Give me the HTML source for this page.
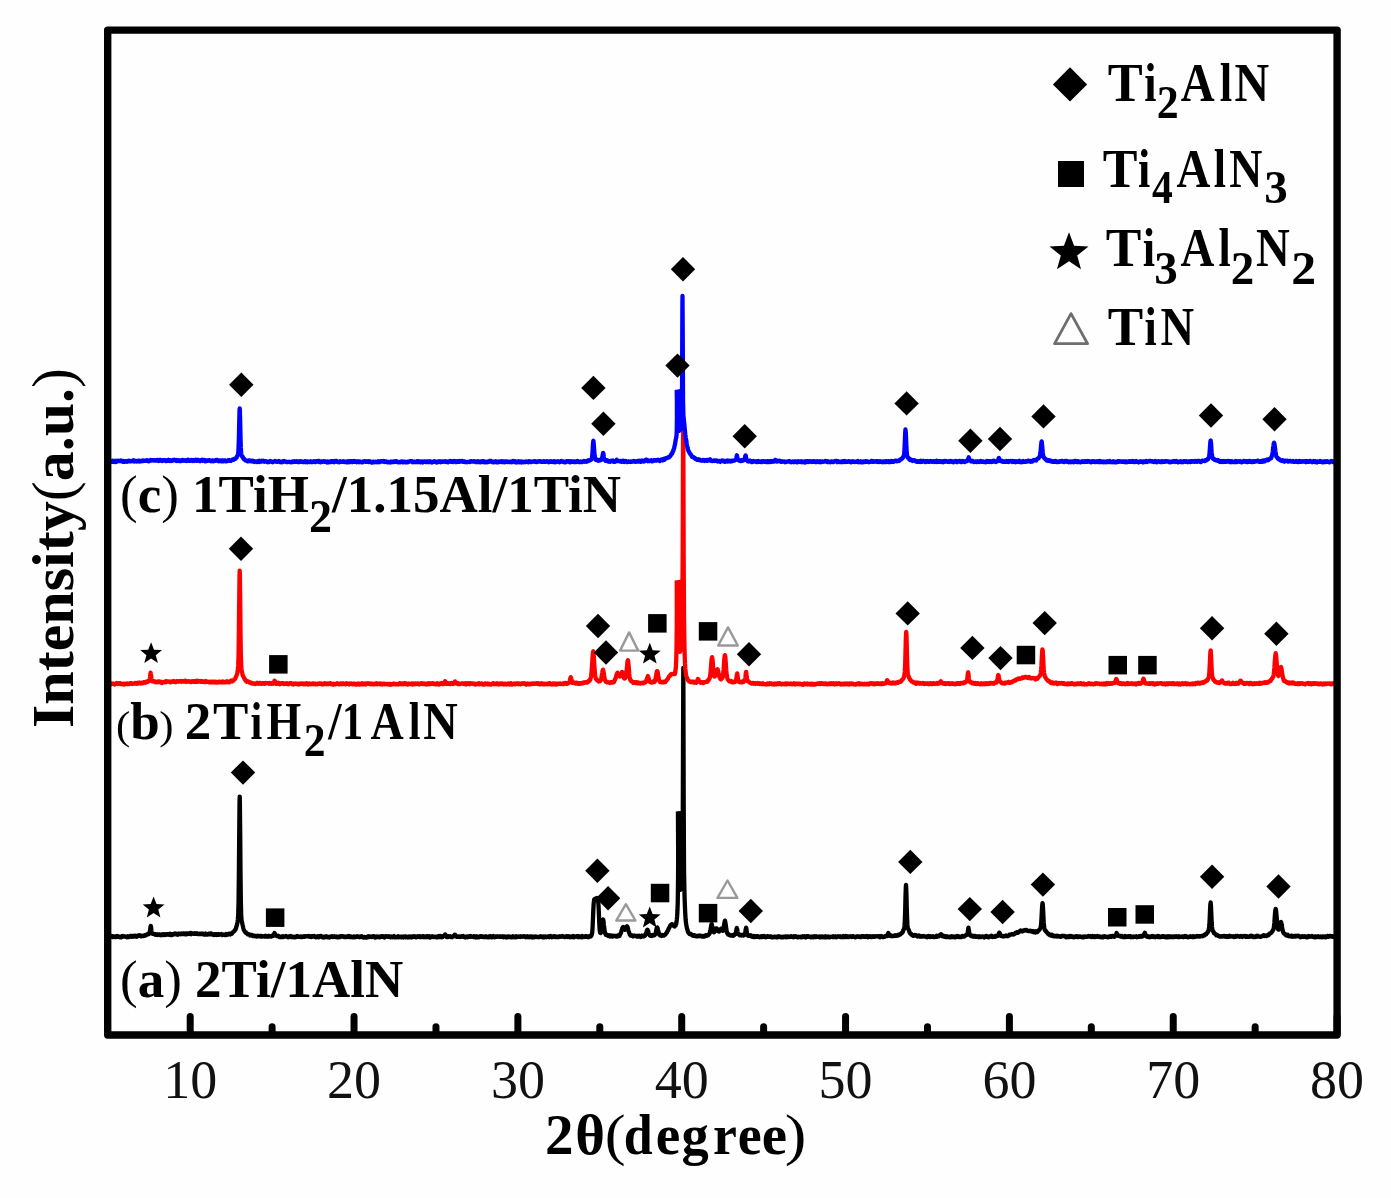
<!DOCTYPE html>
<html><head><meta charset="utf-8"><style>
html,body{margin:0;padding:0;background:#fefefe;}
svg{display:block;will-change:transform;}
</style></head><body>
<svg width="1391" height="1198" viewBox="0 0 1391 1198">
<rect width="1391" height="1198" fill="#fefefe"/>
<g>
<g fill="none" stroke-width="4.3" stroke-linejoin="round" stroke-linecap="round">
<path stroke="#000" d="M109.50,936.44 L109.83,936.62 L110.16,936.53 L110.49,936.71 L110.82,936.83 L111.15,936.32 L111.48,936.02 L111.81,936.69 L112.14,936.44 L112.47,936.29 L112.80,936.98 L113.13,936.79 L113.46,937.07 L113.79,936.84 L114.12,936.89 L114.45,936.42 L114.78,936.67 L115.11,937.03 L115.44,936.86 L115.77,936.99 L116.10,936.98 L116.43,936.37 L116.76,936.76 L117.09,936.78 L117.42,936.50 L117.75,936.09 L118.08,936.71 L118.41,936.63 L118.74,936.83 L119.07,937.09 L119.40,937.05 L119.73,937.24 L120.06,936.80 L120.39,936.99 L120.72,936.72 L121.05,937.07 L121.38,937.19 L121.71,936.46 L122.04,936.14 L122.37,936.05 L122.70,936.75 L123.03,936.57 L123.36,936.67 L123.69,936.39 L124.02,936.45 L124.35,936.35 L124.68,936.27 L125.01,936.46 L125.34,936.55 L125.67,936.91 L126.00,936.86 L126.33,937.08 L126.66,937.11 L126.99,937.26 L127.32,937.01 L127.65,936.37 L127.98,936.74 L128.31,937.03 L128.64,937.11 L128.97,936.81 L129.30,936.80 L129.63,936.28 L129.96,936.64 L130.29,936.56 L130.62,936.22 L130.95,935.83 L131.28,936.41 L131.61,936.84 L131.94,936.14 L132.27,936.50 L132.60,936.28 L132.93,935.91 L133.26,935.86 L133.59,936.30 L133.92,936.62 L134.25,935.94 L134.58,936.17 L134.91,935.70 L135.24,936.14 L135.57,935.96 L135.90,936.41 L136.23,936.73 L136.56,936.40 L136.89,936.73 L137.22,936.19 L137.55,935.68 L137.88,935.94 L138.21,935.49 L138.54,935.42 L138.87,935.58 L139.20,935.86 L139.53,935.53 L139.86,935.24 L140.19,935.91 L140.52,935.68 L140.85,936.19 L141.18,936.37 L141.51,935.93 L141.84,935.78 L142.17,935.74 L142.50,935.83 L142.83,935.81 L143.16,935.74 L143.49,935.74 L143.82,936.04 L144.15,935.73 L144.48,935.47 L144.81,935.60 L145.14,935.15 L145.47,934.95 L145.80,935.49 L146.13,935.25 L146.46,935.11 L146.79,934.44 L147.12,934.45 L147.45,934.55 L147.78,933.96 L148.11,934.17 L148.44,934.20 L148.77,933.55 L149.10,933.65 L149.43,933.20 L149.76,932.28 L150.09,929.75 L150.42,927.27 L150.70,926.40 L150.75,925.79 L151.08,927.21 L151.41,930.44 L151.74,932.88 L152.07,933.26 L152.40,933.55 L152.73,933.85 L153.06,933.78 L153.39,933.85 L153.72,933.89 L154.05,934.01 L154.38,934.33 L154.71,934.23 L155.04,934.28 L155.37,934.72 L155.70,934.22 L156.03,934.52 L156.36,934.85 L156.69,934.60 L157.02,934.40 L157.35,934.88 L157.68,934.56 L158.01,934.35 L158.34,934.50 L158.67,934.83 L159.00,934.40 L159.33,934.40 L159.66,934.42 L159.99,934.92 L160.32,934.77 L160.65,935.11 L160.98,934.59 L161.31,934.49 L161.64,934.75 L161.97,935.11 L162.30,934.84 L162.63,934.48 L162.96,934.19 L163.29,934.44 L163.62,934.23 L163.95,934.73 L164.28,935.00 L164.61,934.48 L164.94,934.30 L165.27,934.73 L165.60,934.78 L165.93,934.96 L166.26,934.58 L166.59,934.16 L166.92,934.11 L167.25,934.58 L167.58,934.28 L167.91,934.20 L168.24,934.22 L168.57,934.23 L168.90,934.21 L169.23,934.71 L169.56,934.18 L169.89,933.76 L170.22,934.48 L170.55,934.77 L170.88,935.01 L171.21,934.58 L171.54,934.87 L171.87,934.98 L172.20,934.32 L172.53,934.51 L172.86,934.69 L173.19,934.60 L173.52,934.40 L173.85,934.07 L174.18,933.94 L174.51,933.76 L174.84,933.50 L175.17,933.89 L175.50,933.77 L175.83,934.23 L176.16,933.69 L176.49,934.27 L176.82,934.35 L177.15,934.61 L177.48,934.70 L177.81,934.75 L178.14,934.45 L178.47,933.72 L178.80,934.09 L179.13,933.69 L179.46,933.62 L179.79,933.90 L180.12,933.91 L180.45,933.80 L180.78,934.27 L181.11,934.17 L181.44,933.85 L181.77,933.59 L182.10,934.07 L182.43,933.92 L182.76,934.15 L183.09,933.83 L183.42,933.51 L183.75,933.68 L184.08,934.05 L184.41,933.58 L184.74,933.97 L185.07,934.29 L185.40,934.33 L185.73,934.37 L186.06,933.56 L186.39,933.78 L186.72,934.13 L187.05,933.48 L187.38,933.38 L187.71,933.32 L188.04,933.55 L188.37,933.56 L188.70,933.62 L189.03,933.95 L189.36,933.34 L189.69,933.08 L190.02,933.03 L190.35,933.00 L190.68,932.93 L191.01,933.80 L191.34,934.12 L191.67,933.51 L192.00,933.62 L192.33,933.49 L192.66,933.42 L192.99,933.43 L193.32,933.73 L193.65,933.82 L193.98,933.64 L194.31,933.39 L194.64,933.40 L194.97,933.20 L195.30,933.54 L195.63,933.87 L195.96,933.70 L196.29,933.32 L196.62,933.23 L196.95,933.38 L197.28,933.69 L197.61,934.03 L197.94,933.80 L198.27,934.11 L198.60,934.09 L198.93,933.89 L199.26,933.74 L199.59,933.79 L199.92,934.03 L200.25,933.87 L200.58,934.07 L200.91,933.94 L201.24,933.66 L201.57,933.82 L201.90,934.07 L202.23,933.57 L202.56,933.68 L202.89,933.74 L203.22,934.23 L203.55,934.54 L203.88,934.14 L204.21,934.47 L204.54,934.53 L204.87,934.04 L205.20,934.00 L205.53,933.65 L205.86,934.17 L206.19,934.28 L206.52,934.57 L206.85,934.63 L207.18,934.54 L207.51,934.57 L207.84,934.42 L208.17,933.89 L208.50,934.11 L208.83,933.65 L209.16,933.57 L209.49,934.16 L209.82,933.74 L210.15,933.58 L210.48,933.51 L210.81,934.27 L211.14,933.96 L211.47,933.65 L211.80,934.32 L212.13,933.94 L212.46,934.48 L212.79,934.59 L213.12,934.81 L213.45,935.05 L213.78,934.80 L214.11,934.90 L214.44,934.19 L214.77,934.58 L215.10,934.52 L215.43,934.70 L215.76,934.19 L216.09,934.58 L216.42,934.97 L216.75,934.29 L217.08,934.23 L217.41,934.44 L217.74,934.81 L218.07,934.42 L218.40,934.16 L218.73,934.11 L219.06,934.45 L219.39,934.77 L219.72,934.57 L220.05,934.45 L220.38,934.42 L220.71,934.36 L221.04,934.40 L221.37,934.09 L221.70,934.35 L222.03,934.95 L222.36,934.69 L222.69,934.90 L223.02,934.41 L223.35,934.70 L223.68,934.90 L224.01,934.92 L224.34,934.77 L224.67,934.66 L225.00,934.75 L225.33,935.05 L225.66,934.44 L225.99,934.07 L226.32,934.53 L226.65,934.91 L226.98,934.69 L227.31,934.49 L227.64,934.64 L227.97,934.17 L228.30,933.99 L228.63,933.80 L228.96,934.07 L229.29,933.89 L229.62,933.69 L229.95,934.00 L230.28,934.37 L230.61,933.85 L230.94,933.94 L231.27,933.62 L231.60,933.83 L231.93,933.57 L232.26,933.03 L232.59,932.60 L232.92,932.07 L233.25,932.11 L233.58,931.87 L233.91,931.34 L234.24,931.05 L234.57,930.61 L234.90,930.54 L235.23,929.53 L235.56,929.47 L235.89,928.44 L236.22,927.49 L236.55,926.23 L236.88,925.21 L237.21,923.80 L237.54,921.78 L237.87,919.16 L238.20,914.58 L238.53,902.88 L238.86,876.28 L239.19,836.46 L239.52,802.85 L239.70,796.63 L239.85,800.35 L240.18,832.09 L240.51,873.04 L240.84,900.98 L241.17,914.29 L241.50,919.52 L241.83,921.53 L242.16,923.07 L242.49,924.56 L242.82,925.82 L243.15,927.46 L243.48,928.86 L243.81,929.97 L244.14,930.19 L244.47,931.18 L244.80,931.36 L245.13,931.77 L245.46,932.45 L245.79,932.31 L246.12,932.39 L246.45,933.30 L246.78,933.32 L247.11,933.50 L247.44,933.90 L247.77,934.28 L248.10,933.87 L248.43,934.06 L248.76,934.32 L249.09,934.55 L249.42,934.45 L249.75,934.82 L250.08,935.41 L250.41,935.19 L250.74,935.27 L251.07,934.91 L251.40,934.93 L251.73,935.35 L252.06,935.04 L252.39,935.69 L252.72,936.05 L253.05,935.45 L253.38,936.01 L253.71,935.75 L254.04,936.03 L254.37,936.18 L254.70,935.81 L255.03,936.02 L255.36,936.12 L255.69,936.33 L256.02,935.91 L256.35,936.21 L256.68,936.57 L257.01,936.48 L257.34,936.31 L257.67,935.81 L258.00,935.95 L258.33,935.89 L258.66,936.23 L258.99,936.38 L259.32,936.34 L259.65,935.95 L259.98,936.22 L260.31,936.35 L260.64,935.97 L260.97,936.50 L261.30,936.54 L261.63,936.03 L261.96,936.59 L262.29,936.08 L262.62,936.03 L262.95,936.39 L263.28,936.45 L263.61,936.45 L263.94,936.54 L264.27,936.40 L264.60,936.19 L264.93,935.95 L265.26,935.72 L265.59,936.26 L265.92,936.57 L266.25,936.51 L266.58,936.68 L266.91,936.38 L267.24,936.14 L267.57,936.13 L267.90,936.62 L268.23,936.03 L268.56,936.19 L268.89,936.01 L269.22,936.43 L269.55,936.22 L269.88,936.09 L270.21,936.08 L270.54,936.20 L270.87,936.47 L271.20,936.17 L271.53,936.50 L271.86,935.90 L272.19,935.73 L272.52,935.45 L272.85,935.29 L273.18,935.82 L273.51,935.88 L273.84,934.96 L274.17,933.84 L274.50,933.06 L274.70,933.25 L274.83,933.61 L275.16,934.48 L275.49,935.34 L275.82,935.44 L276.15,935.69 L276.48,935.58 L276.81,935.89 L277.14,936.10 L277.47,935.87 L277.80,935.83 L278.13,936.36 L278.46,935.89 L278.79,936.45 L279.12,936.83 L279.45,937.09 L279.78,936.66 L280.11,936.63 L280.44,936.65 L280.77,936.72 L281.10,937.11 L281.43,937.02 L281.76,936.59 L282.09,936.94 L282.42,936.75 L282.75,936.77 L283.08,936.92 L283.41,936.27 L283.74,936.71 L284.07,936.83 L284.40,936.72 L284.73,936.70 L285.06,936.63 L285.39,936.33 L285.72,936.52 L286.05,936.13 L286.38,936.40 L286.71,936.68 L287.04,936.62 L287.37,936.71 L287.70,937.15 L288.03,937.31 L288.36,936.63 L288.69,936.95 L289.02,936.94 L289.35,936.37 L289.68,936.39 L290.01,936.28 L290.34,936.07 L290.67,936.42 L291.00,936.99 L291.33,936.67 L291.66,937.06 L291.99,937.08 L292.32,936.53 L292.65,936.98 L292.98,936.95 L293.31,937.26 L293.64,937.21 L293.97,937.20 L294.30,936.81 L294.63,937.07 L294.96,937.33 L295.29,937.39 L295.62,937.00 L295.95,937.12 L296.28,936.91 L296.61,936.43 L296.94,936.12 L297.27,936.01 L297.60,936.07 L297.93,936.06 L298.26,936.40 L298.59,936.77 L298.92,936.79 L299.25,936.69 L299.58,936.86 L299.91,936.65 L300.24,936.68 L300.57,936.99 L300.90,936.79 L301.23,936.47 L301.56,937.03 L301.89,937.13 L302.22,936.82 L302.55,936.68 L302.88,936.76 L303.21,936.87 L303.54,936.55 L303.87,936.17 L304.20,936.19 L304.53,936.77 L304.86,936.43 L305.19,936.57 L305.52,936.37 L305.85,936.29 L306.18,936.21 L306.51,936.41 L306.84,936.27 L307.17,936.06 L307.50,936.03 L307.83,936.08 L308.16,936.43 L308.49,936.17 L308.82,936.00 L309.15,936.35 L309.48,936.48 L309.81,936.84 L310.14,936.37 L310.47,936.48 L310.80,936.53 L311.13,936.19 L311.46,936.96 L311.79,936.59 L312.12,936.29 L312.45,936.52 L312.78,936.32 L313.11,936.68 L313.44,936.58 L313.77,936.31 L314.10,936.11 L314.43,936.68 L314.76,936.51 L315.09,936.94 L315.42,936.83 L315.75,937.25 L316.08,936.82 L316.41,936.56 L316.74,936.44 L317.07,936.93 L317.40,936.99 L317.73,936.74 L318.06,936.36 L318.39,936.76 L318.72,937.25 L319.05,937.11 L319.38,936.46 L319.71,936.16 L320.04,936.07 L320.37,936.10 L320.70,935.99 L321.03,935.94 L321.36,936.52 L321.69,937.06 L322.02,936.63 L322.35,937.19 L322.68,936.97 L323.01,937.19 L323.34,937.41 L323.67,937.54 L324.00,936.70 L324.33,936.56 L324.66,936.78 L324.99,937.24 L325.32,936.60 L325.65,936.49 L325.98,937.00 L326.31,936.51 L326.64,936.54 L326.97,936.50 L327.30,936.83 L327.63,937.24 L327.96,936.69 L328.29,936.99 L328.62,937.13 L328.95,937.30 L329.28,937.10 L329.61,937.37 L329.94,936.95 L330.27,936.79 L330.60,936.52 L330.93,936.94 L331.26,936.85 L331.59,936.59 L331.92,936.36 L332.25,936.80 L332.58,936.91 L332.91,937.06 L333.24,936.82 L333.57,936.79 L333.90,936.45 L334.23,936.83 L334.56,936.34 L334.89,936.54 L335.22,936.93 L335.55,937.04 L335.88,936.52 L336.21,936.40 L336.54,936.94 L336.87,937.01 L337.20,937.29 L337.53,937.41 L337.86,937.06 L338.19,937.33 L338.52,937.30 L338.85,936.88 L339.18,936.71 L339.51,936.33 L339.84,936.46 L340.17,937.09 L340.50,936.55 L340.83,936.74 L341.16,936.38 L341.49,936.17 L341.82,936.64 L342.15,936.46 L342.48,936.18 L342.81,936.14 L343.14,936.62 L343.47,936.79 L343.80,936.31 L344.13,936.28 L344.46,937.01 L344.79,936.62 L345.12,936.77 L345.45,936.71 L345.78,937.03 L346.11,937.02 L346.44,937.20 L346.77,937.03 L347.10,936.61 L347.43,936.38 L347.76,936.17 L348.09,936.81 L348.42,936.42 L348.75,936.13 L349.08,936.93 L349.41,936.57 L349.74,937.08 L350.07,936.52 L350.40,936.63 L350.73,936.44 L351.06,936.95 L351.39,936.99 L351.72,937.04 L352.05,937.18 L352.38,937.36 L352.71,936.93 L353.04,936.97 L353.37,936.83 L353.70,936.43 L354.03,936.95 L354.36,936.97 L354.69,937.20 L355.02,936.71 L355.35,936.79 L355.68,936.76 L356.01,937.01 L356.34,936.48 L356.67,936.49 L357.00,936.63 L357.33,936.29 L357.66,936.60 L357.99,936.93 L358.32,936.79 L358.65,936.94 L358.98,936.98 L359.31,936.60 L359.64,936.55 L359.97,937.17 L360.30,936.82 L360.63,936.74 L360.96,936.35 L361.29,936.30 L361.62,936.21 L361.95,936.94 L362.28,937.10 L362.61,937.32 L362.94,937.55 L363.27,937.29 L363.60,937.47 L363.93,937.17 L364.26,936.91 L364.59,937.30 L364.92,937.45 L365.25,937.58 L365.58,937.17 L365.91,937.26 L366.24,936.94 L366.57,937.37 L366.90,937.50 L367.23,936.94 L367.56,937.31 L367.89,936.74 L368.22,936.36 L368.55,936.80 L368.88,936.60 L369.21,936.72 L369.54,936.90 L369.87,936.39 L370.20,936.84 L370.53,936.60 L370.86,936.63 L371.19,936.56 L371.52,936.92 L371.85,937.11 L372.18,936.74 L372.51,936.37 L372.84,936.39 L373.17,936.50 L373.50,936.23 L373.83,936.17 L374.16,936.75 L374.49,936.97 L374.82,937.36 L375.15,937.56 L375.48,937.56 L375.81,937.05 L376.14,936.59 L376.47,936.51 L376.80,936.62 L377.13,936.73 L377.46,936.81 L377.79,936.66 L378.12,937.08 L378.45,936.73 L378.78,936.73 L379.11,937.15 L379.44,937.28 L379.77,936.84 L380.10,936.56 L380.43,936.99 L380.76,936.40 L381.09,936.23 L381.42,936.55 L381.75,936.71 L382.08,936.42 L382.41,936.16 L382.74,936.18 L383.07,936.76 L383.40,936.75 L383.73,937.25 L384.06,937.31 L384.39,937.54 L384.72,936.70 L385.05,936.44 L385.38,936.13 L385.71,936.40 L386.04,936.44 L386.37,936.17 L386.70,936.53 L387.03,936.26 L387.36,936.34 L387.69,936.32 L388.02,936.86 L388.35,936.75 L388.68,936.53 L389.01,936.21 L389.34,936.43 L389.67,936.74 L390.00,936.95 L390.33,937.28 L390.66,937.35 L390.99,936.82 L391.32,936.45 L391.65,936.88 L391.98,937.13 L392.31,936.97 L392.64,937.22 L392.97,937.06 L393.30,936.71 L393.63,936.42 L393.96,936.13 L394.29,936.61 L394.62,937.10 L394.95,937.35 L395.28,937.04 L395.61,937.09 L395.94,937.37 L396.27,937.40 L396.60,937.20 L396.93,936.91 L397.26,936.87 L397.59,936.51 L397.92,936.33 L398.25,936.75 L398.58,937.26 L398.91,937.08 L399.24,936.85 L399.57,936.67 L399.90,936.69 L400.23,937.05 L400.56,936.87 L400.89,937.29 L401.22,936.70 L401.55,936.56 L401.88,936.70 L402.21,936.66 L402.54,937.08 L402.87,937.26 L403.20,937.46 L403.53,937.24 L403.86,936.55 L404.19,936.75 L404.52,936.82 L404.85,936.80 L405.18,936.58 L405.51,936.89 L405.84,937.26 L406.17,936.63 L406.50,936.88 L406.83,936.71 L407.16,936.77 L407.49,937.18 L407.82,937.45 L408.15,937.26 L408.48,936.72 L408.81,937.18 L409.14,936.67 L409.47,936.61 L409.80,937.03 L410.13,936.73 L410.46,936.53 L410.79,937.11 L411.12,937.40 L411.45,936.91 L411.78,936.75 L412.11,936.55 L412.44,936.30 L412.77,936.30 L413.10,937.03 L413.43,936.49 L413.76,936.37 L414.09,936.28 L414.42,936.12 L414.75,936.48 L415.08,936.88 L415.41,937.17 L415.74,937.11 L416.07,937.27 L416.40,936.54 L416.73,936.45 L417.06,937.08 L417.39,936.50 L417.72,936.41 L418.05,936.59 L418.38,936.46 L418.71,936.67 L419.04,936.28 L419.37,936.27 L419.70,936.99 L420.03,936.53 L420.36,937.07 L420.69,936.60 L421.02,937.19 L421.35,937.16 L421.68,937.12 L422.01,936.60 L422.34,936.25 L422.67,936.78 L423.00,936.46 L423.33,936.31 L423.66,936.87 L423.99,937.20 L424.32,936.54 L424.65,937.12 L424.98,936.99 L425.31,936.77 L425.64,936.38 L425.97,936.47 L426.30,937.11 L426.63,936.73 L426.96,936.39 L427.29,936.23 L427.62,936.13 L427.95,936.31 L428.28,936.96 L428.61,936.44 L428.94,936.30 L429.27,936.98 L429.60,937.37 L429.93,937.55 L430.26,936.91 L430.59,936.69 L430.92,937.18 L431.25,936.96 L431.58,937.07 L431.91,936.73 L432.24,936.27 L432.57,936.36 L432.90,936.81 L433.23,937.06 L433.56,936.98 L433.89,936.83 L434.22,936.83 L434.55,936.73 L434.88,936.77 L435.21,937.09 L435.54,936.61 L435.87,936.77 L436.20,937.18 L436.53,937.30 L436.86,936.69 L437.19,937.17 L437.52,937.28 L437.85,936.66 L438.18,936.44 L438.51,936.27 L438.84,936.03 L439.17,936.83 L439.50,936.65 L439.83,937.02 L440.16,936.44 L440.49,936.04 L440.82,936.69 L441.15,936.92 L441.48,937.23 L441.81,937.06 L442.14,936.80 L442.47,936.89 L442.80,936.25 L443.13,936.35 L443.46,936.28 L443.79,935.90 L444.12,936.04 L444.45,935.51 L444.78,935.02 L445.11,934.51 L445.20,934.39 L445.44,934.55 L445.77,935.37 L446.10,936.40 L446.43,936.88 L446.76,937.01 L447.09,937.04 L447.42,936.52 L447.75,936.96 L448.08,936.49 L448.41,936.11 L448.74,936.31 L449.07,936.64 L449.40,936.42 L449.73,936.61 L450.06,936.35 L450.39,936.90 L450.72,936.65 L451.05,936.55 L451.38,936.54 L451.71,936.87 L452.04,937.14 L452.37,936.80 L452.70,936.53 L453.03,936.55 L453.36,935.99 L453.69,936.00 L454.02,936.25 L454.35,935.94 L454.68,934.70 L455.00,934.90 L455.01,934.66 L455.34,935.47 L455.67,935.71 L456.00,935.83 L456.33,936.21 L456.66,936.71 L456.99,936.51 L457.32,936.86 L457.65,936.90 L457.98,936.58 L458.31,936.37 L458.64,936.49 L458.97,936.45 L459.30,936.41 L459.63,936.68 L459.96,937.04 L460.29,936.94 L460.62,936.45 L460.95,936.29 L461.28,936.36 L461.61,936.65 L461.94,936.32 L462.27,936.10 L462.60,936.23 L462.93,936.26 L463.26,936.02 L463.59,936.42 L463.92,937.00 L464.25,936.90 L464.58,937.06 L464.91,937.23 L465.24,937.33 L465.57,937.45 L465.90,937.05 L466.23,937.08 L466.56,936.54 L466.89,937.03 L467.22,936.78 L467.55,936.75 L467.88,937.15 L468.21,936.74 L468.54,936.45 L468.87,936.93 L469.20,936.95 L469.53,936.45 L469.86,936.14 L470.19,936.31 L470.52,936.05 L470.85,936.74 L471.18,936.44 L471.51,936.39 L471.84,936.47 L472.17,936.64 L472.50,936.64 L472.83,936.84 L473.16,936.97 L473.49,936.81 L473.82,936.39 L474.15,937.07 L474.48,937.12 L474.81,936.53 L475.14,936.60 L475.47,936.95 L475.80,937.36 L476.13,936.64 L476.46,936.22 L476.79,936.48 L477.12,936.56 L477.45,937.07 L477.78,937.25 L478.11,936.85 L478.44,936.74 L478.77,936.85 L479.10,937.20 L479.43,936.70 L479.76,936.63 L480.09,936.30 L480.42,936.69 L480.75,936.26 L481.08,936.96 L481.41,936.90 L481.74,936.92 L482.07,936.44 L482.40,936.35 L482.73,936.54 L483.06,937.02 L483.39,936.95 L483.72,936.65 L484.05,937.20 L484.38,937.16 L484.71,937.00 L485.04,936.60 L485.37,936.49 L485.70,937.04 L486.03,936.55 L486.36,936.70 L486.69,936.87 L487.02,936.69 L487.35,937.01 L487.68,937.31 L488.01,937.41 L488.34,937.34 L488.67,936.77 L489.00,936.34 L489.33,936.50 L489.66,936.46 L489.99,936.32 L490.32,936.93 L490.65,936.58 L490.98,937.01 L491.31,937.34 L491.64,936.69 L491.97,937.15 L492.30,936.87 L492.63,936.55 L492.96,936.36 L493.29,936.11 L493.62,936.45 L493.95,936.51 L494.28,937.00 L494.61,937.23 L494.94,936.57 L495.27,936.58 L495.60,936.58 L495.93,936.36 L496.26,936.33 L496.59,936.33 L496.92,936.76 L497.25,936.62 L497.58,936.32 L497.91,936.28 L498.24,936.48 L498.57,936.70 L498.90,936.49 L499.23,936.84 L499.56,936.54 L499.89,936.84 L500.22,936.93 L500.55,936.54 L500.88,936.92 L501.21,936.75 L501.54,936.81 L501.87,936.90 L502.20,936.98 L502.53,936.83 L502.86,936.37 L503.19,936.87 L503.52,937.19 L503.85,936.98 L504.18,936.97 L504.51,936.65 L504.84,937.12 L505.17,937.15 L505.50,936.69 L505.83,937.06 L506.16,937.42 L506.49,936.95 L506.82,937.37 L507.15,937.07 L507.48,936.61 L507.81,936.92 L508.14,936.70 L508.47,936.98 L508.80,936.97 L509.13,936.49 L509.46,936.67 L509.79,937.09 L510.12,936.92 L510.45,936.90 L510.78,937.21 L511.11,936.95 L511.44,936.87 L511.77,936.92 L512.10,937.18 L512.43,936.69 L512.76,936.34 L513.09,936.83 L513.42,936.87 L513.75,936.64 L514.08,937.11 L514.41,937.34 L514.74,937.11 L515.07,937.44 L515.40,937.46 L515.73,937.38 L516.06,936.88 L516.39,936.35 L516.72,936.75 L517.05,937.01 L517.38,936.76 L517.71,936.76 L518.04,936.85 L518.37,936.57 L518.70,936.88 L519.03,936.90 L519.36,936.74 L519.69,936.38 L520.02,936.64 L520.35,936.54 L520.68,936.90 L521.01,936.52 L521.34,936.55 L521.67,936.37 L522.00,936.50 L522.33,936.72 L522.66,936.37 L522.99,936.14 L523.32,936.45 L523.65,936.33 L523.98,936.57 L524.31,936.35 L524.64,936.18 L524.97,936.53 L525.30,937.09 L525.63,937.31 L525.96,937.07 L526.29,936.83 L526.62,936.38 L526.95,936.37 L527.28,936.40 L527.61,937.04 L527.94,936.54 L528.27,937.12 L528.60,936.94 L528.93,936.80 L529.26,936.56 L529.59,937.14 L529.92,936.66 L530.25,936.80 L530.58,936.81 L530.91,936.50 L531.24,936.38 L531.57,937.07 L531.90,937.23 L532.23,937.25 L532.56,937.43 L532.89,936.71 L533.22,936.96 L533.55,937.13 L533.88,936.69 L534.21,936.70 L534.54,937.23 L534.87,936.84 L535.20,937.08 L535.53,936.61 L535.86,936.87 L536.19,936.60 L536.52,936.71 L536.85,936.63 L537.18,937.08 L537.51,937.19 L537.84,937.00 L538.17,937.09 L538.50,936.87 L538.83,937.14 L539.16,936.73 L539.49,936.81 L539.82,936.89 L540.15,936.73 L540.48,936.31 L540.81,936.23 L541.14,936.65 L541.47,936.44 L541.80,936.88 L542.13,936.84 L542.46,937.27 L542.79,937.39 L543.12,937.31 L543.45,936.92 L543.78,936.40 L544.11,936.65 L544.44,936.96 L544.77,937.30 L545.10,936.75 L545.43,936.43 L545.76,937.09 L546.09,937.18 L546.42,936.97 L546.75,937.12 L547.08,936.60 L547.41,936.74 L547.74,936.93 L548.07,936.96 L548.40,936.54 L548.73,936.30 L549.06,936.67 L549.39,937.11 L549.72,936.59 L550.05,936.19 L550.38,936.07 L550.71,936.71 L551.04,936.64 L551.37,936.67 L551.70,937.22 L552.03,937.11 L552.36,936.71 L552.69,936.95 L553.02,936.37 L553.35,936.36 L553.68,936.77 L554.01,936.45 L554.34,936.15 L554.67,936.48 L555.00,936.46 L555.33,937.09 L555.66,936.54 L555.99,936.96 L556.32,936.76 L556.65,937.08 L556.98,936.87 L557.31,936.99 L557.64,936.71 L557.97,936.47 L558.30,936.58 L558.63,936.98 L558.96,936.72 L559.29,936.48 L559.62,936.55 L559.95,936.26 L560.28,936.33 L560.61,936.63 L560.94,936.75 L561.27,936.86 L561.60,936.61 L561.93,936.22 L562.26,936.02 L562.59,936.24 L562.92,936.20 L563.25,936.55 L563.58,936.43 L563.91,936.86 L564.24,936.91 L564.57,937.00 L564.90,937.12 L565.23,936.97 L565.56,936.79 L565.89,936.59 L566.22,936.24 L566.55,936.80 L566.88,936.78 L567.21,936.37 L567.54,936.99 L567.87,936.95 L568.20,936.98 L568.53,936.80 L568.86,936.40 L569.19,937.08 L569.52,936.58 L569.85,936.53 L570.18,937.14 L570.51,936.57 L570.84,936.66 L571.17,936.68 L571.50,936.46 L571.83,937.03 L572.16,936.80 L572.49,936.28 L572.82,936.49 L573.15,936.12 L573.48,936.64 L573.81,937.06 L574.14,937.30 L574.47,936.57 L574.80,936.83 L575.13,936.58 L575.46,936.63 L575.79,936.48 L576.12,936.41 L576.45,936.20 L576.78,936.59 L577.11,936.24 L577.44,936.95 L577.77,936.38 L578.10,937.01 L578.43,936.55 L578.76,936.22 L579.09,936.71 L579.42,936.74 L579.75,936.99 L580.08,936.86 L580.41,936.91 L580.74,936.39 L581.07,936.72 L581.40,936.72 L581.73,937.17 L582.06,936.43 L582.39,936.13 L582.72,936.58 L583.05,937.05 L583.38,936.79 L583.71,936.94 L584.04,936.86 L584.37,936.65 L584.70,936.62 L585.03,936.74 L585.36,936.22 L585.69,936.24 L586.02,936.67 L586.35,936.41 L586.68,936.49 L587.01,936.31 L587.34,936.32 L587.67,936.61 L588.00,936.84 L588.33,937.17 L588.66,936.85 L588.99,936.41 L589.32,936.32 L589.65,935.99 L589.98,935.99 L590.31,936.33 L590.64,936.49 L590.97,936.14 L591.30,935.76 L591.63,935.12 L591.96,934.00 L592.29,931.77 L592.62,926.55 L592.95,919.17 L593.28,910.66 L593.61,904.35 L593.94,901.10 L594.27,899.25 L594.60,899.12 L594.93,899.11 L595.26,898.72 L595.59,898.87 L595.92,898.48 L596.25,898.20 L596.58,898.06 L596.91,897.96 L597.24,898.39 L597.57,898.90 L597.90,899.92 L598.23,901.47 L598.56,906.30 L598.89,913.58 L599.22,921.89 L599.55,928.33 L599.88,931.68 L600.21,932.76 L600.54,933.01 L600.87,932.75 L601.20,931.73 L601.53,930.04 L601.86,926.76 L602.19,924.10 L602.52,921.47 L602.85,919.83 L603.00,919.90 L603.18,919.45 L603.51,921.46 L603.84,924.53 L604.17,926.96 L604.50,929.78 L604.83,932.17 L605.16,933.00 L605.49,934.13 L605.82,934.83 L606.15,934.78 L606.48,934.55 L606.81,934.58 L607.14,935.28 L607.47,935.28 L607.80,935.23 L608.13,935.37 L608.46,935.97 L608.79,935.63 L609.12,935.26 L609.45,936.03 L609.78,935.80 L610.11,935.78 L610.44,936.38 L610.77,936.00 L611.10,935.62 L611.43,936.25 L611.76,935.92 L612.09,935.75 L612.42,936.38 L612.75,935.99 L613.08,936.47 L613.41,936.14 L613.74,935.95 L614.07,935.76 L614.40,935.99 L614.73,936.11 L615.06,936.01 L615.39,936.05 L615.72,935.86 L616.05,936.28 L616.38,936.58 L616.71,936.52 L617.04,936.54 L617.37,935.77 L617.70,935.54 L618.03,935.34 L618.36,935.15 L618.69,935.80 L619.02,936.00 L619.35,936.00 L619.68,935.50 L620.01,934.59 L620.34,934.14 L620.67,933.14 L621.00,932.96 L621.33,931.61 L621.66,930.31 L621.99,929.71 L622.32,928.20 L622.65,927.93 L622.98,927.19 L623.00,927.36 L623.31,926.92 L623.64,927.91 L623.97,928.35 L624.30,928.86 L624.63,929.59 L624.96,929.82 L625.29,929.30 L625.62,928.47 L625.95,928.02 L626.28,926.86 L626.61,926.94 L626.94,926.55 L627.00,926.28 L627.27,926.56 L627.60,927.07 L627.93,928.24 L628.26,929.76 L628.59,931.02 L628.92,932.10 L629.25,932.98 L629.58,933.87 L629.91,934.78 L630.24,935.01 L630.57,935.52 L630.90,935.55 L631.23,935.25 L631.56,935.18 L631.89,935.86 L632.22,935.86 L632.55,935.78 L632.88,935.90 L633.21,936.32 L633.54,936.07 L633.87,935.94 L634.20,935.90 L634.53,935.54 L634.86,935.90 L635.19,936.02 L635.52,936.11 L635.85,936.11 L636.18,936.14 L636.51,936.41 L636.84,936.01 L637.17,936.61 L637.50,936.04 L637.83,936.51 L638.16,936.06 L638.49,936.45 L638.82,936.10 L639.15,935.75 L639.48,936.03 L639.81,936.46 L640.14,936.67 L640.47,936.80 L640.80,936.96 L641.13,936.10 L641.46,935.99 L641.79,935.64 L642.12,936.09 L642.45,936.00 L642.78,936.22 L643.11,936.35 L643.44,936.59 L643.77,936.34 L644.10,936.37 L644.43,936.00 L644.76,935.25 L645.09,935.54 L645.42,934.62 L645.75,933.76 L646.08,933.52 L646.41,932.22 L646.74,931.40 L647.07,930.06 L647.40,929.67 L647.73,930.44 L648.06,930.80 L648.39,932.11 L648.72,933.69 L649.05,934.06 L649.38,934.89 L649.71,935.40 L650.04,935.56 L650.37,935.80 L650.70,935.86 L651.03,935.22 L651.36,935.08 L651.69,935.34 L652.02,935.90 L652.35,935.42 L652.68,935.52 L653.01,935.09 L653.34,935.56 L653.67,935.34 L654.00,935.25 L654.33,935.27 L654.66,934.60 L654.99,934.61 L655.32,934.28 L655.65,933.54 L655.98,931.78 L656.31,929.97 L656.64,928.30 L656.97,927.96 L657.20,927.59 L657.30,927.51 L657.63,928.27 L657.96,929.80 L658.29,931.06 L658.62,932.35 L658.95,933.79 L659.28,934.69 L659.61,934.75 L659.94,934.59 L660.27,935.40 L660.60,935.64 L660.93,935.65 L661.26,935.48 L661.59,935.97 L661.92,935.69 L662.25,935.33 L662.58,935.01 L662.91,935.08 L663.24,935.33 L663.57,935.16 L663.90,935.58 L664.23,935.40 L664.56,935.01 L664.89,934.87 L665.22,934.58 L665.55,934.27 L665.88,933.78 L666.21,933.32 L666.54,932.80 L666.87,932.59 L667.20,931.54 L667.53,931.29 L667.86,930.34 L668.19,930.08 L668.52,928.83 L668.85,928.30 L669.18,927.67 L669.51,927.34 L669.84,926.40 L670.17,925.77 L670.50,925.15 L670.83,925.13 L671.16,925.04 L671.49,924.39 L671.82,924.24 L672.15,924.23 L672.48,925.06 L672.81,925.09 L673.14,925.33 L673.47,925.30 L673.80,925.78 L674.13,926.27 L674.46,926.43 L674.79,925.82 L675.12,925.85 L675.45,925.68 L675.78,924.72 L676.11,924.29 L676.44,922.51 L676.77,919.92 L677.10,916.44 L677.43,911.00 L677.76,902.35 L678.09,875.18 L678.42,818.61 L678.50,813.61 L678.75,838.56 L679.08,878.56 L679.41,886.09 L679.74,888.58 L680.07,889.84 L680.40,889.79 L680.73,888.86 L681.06,886.91 L681.39,883.45 L681.72,878.97 L682.05,871.66 L682.38,861.39 L682.71,839.13 L683.04,739.36 L683.30,667.82 L683.37,675.96 L683.70,804.94 L684.03,870.42 L684.36,888.22 L684.69,900.11 L685.02,908.66 L685.35,915.38 L685.68,920.03 L686.01,923.14 L686.34,925.05 L686.67,926.92 L687.00,928.65 L687.33,929.28 L687.66,930.80 L687.99,931.77 L688.32,932.59 L688.65,932.97 L688.98,933.25 L689.31,933.91 L689.64,933.66 L689.97,933.68 L690.30,933.62 L690.63,933.73 L690.96,934.48 L691.29,934.22 L691.62,934.81 L691.95,934.81 L692.28,935.34 L692.61,935.53 L692.94,935.59 L693.27,935.82 L693.60,935.16 L693.93,935.09 L694.26,935.18 L694.59,935.31 L694.92,935.64 L695.25,936.04 L695.58,936.11 L695.91,936.36 L696.24,936.26 L696.57,935.89 L696.90,935.87 L697.23,936.11 L697.56,936.30 L697.89,935.96 L698.22,935.79 L698.55,935.97 L698.88,935.67 L699.21,936.19 L699.54,935.56 L699.87,935.90 L700.20,935.91 L700.53,935.62 L700.86,935.85 L701.19,935.87 L701.52,936.37 L701.85,936.53 L702.18,936.31 L702.51,936.48 L702.84,936.56 L703.17,935.88 L703.50,936.19 L703.83,936.33 L704.16,936.55 L704.49,936.41 L704.82,935.95 L705.15,935.51 L705.48,935.70 L705.81,935.33 L706.14,935.65 L706.47,935.59 L706.80,935.76 L707.13,935.33 L707.46,935.00 L707.79,935.36 L708.12,935.22 L708.45,934.76 L708.78,934.57 L709.11,934.12 L709.44,933.73 L709.77,932.80 L710.10,931.21 L710.43,929.97 L710.76,928.08 L711.09,926.13 L711.42,924.43 L711.60,923.89 L711.75,924.35 L712.08,925.62 L712.41,927.32 L712.74,928.79 L713.07,930.71 L713.40,931.77 L713.73,932.14 L714.06,932.34 L714.39,931.98 L714.72,931.58 L715.05,931.02 L715.38,930.52 L715.71,929.04 L716.04,928.54 L716.37,928.66 L716.50,928.56 L716.70,928.50 L717.03,929.09 L717.36,929.00 L717.69,930.14 L718.02,930.87 L718.35,931.38 L718.68,931.37 L719.01,931.51 L719.34,930.79 L719.67,930.45 L720.00,929.65 L720.33,929.62 L720.66,929.33 L720.99,928.87 L721.00,929.02 L721.32,928.81 L721.65,929.13 L721.98,929.25 L722.31,930.26 L722.64,930.74 L722.97,930.75 L723.30,929.42 L723.63,928.42 L723.96,925.75 L724.29,923.68 L724.62,921.82 L724.95,920.60 L725.00,920.75 L725.28,921.90 L725.61,923.76 L725.94,925.99 L726.27,928.88 L726.60,930.69 L726.93,932.58 L727.26,933.23 L727.59,933.33 L727.92,934.36 L728.25,934.04 L728.58,934.13 L728.91,934.76 L729.24,934.47 L729.57,934.80 L729.90,935.31 L730.23,935.33 L730.56,935.12 L730.89,935.44 L731.22,935.68 L731.55,935.55 L731.88,935.53 L732.21,935.21 L732.54,935.11 L732.87,935.62 L733.20,935.82 L733.53,934.90 L733.86,934.59 L734.19,934.41 L734.52,934.81 L734.85,934.35 L735.18,933.98 L735.51,934.12 L735.84,932.81 L736.17,931.43 L736.50,928.73 L736.80,928.02 L736.83,928.13 L737.16,929.01 L737.49,931.84 L737.82,933.45 L738.15,933.96 L738.48,933.94 L738.81,934.62 L739.14,934.86 L739.47,934.78 L739.80,935.31 L740.13,934.97 L740.46,935.08 L740.79,934.79 L741.12,934.92 L741.45,935.52 L741.78,935.43 L742.11,935.02 L742.44,934.88 L742.77,935.18 L743.10,934.92 L743.43,935.39 L743.76,934.72 L744.09,935.13 L744.42,935.01 L744.75,934.94 L745.08,933.82 L745.41,931.65 L745.74,929.14 L746.07,928.18 L746.10,927.76 L746.40,928.65 L746.73,931.64 L747.06,933.97 L747.39,935.08 L747.72,935.52 L748.05,935.46 L748.38,935.81 L748.71,935.88 L749.04,935.83 L749.37,935.72 L749.70,935.31 L750.03,935.22 L750.36,935.36 L750.69,935.68 L751.02,935.52 L751.35,936.32 L751.68,936.35 L752.01,936.54 L752.34,936.81 L752.67,936.30 L753.00,936.71 L753.33,937.00 L753.66,936.47 L753.99,936.08 L754.32,936.56 L754.65,936.90 L754.98,936.99 L755.31,936.65 L755.64,936.68 L755.97,936.22 L756.30,936.11 L756.63,936.25 L756.96,936.65 L757.29,936.19 L757.62,936.81 L757.95,936.23 L758.28,936.88 L758.61,936.48 L758.94,936.86 L759.27,937.05 L759.60,937.29 L759.93,936.93 L760.26,936.98 L760.59,936.60 L760.92,936.95 L761.25,936.41 L761.58,936.91 L761.91,936.88 L762.24,936.33 L762.57,936.94 L762.90,936.62 L763.23,936.21 L763.56,936.20 L763.89,935.97 L764.22,936.10 L764.55,936.60 L764.88,937.13 L765.21,937.04 L765.54,937.22 L765.87,937.28 L766.20,937.20 L766.53,936.83 L766.86,936.52 L767.19,936.27 L767.52,936.53 L767.85,936.32 L768.18,936.76 L768.51,936.55 L768.84,936.71 L769.17,936.76 L769.50,936.87 L769.83,936.45 L770.16,936.34 L770.49,936.72 L770.82,936.43 L771.15,936.75 L771.48,937.20 L771.81,936.86 L772.14,937.26 L772.47,937.11 L772.80,937.37 L773.13,937.08 L773.46,937.16 L773.79,937.13 L774.12,936.63 L774.45,936.71 L774.78,936.81 L775.11,936.74 L775.44,936.90 L775.77,937.23 L776.10,937.29 L776.43,937.33 L776.76,936.69 L777.09,936.92 L777.42,936.97 L777.75,937.30 L778.08,936.53 L778.41,936.32 L778.74,937.01 L779.07,936.76 L779.40,936.96 L779.73,936.95 L780.06,936.75 L780.39,936.70 L780.72,936.79 L781.05,937.27 L781.38,937.05 L781.71,937.20 L782.04,936.79 L782.37,936.99 L782.70,936.98 L783.03,937.12 L783.36,937.32 L783.69,936.63 L784.02,937.16 L784.35,937.08 L784.68,936.68 L785.01,936.70 L785.34,936.34 L785.67,936.29 L786.00,936.87 L786.33,937.04 L786.66,937.28 L786.99,936.69 L787.32,936.34 L787.65,936.44 L787.98,936.61 L788.31,936.91 L788.64,936.64 L788.97,936.95 L789.30,936.95 L789.63,936.66 L789.96,937.01 L790.29,936.47 L790.62,936.72 L790.95,936.44 L791.28,936.15 L791.61,936.45 L791.94,936.64 L792.27,936.82 L792.60,936.68 L792.93,937.16 L793.26,937.26 L793.59,936.68 L793.92,936.24 L794.25,936.97 L794.58,936.79 L794.91,936.39 L795.24,936.27 L795.57,936.73 L795.90,936.43 L796.23,936.48 L796.56,936.81 L796.89,936.66 L797.22,936.88 L797.55,937.28 L797.88,937.33 L798.21,937.19 L798.54,937.12 L798.87,936.77 L799.20,936.92 L799.53,937.01 L799.86,936.99 L800.19,936.88 L800.52,937.09 L800.85,936.65 L801.18,936.93 L801.51,937.34 L801.84,936.60 L802.17,936.45 L802.50,937.11 L802.83,936.53 L803.16,936.98 L803.49,936.97 L803.82,936.45 L804.15,936.75 L804.48,936.28 L804.81,936.89 L805.14,936.64 L805.47,937.14 L805.80,937.37 L806.13,936.72 L806.46,936.66 L806.79,936.38 L807.12,936.85 L807.45,936.42 L807.78,936.18 L808.11,936.11 L808.44,936.81 L808.77,936.55 L809.10,936.50 L809.43,936.60 L809.76,936.75 L810.09,936.69 L810.42,937.19 L810.75,936.84 L811.08,936.79 L811.41,937.16 L811.74,936.72 L812.07,936.44 L812.40,936.95 L812.73,936.69 L813.06,937.14 L813.39,937.29 L813.72,936.92 L814.05,936.69 L814.38,936.35 L814.71,936.95 L815.04,936.82 L815.37,936.65 L815.70,936.40 L816.03,936.33 L816.36,936.94 L816.69,936.50 L817.02,936.70 L817.35,936.88 L817.68,936.86 L818.01,936.83 L818.34,936.71 L818.67,936.45 L819.00,936.95 L819.33,937.27 L819.66,937.10 L819.99,936.70 L820.32,937.16 L820.65,936.68 L820.98,936.41 L821.31,936.73 L821.64,937.10 L821.97,937.02 L822.30,936.52 L822.63,937.14 L822.96,936.63 L823.29,936.56 L823.62,937.17 L823.95,937.28 L824.28,937.29 L824.61,936.62 L824.94,937.06 L825.27,936.83 L825.60,936.33 L825.93,936.85 L826.26,937.26 L826.59,936.58 L826.92,936.64 L827.25,937.12 L827.58,936.79 L827.91,936.60 L828.24,936.98 L828.57,936.83 L828.90,937.31 L829.23,937.41 L829.56,937.46 L829.89,937.34 L830.22,936.76 L830.55,936.97 L830.88,936.96 L831.21,936.86 L831.54,936.90 L831.87,936.65 L832.20,936.42 L832.53,937.02 L832.86,936.78 L833.19,936.39 L833.52,937.07 L833.85,936.95 L834.18,937.05 L834.51,936.76 L834.84,936.43 L835.17,936.45 L835.50,936.95 L835.83,936.65 L836.16,937.14 L836.49,936.77 L836.82,937.18 L837.15,936.67 L837.48,936.68 L837.81,936.37 L838.14,936.23 L838.47,936.54 L838.80,936.53 L839.13,936.70 L839.46,936.47 L839.79,936.44 L840.12,936.44 L840.45,937.02 L840.78,936.49 L841.11,936.56 L841.44,937.03 L841.77,936.99 L842.10,936.65 L842.43,937.22 L842.76,936.62 L843.09,936.34 L843.42,936.09 L843.75,936.38 L844.08,936.95 L844.41,936.65 L844.74,936.51 L845.07,936.95 L845.40,936.45 L845.73,936.14 L846.06,936.60 L846.39,936.27 L846.72,936.55 L847.05,936.30 L847.38,936.64 L847.71,937.05 L848.04,936.86 L848.37,936.59 L848.70,936.80 L849.03,936.98 L849.36,936.43 L849.69,936.34 L850.02,936.43 L850.35,936.60 L850.68,936.45 L851.01,936.77 L851.34,936.52 L851.67,937.04 L852.00,936.75 L852.33,936.48 L852.66,936.20 L852.99,936.10 L853.32,936.15 L853.65,936.83 L853.98,936.71 L854.31,936.68 L854.64,937.17 L854.97,937.43 L855.30,937.36 L855.63,936.79 L855.96,936.60 L856.29,936.68 L856.62,936.47 L856.95,936.46 L857.28,936.32 L857.61,936.27 L857.94,936.76 L858.27,936.86 L858.60,936.75 L858.93,936.72 L859.26,936.84 L859.59,936.98 L859.92,936.38 L860.25,936.91 L860.58,936.79 L860.91,936.60 L861.24,937.13 L861.57,937.19 L861.90,936.81 L862.23,936.30 L862.56,936.45 L862.89,936.53 L863.22,936.51 L863.55,936.22 L863.88,936.55 L864.21,936.39 L864.54,936.82 L864.87,936.80 L865.20,936.56 L865.53,936.96 L865.86,936.79 L866.19,936.34 L866.52,936.31 L866.85,936.06 L867.18,936.32 L867.51,936.92 L867.84,937.26 L868.17,937.14 L868.50,936.58 L868.83,936.38 L869.16,936.24 L869.49,936.35 L869.82,936.66 L870.15,936.20 L870.48,936.44 L870.81,936.49 L871.14,936.75 L871.47,937.05 L871.80,936.76 L872.13,936.82 L872.46,936.52 L872.79,936.55 L873.12,936.75 L873.45,936.26 L873.78,936.48 L874.11,936.57 L874.44,936.30 L874.77,936.22 L875.10,936.76 L875.43,936.55 L875.76,936.29 L876.09,936.25 L876.42,936.46 L876.75,936.44 L877.08,936.38 L877.41,936.32 L877.74,936.18 L878.07,936.39 L878.40,936.59 L878.73,936.18 L879.06,936.47 L879.39,936.32 L879.72,936.92 L880.05,937.17 L880.38,936.48 L880.71,936.70 L881.04,936.44 L881.37,936.08 L881.70,936.65 L882.03,936.96 L882.36,936.98 L882.69,936.83 L883.02,937.08 L883.35,936.77 L883.68,936.72 L884.01,936.66 L884.34,936.81 L884.67,936.86 L885.00,936.31 L885.33,935.91 L885.66,936.02 L885.99,936.08 L886.32,935.83 L886.65,936.13 L886.98,936.09 L887.31,935.53 L887.64,934.58 L887.97,933.85 L888.30,933.03 L888.63,933.74 L888.96,934.03 L889.29,935.30 L889.62,935.76 L889.95,935.62 L890.28,935.45 L890.61,935.78 L890.94,935.82 L891.27,936.09 L891.60,935.63 L891.93,936.18 L892.26,936.01 L892.59,935.94 L892.92,936.20 L893.25,936.19 L893.58,936.02 L893.91,935.77 L894.24,935.81 L894.57,935.38 L894.90,935.37 L895.23,935.92 L895.56,935.46 L895.89,935.18 L896.22,935.77 L896.55,935.56 L896.88,935.57 L897.21,935.60 L897.54,935.70 L897.87,935.30 L898.20,935.50 L898.53,934.77 L898.86,935.18 L899.19,934.78 L899.52,934.80 L899.85,934.39 L900.18,934.52 L900.51,934.09 L900.84,933.96 L901.17,933.44 L901.50,933.51 L901.83,933.28 L902.16,932.35 L902.49,932.16 L902.82,931.94 L903.15,930.78 L903.48,929.77 L903.81,929.54 L904.14,928.74 L904.47,925.89 L904.80,921.29 L905.13,912.12 L905.46,898.41 L905.79,887.64 L906.00,884.92 L906.12,886.02 L906.45,894.95 L906.78,908.23 L907.11,918.61 L907.44,924.96 L907.77,927.90 L908.10,928.90 L908.43,929.37 L908.76,929.93 L909.09,930.67 L909.42,932.03 L909.75,932.67 L910.08,933.34 L910.41,933.70 L910.74,933.42 L911.07,933.66 L911.40,934.45 L911.73,934.86 L912.06,935.29 L912.39,935.42 L912.72,935.44 L913.05,935.57 L913.38,935.85 L913.71,935.55 L914.04,935.05 L914.37,935.12 L914.70,934.90 L915.03,935.08 L915.36,935.52 L915.69,935.46 L916.02,935.43 L916.35,935.28 L916.68,935.49 L917.01,935.78 L917.34,936.02 L917.67,936.50 L918.00,935.89 L918.33,935.79 L918.66,935.57 L918.99,936.33 L919.32,936.42 L919.65,936.50 L919.98,936.71 L920.31,936.01 L920.64,936.58 L920.97,936.30 L921.30,936.46 L921.63,936.32 L921.96,936.61 L922.29,936.31 L922.62,936.14 L922.95,936.04 L923.28,936.47 L923.61,936.42 L923.94,936.10 L924.27,936.14 L924.60,936.38 L924.93,936.31 L925.26,936.50 L925.59,936.85 L925.92,936.82 L926.25,936.97 L926.58,936.55 L926.91,936.91 L927.24,937.17 L927.57,936.88 L927.90,936.24 L928.23,935.98 L928.56,936.53 L928.89,936.91 L929.22,936.96 L929.55,936.77 L929.88,936.71 L930.21,936.25 L930.54,936.51 L930.87,937.04 L931.20,936.51 L931.53,936.65 L931.86,936.96 L932.19,936.91 L932.52,936.59 L932.85,936.32 L933.18,936.67 L933.51,937.04 L933.84,937.17 L934.17,936.76 L934.50,936.89 L934.83,937.02 L935.16,936.65 L935.49,936.83 L935.82,936.55 L936.15,936.21 L936.48,935.84 L936.81,936.36 L937.14,936.64 L937.47,936.06 L937.80,935.77 L938.13,935.86 L938.46,935.77 L938.79,936.21 L939.12,935.81 L939.45,935.86 L939.78,935.63 L940.11,935.00 L940.44,934.92 L940.77,934.34 L941.00,934.22 L941.10,934.38 L941.43,934.46 L941.76,934.63 L942.09,935.75 L942.42,936.24 L942.75,936.33 L943.08,936.34 L943.41,936.47 L943.74,936.23 L944.07,935.90 L944.40,936.22 L944.73,936.75 L945.06,936.22 L945.39,936.85 L945.72,936.56 L946.05,937.05 L946.38,937.08 L946.71,936.60 L947.04,936.30 L947.37,936.83 L947.70,937.19 L948.03,937.20 L948.36,936.99 L948.69,936.85 L949.02,937.02 L949.35,937.14 L949.68,937.22 L950.01,936.71 L950.34,937.00 L950.67,937.27 L951.00,937.03 L951.33,936.34 L951.66,936.18 L951.99,936.56 L952.32,936.52 L952.65,937.00 L952.98,936.96 L953.31,936.99 L953.64,936.46 L953.97,936.57 L954.30,936.81 L954.63,937.13 L954.96,937.28 L955.29,936.71 L955.62,936.67 L955.95,937.12 L956.28,936.45 L956.61,936.10 L956.94,936.03 L957.27,936.54 L957.60,936.38 L957.93,936.68 L958.26,936.95 L958.59,937.06 L958.92,936.34 L959.25,936.62 L959.58,936.86 L959.91,936.88 L960.24,937.04 L960.57,937.07 L960.90,936.87 L961.23,937.01 L961.56,936.74 L961.89,936.16 L962.22,936.02 L962.55,936.58 L962.88,936.25 L963.21,936.19 L963.54,936.53 L963.87,936.48 L964.20,936.52 L964.53,936.18 L964.86,936.00 L965.19,935.42 L965.52,935.19 L965.85,934.97 L966.18,935.19 L966.51,935.19 L966.84,934.63 L967.17,934.67 L967.50,933.46 L967.83,931.69 L968.16,928.88 L968.49,927.86 L968.50,927.68 L968.82,929.56 L969.15,931.83 L969.48,934.14 L969.81,934.84 L970.14,934.97 L970.47,935.56 L970.80,935.35 L971.13,935.54 L971.46,935.82 L971.79,936.37 L972.12,936.39 L972.45,935.79 L972.78,935.93 L973.11,936.52 L973.44,936.75 L973.77,936.40 L974.10,936.00 L974.43,935.96 L974.76,936.45 L975.09,936.13 L975.42,936.69 L975.75,936.36 L976.08,936.62 L976.41,936.77 L976.74,936.40 L977.07,936.50 L977.40,936.66 L977.73,936.39 L978.06,936.53 L978.39,936.69 L978.72,937.11 L979.05,936.65 L979.38,936.31 L979.71,936.48 L980.04,936.66 L980.37,936.64 L980.70,937.06 L981.03,936.56 L981.36,936.62 L981.69,936.61 L982.02,936.34 L982.35,936.46 L982.68,936.49 L983.01,936.44 L983.34,936.82 L983.67,937.22 L984.00,937.40 L984.33,936.74 L984.66,936.57 L984.99,937.06 L985.32,936.44 L985.65,936.13 L985.98,935.96 L986.31,936.76 L986.64,936.71 L986.97,936.61 L987.30,936.22 L987.63,936.82 L987.96,937.22 L988.29,937.11 L988.62,937.29 L988.95,937.02 L989.28,936.63 L989.61,936.30 L989.94,936.26 L990.27,936.08 L990.60,936.21 L990.93,935.95 L991.26,935.80 L991.59,936.58 L991.92,936.92 L992.25,937.04 L992.58,936.64 L992.91,936.52 L993.24,936.55 L993.57,936.80 L993.90,936.42 L994.23,936.43 L994.56,936.46 L994.89,936.74 L995.22,936.37 L995.55,935.82 L995.88,935.91 L996.21,936.41 L996.54,935.92 L996.87,936.09 L997.20,935.63 L997.53,935.49 L997.86,935.68 L998.19,935.02 L998.52,934.51 L998.85,933.66 L999.18,932.58 L999.40,932.66 L999.51,932.97 L999.84,933.30 L1000.17,934.66 L1000.50,935.59 L1000.83,935.87 L1001.16,935.98 L1001.49,936.00 L1001.82,936.20 L1002.15,936.27 L1002.48,935.89 L1002.81,936.09 L1003.14,936.26 L1003.47,936.10 L1003.80,936.45 L1004.13,936.04 L1004.46,936.06 L1004.79,936.08 L1005.12,936.11 L1005.45,935.69 L1005.78,935.95 L1006.11,935.50 L1006.44,935.67 L1006.77,935.65 L1007.10,935.86 L1007.43,936.10 L1007.76,936.31 L1008.09,935.63 L1008.42,935.93 L1008.75,935.61 L1009.08,935.44 L1009.41,934.85 L1009.74,935.33 L1010.07,934.89 L1010.40,934.67 L1010.73,934.54 L1011.06,934.35 L1011.39,934.26 L1011.72,934.16 L1012.05,934.30 L1012.38,934.13 L1012.71,934.39 L1013.04,934.63 L1013.37,934.69 L1013.70,934.09 L1014.03,934.04 L1014.36,934.00 L1014.69,933.90 L1015.02,933.46 L1015.35,932.97 L1015.68,933.21 L1016.01,933.17 L1016.34,932.77 L1016.67,932.82 L1017.00,932.18 L1017.33,932.51 L1017.66,932.72 L1017.99,932.84 L1018.32,931.97 L1018.65,932.06 L1018.98,932.13 L1019.31,931.46 L1019.64,931.54 L1019.97,931.11 L1020.30,930.87 L1020.63,930.51 L1020.96,930.53 L1021.29,931.07 L1021.62,931.04 L1021.95,931.19 L1022.28,931.41 L1022.61,930.67 L1022.94,930.96 L1023.27,931.14 L1023.60,930.96 L1023.93,930.54 L1024.26,930.15 L1024.59,930.22 L1024.92,930.18 L1025.25,930.04 L1025.58,930.39 L1025.91,930.53 L1026.24,930.23 L1026.57,930.01 L1026.90,930.24 L1027.23,930.58 L1027.56,930.73 L1027.89,930.81 L1028.22,931.12 L1028.55,931.18 L1028.88,930.92 L1029.21,931.13 L1029.54,931.18 L1029.87,930.92 L1030.20,930.65 L1030.53,930.77 L1030.86,931.20 L1031.19,931.49 L1031.52,931.22 L1031.85,931.36 L1032.18,931.00 L1032.51,931.38 L1032.84,931.45 L1033.17,931.83 L1033.50,932.14 L1033.83,931.50 L1034.16,932.12 L1034.49,931.64 L1034.82,932.20 L1035.15,932.49 L1035.48,931.87 L1035.81,931.60 L1036.14,931.29 L1036.47,931.86 L1036.80,931.93 L1037.13,932.11 L1037.46,931.95 L1037.79,931.31 L1038.12,931.28 L1038.45,930.70 L1038.78,930.20 L1039.11,929.85 L1039.44,929.73 L1039.77,929.03 L1040.10,928.61 L1040.43,927.92 L1040.76,926.84 L1041.09,924.09 L1041.42,919.50 L1041.75,913.35 L1042.08,907.03 L1042.41,903.76 L1042.50,903.09 L1042.74,904.25 L1043.07,909.26 L1043.40,916.20 L1043.73,922.40 L1044.06,926.10 L1044.39,928.19 L1044.72,929.66 L1045.05,930.48 L1045.38,930.60 L1045.71,930.84 L1046.04,931.50 L1046.37,931.74 L1046.70,932.41 L1047.03,932.40 L1047.36,932.86 L1047.69,933.55 L1048.02,933.55 L1048.35,933.56 L1048.68,934.26 L1049.01,934.14 L1049.34,934.87 L1049.67,935.02 L1050.00,935.43 L1050.33,935.34 L1050.66,935.31 L1050.99,935.11 L1051.32,934.86 L1051.65,935.67 L1051.98,935.37 L1052.31,935.12 L1052.64,935.88 L1052.97,935.89 L1053.30,935.97 L1053.63,936.37 L1053.96,936.41 L1054.29,935.97 L1054.62,935.80 L1054.95,936.11 L1055.28,936.30 L1055.61,935.96 L1055.94,935.82 L1056.27,936.03 L1056.60,935.70 L1056.93,936.29 L1057.26,936.45 L1057.59,936.03 L1057.92,936.26 L1058.25,936.40 L1058.58,935.97 L1058.91,936.11 L1059.24,936.54 L1059.57,936.44 L1059.90,936.66 L1060.23,936.28 L1060.56,936.87 L1060.89,936.84 L1061.22,936.72 L1061.55,936.11 L1061.88,936.16 L1062.21,935.84 L1062.54,936.12 L1062.87,936.00 L1063.20,936.01 L1063.53,936.08 L1063.86,935.96 L1064.19,936.04 L1064.52,936.31 L1064.85,936.07 L1065.18,936.38 L1065.51,936.93 L1065.84,936.98 L1066.17,937.24 L1066.50,936.53 L1066.83,936.73 L1067.16,936.41 L1067.49,936.95 L1067.82,936.78 L1068.15,936.92 L1068.48,937.05 L1068.81,936.47 L1069.14,936.15 L1069.47,936.71 L1069.80,936.99 L1070.13,936.75 L1070.46,936.23 L1070.79,935.96 L1071.12,936.61 L1071.45,936.83 L1071.78,936.62 L1072.11,936.82 L1072.44,937.05 L1072.77,936.37 L1073.10,936.77 L1073.43,937.20 L1073.76,937.31 L1074.09,937.38 L1074.42,936.97 L1074.75,936.93 L1075.08,936.42 L1075.41,936.85 L1075.74,936.93 L1076.07,936.72 L1076.40,936.25 L1076.73,936.15 L1077.06,936.33 L1077.39,936.93 L1077.72,936.79 L1078.05,937.11 L1078.38,936.60 L1078.71,936.40 L1079.04,936.29 L1079.37,936.29 L1079.70,936.79 L1080.03,936.62 L1080.36,936.49 L1080.69,936.78 L1081.02,936.69 L1081.35,937.08 L1081.68,937.10 L1082.01,937.24 L1082.34,936.91 L1082.67,936.71 L1083.00,936.67 L1083.33,937.18 L1083.66,937.40 L1083.99,937.13 L1084.32,936.92 L1084.65,936.40 L1084.98,936.92 L1085.31,936.93 L1085.64,936.74 L1085.97,936.40 L1086.30,936.54 L1086.63,936.84 L1086.96,936.55 L1087.29,936.41 L1087.62,936.58 L1087.95,936.65 L1088.28,936.20 L1088.61,936.03 L1088.94,936.25 L1089.27,936.70 L1089.60,936.60 L1089.93,936.18 L1090.26,936.20 L1090.59,936.16 L1090.92,936.71 L1091.25,936.45 L1091.58,937.07 L1091.91,936.69 L1092.24,936.40 L1092.57,936.08 L1092.90,936.40 L1093.23,936.58 L1093.56,936.94 L1093.89,937.01 L1094.22,936.92 L1094.55,936.38 L1094.88,936.99 L1095.21,936.61 L1095.54,936.41 L1095.87,936.25 L1096.20,936.58 L1096.53,936.81 L1096.86,936.59 L1097.19,936.42 L1097.52,936.09 L1097.85,936.51 L1098.18,936.83 L1098.51,936.40 L1098.84,936.31 L1099.17,936.77 L1099.50,936.96 L1099.83,936.48 L1100.16,937.10 L1100.49,937.13 L1100.82,937.14 L1101.15,936.76 L1101.48,937.21 L1101.81,936.91 L1102.14,936.95 L1102.47,937.32 L1102.80,937.39 L1103.13,936.75 L1103.46,936.38 L1103.79,936.27 L1104.12,936.13 L1104.45,936.82 L1104.78,936.82 L1105.11,936.76 L1105.44,936.61 L1105.77,936.67 L1106.10,936.63 L1106.43,936.90 L1106.76,936.72 L1107.09,937.08 L1107.42,937.24 L1107.75,937.34 L1108.08,937.26 L1108.41,936.65 L1108.74,936.58 L1109.07,936.96 L1109.40,936.67 L1109.73,936.73 L1110.06,936.39 L1110.39,936.83 L1110.72,936.55 L1111.05,936.42 L1111.38,936.81 L1111.71,936.26 L1112.04,935.89 L1112.37,936.11 L1112.70,936.22 L1113.03,935.92 L1113.36,936.03 L1113.69,936.43 L1114.02,936.72 L1114.35,936.87 L1114.68,936.78 L1115.01,935.98 L1115.34,935.77 L1115.67,935.49 L1116.00,934.34 L1116.33,933.84 L1116.66,932.98 L1116.70,933.36 L1116.99,933.87 L1117.32,934.54 L1117.65,935.29 L1117.98,935.76 L1118.31,935.69 L1118.64,935.47 L1118.97,935.80 L1119.30,935.79 L1119.63,935.84 L1119.96,936.42 L1120.29,936.68 L1120.62,936.50 L1120.95,936.03 L1121.28,936.55 L1121.61,936.32 L1121.94,936.05 L1122.27,936.58 L1122.60,937.00 L1122.93,936.57 L1123.26,936.65 L1123.59,937.04 L1123.92,936.87 L1124.25,936.62 L1124.58,936.30 L1124.91,936.02 L1125.24,936.75 L1125.57,937.03 L1125.90,936.55 L1126.23,936.77 L1126.56,936.43 L1126.89,936.82 L1127.22,936.64 L1127.55,936.87 L1127.88,936.83 L1128.21,936.35 L1128.54,936.61 L1128.87,936.82 L1129.20,936.31 L1129.53,936.05 L1129.86,936.16 L1130.19,936.66 L1130.52,937.17 L1130.85,936.89 L1131.18,937.17 L1131.51,937.15 L1131.84,936.71 L1132.17,936.66 L1132.50,937.03 L1132.83,936.86 L1133.16,936.79 L1133.49,936.97 L1133.82,936.49 L1134.15,936.56 L1134.48,936.65 L1134.81,936.74 L1135.14,936.91 L1135.47,936.57 L1135.80,936.60 L1136.13,936.60 L1136.46,936.24 L1136.79,936.74 L1137.12,937.16 L1137.45,936.96 L1137.78,936.71 L1138.11,936.53 L1138.44,936.52 L1138.77,936.43 L1139.10,936.27 L1139.43,936.86 L1139.76,936.56 L1140.09,936.24 L1140.42,936.52 L1140.75,935.98 L1141.08,936.04 L1141.41,936.26 L1141.74,936.60 L1142.07,936.22 L1142.40,935.76 L1142.73,936.40 L1143.06,935.73 L1143.39,935.72 L1143.72,935.58 L1144.05,935.46 L1144.38,934.06 L1144.71,933.01 L1144.80,932.87 L1145.04,933.19 L1145.37,933.98 L1145.70,935.55 L1146.03,935.96 L1146.36,936.34 L1146.69,936.06 L1147.02,936.33 L1147.35,936.74 L1147.68,936.29 L1148.01,936.81 L1148.34,936.42 L1148.67,936.67 L1149.00,937.04 L1149.33,936.76 L1149.66,937.10 L1149.99,936.74 L1150.32,936.61 L1150.65,937.02 L1150.98,936.92 L1151.31,936.33 L1151.64,936.13 L1151.97,936.43 L1152.30,936.38 L1152.63,936.08 L1152.96,936.69 L1153.29,936.51 L1153.62,937.00 L1153.95,936.71 L1154.28,936.39 L1154.61,936.47 L1154.94,936.91 L1155.27,937.21 L1155.60,937.02 L1155.93,936.62 L1156.26,936.69 L1156.59,936.47 L1156.92,936.45 L1157.25,936.10 L1157.58,935.93 L1157.91,936.76 L1158.24,937.01 L1158.57,936.61 L1158.90,936.79 L1159.23,936.30 L1159.56,936.84 L1159.89,936.90 L1160.22,937.04 L1160.55,936.82 L1160.88,936.71 L1161.21,937.04 L1161.54,936.71 L1161.87,936.30 L1162.20,936.13 L1162.53,936.85 L1162.86,936.57 L1163.19,936.22 L1163.52,936.55 L1163.85,936.27 L1164.18,936.43 L1164.51,936.86 L1164.84,936.53 L1165.17,936.56 L1165.50,937.08 L1165.83,937.28 L1166.16,937.38 L1166.49,936.60 L1166.82,937.14 L1167.15,937.00 L1167.48,936.52 L1167.81,937.12 L1168.14,936.55 L1168.47,937.13 L1168.80,936.47 L1169.13,936.18 L1169.46,936.43 L1169.79,936.69 L1170.12,936.80 L1170.45,937.09 L1170.78,936.52 L1171.11,936.85 L1171.44,936.62 L1171.77,937.13 L1172.10,937.06 L1172.43,937.09 L1172.76,936.54 L1173.09,937.05 L1173.42,936.68 L1173.75,936.41 L1174.08,936.49 L1174.41,936.89 L1174.74,936.63 L1175.07,936.65 L1175.40,936.79 L1175.73,936.51 L1176.06,936.23 L1176.39,936.38 L1176.72,936.77 L1177.05,936.92 L1177.38,936.54 L1177.71,936.79 L1178.04,937.09 L1178.37,937.11 L1178.70,936.59 L1179.03,936.20 L1179.36,936.94 L1179.69,937.04 L1180.02,936.65 L1180.35,936.92 L1180.68,936.89 L1181.01,936.93 L1181.34,936.67 L1181.67,936.86 L1182.00,936.66 L1182.33,936.56 L1182.66,936.45 L1182.99,936.81 L1183.32,937.11 L1183.65,936.69 L1183.98,936.26 L1184.31,936.22 L1184.64,936.71 L1184.97,936.55 L1185.30,936.12 L1185.63,936.74 L1185.96,936.64 L1186.29,936.22 L1186.62,936.69 L1186.95,936.68 L1187.28,937.01 L1187.61,937.17 L1187.94,937.23 L1188.27,937.32 L1188.60,936.86 L1188.93,937.05 L1189.26,936.83 L1189.59,936.88 L1189.92,936.46 L1190.25,936.66 L1190.58,936.21 L1190.91,936.76 L1191.24,936.35 L1191.57,936.54 L1191.90,936.90 L1192.23,937.06 L1192.56,937.16 L1192.89,936.78 L1193.22,936.23 L1193.55,936.87 L1193.88,936.50 L1194.21,936.87 L1194.54,936.59 L1194.87,936.48 L1195.20,936.52 L1195.53,936.53 L1195.86,936.77 L1196.19,936.68 L1196.52,936.21 L1196.85,936.33 L1197.18,935.95 L1197.51,936.50 L1197.84,936.09 L1198.17,936.06 L1198.50,936.26 L1198.83,936.10 L1199.16,936.55 L1199.49,936.66 L1199.82,936.24 L1200.15,936.10 L1200.48,936.32 L1200.81,936.18 L1201.14,936.21 L1201.47,935.90 L1201.80,935.94 L1202.13,935.95 L1202.46,936.23 L1202.79,935.77 L1203.12,935.95 L1203.45,935.40 L1203.78,935.14 L1204.11,934.89 L1204.44,935.38 L1204.77,934.71 L1205.10,934.48 L1205.43,934.43 L1205.76,934.52 L1206.09,934.38 L1206.42,933.61 L1206.75,933.31 L1207.08,933.29 L1207.41,932.47 L1207.74,931.77 L1208.07,931.83 L1208.40,930.65 L1208.73,929.49 L1209.06,927.65 L1209.39,924.58 L1209.72,918.11 L1210.05,910.13 L1210.38,903.89 L1210.60,902.87 L1210.71,902.59 L1211.04,907.33 L1211.37,915.34 L1211.70,922.74 L1212.03,926.93 L1212.36,929.41 L1212.69,930.79 L1213.02,931.11 L1213.35,931.74 L1213.68,931.99 L1214.01,933.15 L1214.34,933.00 L1214.67,933.22 L1215.00,933.91 L1215.33,933.99 L1215.66,934.47 L1215.99,934.53 L1216.32,935.30 L1216.65,935.33 L1216.98,935.19 L1217.31,935.01 L1217.64,935.26 L1217.97,935.72 L1218.30,935.94 L1218.63,936.07 L1218.96,935.98 L1219.29,936.38 L1219.62,936.07 L1219.95,936.09 L1220.28,936.53 L1220.61,936.60 L1220.94,936.34 L1221.27,936.54 L1221.60,936.64 L1221.93,936.22 L1222.26,936.13 L1222.59,936.46 L1222.92,936.25 L1223.25,936.13 L1223.58,936.27 L1223.91,935.88 L1224.24,935.89 L1224.57,936.62 L1224.90,936.26 L1225.23,936.64 L1225.56,936.04 L1225.89,936.04 L1226.22,936.26 L1226.55,936.17 L1226.88,936.76 L1227.21,937.08 L1227.54,936.58 L1227.87,936.17 L1228.20,936.76 L1228.53,936.93 L1228.86,936.74 L1229.19,936.19 L1229.52,935.87 L1229.85,936.39 L1230.18,936.65 L1230.51,936.56 L1230.84,936.39 L1231.17,936.24 L1231.50,936.27 L1231.83,936.33 L1232.16,936.56 L1232.49,936.48 L1232.82,936.36 L1233.15,936.19 L1233.48,936.54 L1233.81,937.00 L1234.14,936.47 L1234.47,936.80 L1234.80,936.84 L1235.13,936.44 L1235.46,936.15 L1235.79,936.71 L1236.12,936.30 L1236.45,936.06 L1236.78,935.92 L1237.11,936.57 L1237.44,936.46 L1237.77,936.03 L1238.10,936.09 L1238.43,936.36 L1238.76,936.45 L1239.09,936.17 L1239.42,936.73 L1239.75,936.86 L1240.08,936.50 L1240.41,936.37 L1240.74,936.24 L1241.07,935.94 L1241.40,936.37 L1241.73,936.26 L1242.06,936.59 L1242.39,936.93 L1242.72,936.58 L1243.05,936.37 L1243.38,936.34 L1243.71,936.44 L1244.04,936.06 L1244.37,936.21 L1244.70,936.21 L1245.03,936.00 L1245.36,936.62 L1245.69,936.79 L1246.02,936.67 L1246.35,936.19 L1246.68,936.61 L1247.01,936.46 L1247.34,936.89 L1247.67,936.87 L1248.00,936.45 L1248.33,936.75 L1248.66,936.74 L1248.99,936.49 L1249.32,936.81 L1249.65,936.50 L1249.98,936.16 L1250.31,935.88 L1250.64,936.31 L1250.97,936.19 L1251.30,936.00 L1251.63,935.80 L1251.96,936.42 L1252.29,936.23 L1252.62,936.72 L1252.95,936.99 L1253.28,937.05 L1253.61,936.48 L1253.94,936.91 L1254.27,936.80 L1254.60,936.96 L1254.93,937.10 L1255.26,936.58 L1255.59,936.36 L1255.92,936.78 L1256.25,936.37 L1256.58,935.97 L1256.91,935.70 L1257.24,936.08 L1257.57,936.01 L1257.90,936.61 L1258.23,935.96 L1258.56,936.02 L1258.89,936.35 L1259.22,936.41 L1259.55,936.65 L1259.88,936.58 L1260.21,936.75 L1260.54,936.92 L1260.87,936.89 L1261.20,936.60 L1261.53,936.24 L1261.86,936.17 L1262.19,935.81 L1262.52,935.65 L1262.85,935.82 L1263.18,935.80 L1263.51,935.72 L1263.84,935.35 L1264.17,936.04 L1264.50,935.71 L1264.83,935.66 L1265.16,935.48 L1265.49,935.56 L1265.82,935.79 L1266.15,936.02 L1266.48,935.76 L1266.81,935.92 L1267.14,935.38 L1267.47,935.15 L1267.80,934.85 L1268.13,935.26 L1268.46,934.55 L1268.79,934.22 L1269.12,934.50 L1269.45,934.02 L1269.78,933.50 L1270.11,933.42 L1270.44,933.35 L1270.77,933.19 L1271.10,932.72 L1271.43,932.42 L1271.76,932.03 L1272.09,931.51 L1272.42,931.35 L1272.75,930.70 L1273.08,929.93 L1273.41,929.64 L1273.74,928.38 L1274.07,925.60 L1274.40,922.13 L1274.73,917.43 L1275.06,912.82 L1275.39,909.91 L1275.70,909.36 L1275.72,908.80 L1276.05,910.20 L1276.38,913.89 L1276.71,917.51 L1277.04,921.83 L1277.37,924.80 L1277.70,927.30 L1278.03,928.77 L1278.36,929.52 L1278.69,929.57 L1279.02,928.48 L1279.35,927.85 L1279.68,926.59 L1280.01,924.80 L1280.34,923.08 L1280.67,922.19 L1281.00,921.99 L1281.33,922.69 L1281.66,924.75 L1281.99,926.27 L1282.32,928.71 L1282.65,929.98 L1282.98,931.65 L1283.31,932.53 L1283.64,933.09 L1283.97,933.58 L1284.30,933.58 L1284.63,933.76 L1284.96,934.13 L1285.29,934.17 L1285.62,934.91 L1285.95,935.19 L1286.28,935.33 L1286.61,935.51 L1286.94,935.12 L1287.27,934.81 L1287.60,934.77 L1287.93,935.58 L1288.26,935.63 L1288.59,936.17 L1288.92,935.81 L1289.25,935.72 L1289.58,935.97 L1289.91,936.31 L1290.24,936.08 L1290.57,936.04 L1290.90,935.91 L1291.23,935.74 L1291.56,936.34 L1291.89,936.65 L1292.22,936.36 L1292.55,935.92 L1292.88,936.45 L1293.21,936.32 L1293.54,936.54 L1293.87,936.34 L1294.20,935.91 L1294.53,936.36 L1294.86,935.96 L1295.19,936.60 L1295.52,936.16 L1295.85,936.12 L1296.18,935.77 L1296.51,935.81 L1296.84,936.27 L1297.17,935.95 L1297.50,935.82 L1297.83,935.70 L1298.16,935.60 L1298.49,936.06 L1298.82,936.00 L1299.15,936.50 L1299.48,936.69 L1299.81,936.61 L1300.14,937.00 L1300.47,937.23 L1300.80,936.70 L1301.13,936.90 L1301.46,936.92 L1301.79,936.43 L1302.12,936.78 L1302.45,936.21 L1302.78,936.57 L1303.11,936.98 L1303.44,936.94 L1303.77,936.96 L1304.10,936.94 L1304.43,936.68 L1304.76,936.26 L1305.09,936.31 L1305.42,936.28 L1305.75,936.76 L1306.08,937.07 L1306.41,937.32 L1306.74,936.81 L1307.07,937.12 L1307.40,937.28 L1307.73,936.48 L1308.06,936.61 L1308.39,936.23 L1308.72,936.02 L1309.05,936.28 L1309.38,936.67 L1309.71,936.35 L1310.04,936.33 L1310.37,936.48 L1310.70,936.62 L1311.03,936.27 L1311.36,936.14 L1311.69,935.92 L1312.02,936.12 L1312.35,936.89 L1312.68,936.47 L1313.01,936.83 L1313.34,936.91 L1313.67,937.16 L1314.00,937.23 L1314.33,936.52 L1314.66,936.44 L1314.99,936.90 L1315.32,936.95 L1315.65,937.18 L1315.98,936.47 L1316.31,936.93 L1316.64,936.71 L1316.97,937.00 L1317.30,936.93 L1317.63,936.68 L1317.96,936.72 L1318.29,936.24 L1318.62,936.91 L1318.95,937.19 L1319.28,937.10 L1319.61,937.06 L1319.94,937.12 L1320.27,936.86 L1320.60,936.53 L1320.93,936.78 L1321.26,937.23 L1321.59,937.35 L1321.92,937.33 L1322.25,936.69 L1322.58,936.52 L1322.91,936.41 L1323.24,936.63 L1323.57,937.08 L1323.90,937.03 L1324.23,936.96 L1324.56,936.78 L1324.89,936.43 L1325.22,936.35 L1325.55,937.02 L1325.88,937.29 L1326.21,937.17 L1326.54,937.14 L1326.87,936.66 L1327.20,936.23 L1327.53,936.01 L1327.86,935.89 L1328.19,936.02 L1328.52,936.86 L1328.85,936.88 L1329.18,936.53 L1329.51,936.23 L1329.84,936.01 L1330.17,935.89 L1330.50,935.95 L1330.83,936.19 L1331.16,936.12 L1331.49,936.16 L1331.82,936.58 L1332.15,936.29 L1332.48,936.16 L1332.81,936.73 L1333.14,936.52 L1333.47,936.77 L1333.80,936.54 L1334.13,936.85 L1334.46,936.31 L1334.79,936.30"/>
<path fill="#000" stroke="none" d="M675.8,811.5 L681,811 L685.2,820 L685.4,884 L680.5,889 L676.2,884 Z"/>
<path stroke="#ff0000" d="M109.50,684.27 L109.83,684.49 L110.16,683.71 L110.49,683.34 L110.82,683.91 L111.15,684.09 L111.48,684.12 L111.81,683.77 L112.14,683.89 L112.47,683.95 L112.80,683.95 L113.13,683.53 L113.46,683.59 L113.79,683.58 L114.12,683.90 L114.45,684.33 L114.78,684.50 L115.11,684.18 L115.44,683.92 L115.77,683.61 L116.10,683.22 L116.43,683.01 L116.76,683.35 L117.09,683.37 L117.42,683.43 L117.75,683.98 L118.08,683.88 L118.41,683.87 L118.74,683.53 L119.07,683.15 L119.40,683.26 L119.73,683.12 L120.06,683.42 L120.39,684.06 L120.72,684.05 L121.05,683.56 L121.38,684.01 L121.71,684.15 L122.04,684.15 L122.37,684.31 L122.70,684.25 L123.03,684.25 L123.36,683.80 L123.69,684.21 L124.02,684.39 L124.35,683.67 L124.68,683.90 L125.01,683.98 L125.34,683.76 L125.67,683.71 L126.00,683.65 L126.33,684.05 L126.66,683.82 L126.99,684.03 L127.32,683.65 L127.65,683.99 L127.98,684.17 L128.31,683.82 L128.64,683.75 L128.97,684.06 L129.30,684.01 L129.63,683.75 L129.96,683.35 L130.29,683.25 L130.62,683.57 L130.95,683.19 L131.28,683.73 L131.61,683.36 L131.94,683.82 L132.27,683.43 L132.60,683.89 L132.93,683.86 L133.26,683.63 L133.59,683.53 L133.92,683.60 L134.25,683.57 L134.58,683.27 L134.91,683.02 L135.24,683.18 L135.57,683.68 L135.90,683.61 L136.23,683.02 L136.56,683.47 L136.89,683.59 L137.22,683.82 L137.55,683.21 L137.88,683.45 L138.21,682.88 L138.54,683.18 L138.87,682.94 L139.20,682.76 L139.53,683.31 L139.86,682.81 L140.19,682.96 L140.52,683.35 L140.85,682.93 L141.18,682.67 L141.51,683.20 L141.84,682.99 L142.17,683.16 L142.50,682.55 L142.83,682.55 L143.16,682.35 L143.49,682.72 L143.82,682.30 L144.15,682.93 L144.48,682.29 L144.81,682.65 L145.14,682.08 L145.47,682.00 L145.80,682.47 L146.13,682.01 L146.46,681.75 L146.79,682.08 L147.12,681.87 L147.45,681.35 L147.78,681.96 L148.11,681.34 L148.44,680.82 L148.77,680.77 L149.10,680.87 L149.43,680.71 L149.76,679.07 L150.09,676.69 L150.42,673.60 L150.70,672.81 L150.75,673.29 L151.08,675.23 L151.41,678.31 L151.74,680.26 L152.07,681.21 L152.40,681.42 L152.73,681.32 L153.06,681.08 L153.39,681.45 L153.72,681.35 L154.05,681.14 L154.38,681.41 L154.71,682.01 L155.04,681.59 L155.37,681.87 L155.70,681.83 L156.03,681.95 L156.36,681.66 L156.69,682.33 L157.02,681.98 L157.35,682.16 L157.68,682.07 L158.01,681.63 L158.34,681.95 L158.67,681.69 L159.00,681.48 L159.33,681.35 L159.66,681.42 L159.99,681.38 L160.32,681.90 L160.65,682.03 L160.98,682.57 L161.31,682.78 L161.64,682.95 L161.97,682.27 L162.30,682.13 L162.63,681.87 L162.96,682.07 L163.29,682.20 L163.62,682.43 L163.95,682.45 L164.28,682.01 L164.61,681.94 L164.94,682.01 L165.27,681.51 L165.60,681.29 L165.93,681.55 L166.26,681.37 L166.59,681.89 L166.92,681.66 L167.25,681.40 L167.58,681.34 L167.91,681.36 L168.24,681.34 L168.57,681.63 L168.90,681.72 L169.23,681.60 L169.56,681.86 L169.89,681.56 L170.22,682.10 L170.55,682.42 L170.88,682.33 L171.21,681.99 L171.54,681.89 L171.87,681.91 L172.20,681.38 L172.53,681.47 L172.86,681.62 L173.19,681.35 L173.52,681.12 L173.85,681.70 L174.18,681.55 L174.51,681.63 L174.84,682.06 L175.17,681.96 L175.50,681.59 L175.83,682.09 L176.16,681.72 L176.49,681.18 L176.82,681.57 L177.15,681.17 L177.48,681.18 L177.81,681.71 L178.14,681.80 L178.47,681.19 L178.80,681.31 L179.13,681.33 L179.46,681.41 L179.79,681.13 L180.12,681.39 L180.45,680.99 L180.78,681.00 L181.11,681.09 L181.44,681.70 L181.77,681.14 L182.10,681.53 L182.43,681.16 L182.76,681.36 L183.09,681.27 L183.42,681.29 L183.75,681.59 L184.08,681.38 L184.41,681.00 L184.74,680.81 L185.07,680.67 L185.40,681.37 L185.73,681.50 L186.06,681.89 L186.39,681.81 L186.72,681.11 L187.05,681.39 L187.38,681.64 L187.71,681.72 L188.04,681.53 L188.37,681.29 L188.70,681.27 L189.03,681.60 L189.36,681.24 L189.69,681.31 L190.02,681.30 L190.35,681.77 L190.68,681.86 L191.01,682.03 L191.34,682.02 L191.67,681.47 L192.00,681.14 L192.33,681.23 L192.66,681.04 L192.99,681.12 L193.32,681.41 L193.65,681.80 L193.98,681.66 L194.31,681.83 L194.64,681.19 L194.97,681.13 L195.30,681.75 L195.63,681.21 L195.96,681.21 L196.29,680.86 L196.62,680.71 L196.95,681.45 L197.28,681.91 L197.61,681.81 L197.94,681.24 L198.27,681.12 L198.60,681.00 L198.93,681.39 L199.26,681.59 L199.59,681.46 L199.92,681.48 L200.25,681.08 L200.58,681.31 L200.91,681.84 L201.24,681.92 L201.57,681.30 L201.90,681.42 L202.23,681.68 L202.56,681.36 L202.89,681.84 L203.22,681.65 L203.55,681.80 L203.88,681.58 L204.21,682.07 L204.54,682.11 L204.87,681.92 L205.20,681.40 L205.53,681.45 L205.86,681.06 L206.19,681.44 L206.52,681.92 L206.85,681.47 L207.18,681.58 L207.51,681.61 L207.84,681.55 L208.17,681.83 L208.50,682.21 L208.83,682.17 L209.16,681.92 L209.49,682.29 L209.82,681.85 L210.15,682.06 L210.48,682.07 L210.81,682.20 L211.14,682.35 L211.47,681.81 L211.80,681.94 L212.13,681.79 L212.46,681.99 L212.79,682.40 L213.12,682.27 L213.45,681.59 L213.78,681.71 L214.11,682.02 L214.44,682.35 L214.77,682.29 L215.10,682.43 L215.43,681.71 L215.76,682.28 L216.09,682.35 L216.42,682.27 L216.75,682.54 L217.08,682.65 L217.41,681.93 L217.74,682.29 L218.07,682.42 L218.40,681.93 L218.73,682.23 L219.06,682.22 L219.39,681.83 L219.72,682.25 L220.05,681.80 L220.38,682.05 L220.71,681.99 L221.04,681.79 L221.37,682.00 L221.70,682.01 L222.03,681.75 L222.36,682.39 L222.69,681.81 L223.02,681.45 L223.35,681.75 L223.68,682.25 L224.01,682.32 L224.34,682.45 L224.67,682.24 L225.00,682.32 L225.33,682.01 L225.66,681.79 L225.99,681.90 L226.32,681.47 L226.65,681.30 L226.98,681.88 L227.31,681.58 L227.64,681.98 L227.97,682.21 L228.30,681.92 L228.63,682.02 L228.96,682.16 L229.29,682.28 L229.62,681.59 L229.95,681.23 L230.28,681.23 L230.61,681.27 L230.94,681.08 L231.27,680.64 L231.60,680.91 L231.93,681.38 L232.26,680.94 L232.59,680.80 L232.92,680.47 L233.25,680.25 L233.58,680.43 L233.91,679.81 L234.24,679.65 L234.57,679.21 L234.90,678.80 L235.23,678.68 L235.56,677.46 L235.89,677.21 L236.22,676.11 L236.55,675.37 L236.88,674.54 L237.21,673.26 L237.54,671.52 L237.87,669.85 L238.20,665.41 L238.53,656.01 L238.86,634.61 L239.19,602.29 L239.52,575.16 L239.70,570.53 L239.85,573.76 L240.18,599.27 L240.51,631.89 L240.84,654.51 L241.17,664.83 L241.50,668.96 L241.83,671.71 L242.16,672.72 L242.49,674.47 L242.82,675.37 L243.15,676.21 L243.48,676.93 L243.81,677.34 L244.14,678.18 L244.47,678.53 L244.80,679.17 L245.13,679.51 L245.46,680.42 L245.79,681.04 L246.12,680.98 L246.45,681.25 L246.78,681.77 L247.11,681.50 L247.44,681.22 L247.77,681.28 L248.10,681.32 L248.43,681.88 L248.76,681.91 L249.09,681.95 L249.42,682.45 L249.75,682.18 L250.08,682.66 L250.41,682.75 L250.74,682.59 L251.07,682.97 L251.40,682.70 L251.73,683.13 L252.06,683.41 L252.39,683.15 L252.72,683.23 L253.05,683.54 L253.38,683.51 L253.71,683.52 L254.04,683.66 L254.37,683.81 L254.70,683.72 L255.03,683.91 L255.36,683.33 L255.69,683.38 L256.02,683.47 L256.35,683.22 L256.68,683.13 L257.01,682.88 L257.34,683.54 L257.67,683.28 L258.00,683.28 L258.33,683.71 L258.66,683.22 L258.99,683.76 L259.32,683.20 L259.65,682.83 L259.98,682.97 L260.31,683.06 L260.64,683.66 L260.97,683.94 L261.30,683.96 L261.63,683.65 L261.96,683.60 L262.29,683.28 L262.62,683.72 L262.95,683.50 L263.28,683.29 L263.61,683.54 L263.94,683.18 L264.27,683.17 L264.60,683.77 L264.93,683.25 L265.26,683.03 L265.59,682.99 L265.92,683.01 L266.25,683.20 L266.58,683.12 L266.91,683.17 L267.24,683.10 L267.57,683.05 L267.90,683.40 L268.23,683.30 L268.56,683.28 L268.89,683.66 L269.22,683.14 L269.55,682.95 L269.88,683.55 L270.21,683.43 L270.54,683.70 L270.87,683.17 L271.20,683.29 L271.53,683.65 L271.86,683.30 L272.19,683.53 L272.52,683.46 L272.85,683.18 L273.18,683.60 L273.51,683.06 L273.84,682.51 L274.17,681.79 L274.50,680.72 L274.70,680.94 L274.83,680.97 L275.16,681.66 L275.49,682.48 L275.82,683.43 L276.15,683.86 L276.48,683.91 L276.81,683.57 L277.14,683.38 L277.47,683.42 L277.80,682.98 L278.13,682.84 L278.46,683.68 L278.79,683.24 L279.12,683.84 L279.45,683.90 L279.78,684.17 L280.11,683.48 L280.44,683.37 L280.77,683.81 L281.10,683.25 L281.43,683.08 L281.76,683.24 L282.09,683.15 L282.42,683.08 L282.75,683.57 L283.08,683.24 L283.41,683.96 L283.74,684.00 L284.07,683.43 L284.40,683.99 L284.73,683.62 L285.06,683.67 L285.39,683.78 L285.72,683.42 L286.05,683.60 L286.38,683.25 L286.71,683.22 L287.04,683.92 L287.37,684.18 L287.70,684.01 L288.03,684.09 L288.36,684.32 L288.69,683.70 L289.02,683.75 L289.35,683.41 L289.68,683.23 L290.01,683.13 L290.34,683.18 L290.67,683.05 L291.00,683.15 L291.33,683.37 L291.66,683.72 L291.99,684.13 L292.32,684.38 L292.65,684.32 L292.98,684.08 L293.31,684.37 L293.64,683.77 L293.97,683.41 L294.30,683.94 L294.63,684.01 L294.96,683.64 L295.29,683.61 L295.62,683.52 L295.95,683.61 L296.28,683.66 L296.61,683.65 L296.94,684.04 L297.27,684.26 L297.60,684.11 L297.93,683.95 L298.26,683.68 L298.59,684.03 L298.92,684.43 L299.25,683.87 L299.58,684.06 L299.91,684.19 L300.24,684.20 L300.57,683.57 L300.90,683.78 L301.23,683.54 L301.56,683.41 L301.89,683.73 L302.22,683.95 L302.55,684.05 L302.88,684.21 L303.21,684.25 L303.54,684.05 L303.87,683.52 L304.20,683.98 L304.53,684.26 L304.86,684.41 L305.19,684.25 L305.52,683.61 L305.85,683.45 L306.18,683.28 L306.51,683.72 L306.84,683.85 L307.17,683.56 L307.50,684.18 L307.83,684.51 L308.16,684.60 L308.49,684.21 L308.82,683.84 L309.15,683.58 L309.48,684.06 L309.81,684.18 L310.14,683.81 L310.47,684.26 L310.80,684.14 L311.13,683.93 L311.46,683.83 L311.79,684.08 L312.12,683.94 L312.45,684.08 L312.78,683.61 L313.11,683.95 L313.44,683.70 L313.77,684.21 L314.10,683.77 L314.43,683.66 L314.76,683.82 L315.09,683.75 L315.42,683.85 L315.75,684.30 L316.08,683.80 L316.41,684.12 L316.74,684.20 L317.07,684.33 L317.40,684.06 L317.73,683.93 L318.06,683.76 L318.39,683.80 L318.72,683.60 L319.05,683.44 L319.38,683.64 L319.71,683.46 L320.04,683.65 L320.37,683.85 L320.70,683.68 L321.03,683.46 L321.36,683.78 L321.69,684.20 L322.02,683.77 L322.35,683.95 L322.68,684.08 L323.01,684.37 L323.34,684.32 L323.67,683.92 L324.00,683.61 L324.33,684.09 L324.66,683.79 L324.99,683.36 L325.32,684.00 L325.65,683.65 L325.98,683.58 L326.31,683.56 L326.64,683.48 L326.97,683.92 L327.30,683.75 L327.63,683.76 L327.96,683.75 L328.29,684.16 L328.62,683.55 L328.95,683.80 L329.28,683.48 L329.61,683.34 L329.94,683.73 L330.27,683.69 L330.60,683.36 L330.93,683.72 L331.26,684.22 L331.59,684.20 L331.92,684.05 L332.25,684.27 L332.58,684.50 L332.91,683.85 L333.24,683.67 L333.57,684.25 L333.90,684.50 L334.23,683.90 L334.56,684.10 L334.89,684.38 L335.22,684.23 L335.55,684.27 L335.88,684.11 L336.21,683.74 L336.54,683.53 L336.87,683.28 L337.20,683.75 L337.53,683.47 L337.86,683.80 L338.19,683.74 L338.52,683.76 L338.85,684.30 L339.18,683.99 L339.51,683.92 L339.84,683.79 L340.17,683.56 L340.50,683.45 L340.83,683.71 L341.16,684.12 L341.49,683.60 L341.82,684.20 L342.15,684.22 L342.48,683.62 L342.81,683.96 L343.14,683.83 L343.47,683.88 L343.80,683.49 L344.13,683.71 L344.46,683.82 L344.79,684.14 L345.12,684.10 L345.45,684.21 L345.78,684.29 L346.11,683.81 L346.44,683.38 L346.77,683.62 L347.10,683.39 L347.43,683.29 L347.76,683.41 L348.09,683.70 L348.42,683.91 L348.75,684.05 L349.08,684.42 L349.41,683.76 L349.74,683.89 L350.07,683.48 L350.40,683.86 L350.73,683.82 L351.06,683.50 L351.39,683.51 L351.72,683.87 L352.05,683.86 L352.38,684.32 L352.71,683.97 L353.04,683.77 L353.37,684.26 L353.70,684.19 L354.03,683.65 L354.36,684.06 L354.69,683.84 L355.02,684.32 L355.35,684.25 L355.68,684.38 L356.01,684.53 L356.34,684.23 L356.67,684.53 L357.00,683.74 L357.33,683.66 L357.66,684.12 L357.99,683.52 L358.32,683.88 L358.65,684.39 L358.98,684.36 L359.31,684.49 L359.64,683.77 L359.97,683.88 L360.30,684.00 L360.63,683.88 L360.96,683.81 L361.29,684.15 L361.62,683.69 L361.95,683.34 L362.28,683.71 L362.61,684.27 L362.94,684.41 L363.27,684.33 L363.60,683.91 L363.93,684.31 L364.26,683.64 L364.59,683.52 L364.92,684.00 L365.25,684.34 L365.58,684.02 L365.91,684.37 L366.24,683.75 L366.57,683.92 L366.90,683.48 L367.23,683.42 L367.56,683.35 L367.89,683.13 L368.22,683.42 L368.55,683.66 L368.88,683.56 L369.21,683.88 L369.54,683.44 L369.87,683.69 L370.20,683.82 L370.53,683.76 L370.86,684.25 L371.19,683.70 L371.52,683.73 L371.85,683.77 L372.18,683.71 L372.51,684.28 L372.84,684.16 L373.17,684.05 L373.50,683.91 L373.83,683.84 L374.16,684.32 L374.49,684.41 L374.82,684.30 L375.15,683.76 L375.48,683.93 L375.81,683.54 L376.14,683.57 L376.47,683.26 L376.80,683.78 L377.13,684.32 L377.46,684.25 L377.79,684.14 L378.12,683.77 L378.45,683.78 L378.78,683.80 L379.11,683.77 L379.44,683.61 L379.77,683.47 L380.10,683.94 L380.43,684.37 L380.76,684.46 L381.09,684.30 L381.42,683.63 L381.75,683.57 L382.08,684.07 L382.41,684.46 L382.74,684.23 L383.07,684.13 L383.40,684.20 L383.73,683.80 L384.06,684.06 L384.39,683.85 L384.72,684.22 L385.05,684.02 L385.38,684.12 L385.71,684.07 L386.04,684.02 L386.37,683.92 L386.70,684.36 L387.03,684.38 L387.36,684.06 L387.69,683.99 L388.02,684.34 L388.35,684.37 L388.68,684.29 L389.01,684.55 L389.34,683.84 L389.67,683.97 L390.00,684.06 L390.33,683.93 L390.66,684.38 L390.99,684.61 L391.32,684.14 L391.65,684.14 L391.98,684.28 L392.31,684.29 L392.64,683.96 L392.97,684.22 L393.30,683.91 L393.63,683.55 L393.96,683.89 L394.29,684.04 L394.62,683.88 L394.95,683.89 L395.28,684.38 L395.61,684.45 L395.94,684.08 L396.27,684.40 L396.60,684.22 L396.93,683.96 L397.26,684.08 L397.59,684.27 L397.92,684.48 L398.25,684.36 L398.58,684.29 L398.91,684.00 L399.24,683.49 L399.57,683.65 L399.90,683.39 L400.23,684.08 L400.56,683.85 L400.89,683.98 L401.22,684.17 L401.55,683.71 L401.88,684.14 L402.21,683.84 L402.54,683.45 L402.87,683.77 L403.20,683.74 L403.53,684.23 L403.86,684.01 L404.19,683.55 L404.52,683.24 L404.85,683.10 L405.18,683.49 L405.51,683.91 L405.84,683.45 L406.17,683.50 L406.50,683.68 L406.83,684.18 L407.16,684.51 L407.49,684.58 L407.82,684.37 L408.15,684.21 L408.48,683.77 L408.81,683.95 L409.14,683.59 L409.47,683.54 L409.80,684.05 L410.13,684.04 L410.46,684.19 L410.79,684.01 L411.12,683.73 L411.45,683.82 L411.78,683.93 L412.11,683.65 L412.44,684.12 L412.77,684.49 L413.10,683.87 L413.43,683.62 L413.76,684.07 L414.09,684.20 L414.42,683.77 L414.75,683.92 L415.08,683.64 L415.41,684.13 L415.74,684.10 L416.07,684.01 L416.40,683.61 L416.73,683.66 L417.06,683.75 L417.39,683.68 L417.72,683.46 L418.05,683.38 L418.38,683.83 L418.71,684.29 L419.04,684.43 L419.37,684.28 L419.70,684.37 L420.03,683.76 L420.36,683.54 L420.69,683.92 L421.02,683.40 L421.35,683.23 L421.68,683.84 L422.01,683.56 L422.34,683.41 L422.67,683.54 L423.00,684.05 L423.33,683.48 L423.66,684.06 L423.99,683.78 L424.32,683.90 L424.65,683.86 L424.98,683.50 L425.31,684.15 L425.64,683.69 L425.97,684.09 L426.30,684.36 L426.63,684.08 L426.96,684.44 L427.29,683.72 L427.62,683.45 L427.95,683.65 L428.28,683.34 L428.61,683.91 L428.94,683.92 L429.27,684.20 L429.60,683.82 L429.93,683.37 L430.26,684.01 L430.59,683.65 L430.92,683.67 L431.25,683.40 L431.58,683.72 L431.91,683.75 L432.24,683.51 L432.57,683.22 L432.90,683.38 L433.23,683.90 L433.56,683.53 L433.89,683.42 L434.22,683.75 L434.55,683.93 L434.88,684.19 L435.21,684.16 L435.54,684.35 L435.87,683.75 L436.20,684.21 L436.53,683.54 L436.86,683.30 L437.19,683.16 L437.52,683.76 L437.85,683.78 L438.18,684.21 L438.51,684.47 L438.84,684.57 L439.17,684.28 L439.50,683.87 L439.83,684.26 L440.16,684.22 L440.49,683.66 L440.82,683.73 L441.15,683.21 L441.48,682.94 L441.81,683.41 L442.14,683.71 L442.47,683.99 L442.80,684.00 L443.13,683.36 L443.46,683.62 L443.79,683.95 L444.12,683.66 L444.45,683.00 L444.78,682.05 L445.11,681.21 L445.20,681.55 L445.44,682.24 L445.77,682.26 L446.10,683.23 L446.43,683.80 L446.76,683.50 L447.09,683.84 L447.42,683.33 L447.75,683.23 L448.08,683.46 L448.41,683.90 L448.74,683.78 L449.07,683.28 L449.40,683.87 L449.73,683.81 L450.06,683.99 L450.39,683.52 L450.72,683.39 L451.05,683.07 L451.38,683.00 L451.71,683.21 L452.04,683.27 L452.37,683.54 L452.70,683.83 L453.03,683.46 L453.36,683.83 L453.69,683.69 L454.02,683.12 L454.35,682.30 L454.68,682.27 L455.00,681.98 L455.01,681.37 L455.34,682.04 L455.67,682.54 L456.00,683.00 L456.33,683.55 L456.66,683.26 L456.99,683.17 L457.32,683.41 L457.65,683.91 L457.98,683.36 L458.31,683.84 L458.64,683.98 L458.97,683.52 L459.30,683.78 L459.63,683.88 L459.96,684.02 L460.29,683.93 L460.62,683.66 L460.95,683.73 L461.28,683.50 L461.61,683.60 L461.94,683.61 L462.27,683.32 L462.60,683.30 L462.93,683.41 L463.26,683.51 L463.59,683.73 L463.92,684.03 L464.25,683.69 L464.58,683.82 L464.91,683.67 L465.24,683.49 L465.57,683.31 L465.90,684.04 L466.23,684.38 L466.56,684.45 L466.89,683.83 L467.22,683.49 L467.55,683.28 L467.88,683.37 L468.21,683.55 L468.54,683.21 L468.87,683.46 L469.20,683.86 L469.53,684.20 L469.86,683.72 L470.19,683.30 L470.52,683.88 L470.85,683.76 L471.18,683.63 L471.51,683.41 L471.84,683.41 L472.17,683.41 L472.50,683.40 L472.83,683.37 L473.16,683.64 L473.49,684.08 L473.82,683.79 L474.15,683.75 L474.48,683.80 L474.81,684.18 L475.14,684.30 L475.47,684.58 L475.80,683.90 L476.13,684.20 L476.46,683.84 L476.79,683.94 L477.12,683.94 L477.45,683.99 L477.78,683.76 L478.11,683.39 L478.44,683.15 L478.77,683.95 L479.10,684.30 L479.43,684.06 L479.76,683.56 L480.09,684.06 L480.42,683.98 L480.75,683.90 L481.08,684.04 L481.41,683.62 L481.74,683.47 L482.07,684.00 L482.40,684.18 L482.73,684.52 L483.06,684.14 L483.39,684.49 L483.72,684.58 L484.05,684.24 L484.38,684.46 L484.71,683.84 L485.04,683.44 L485.37,683.98 L485.70,683.58 L486.03,683.75 L486.36,684.06 L486.69,684.15 L487.02,683.74 L487.35,684.11 L487.68,683.54 L488.01,683.78 L488.34,684.23 L488.67,684.11 L489.00,683.80 L489.33,684.35 L489.66,684.35 L489.99,684.41 L490.32,684.55 L490.65,684.66 L490.98,684.35 L491.31,684.45 L491.64,684.17 L491.97,683.79 L492.30,683.62 L492.63,683.52 L492.96,683.23 L493.29,683.68 L493.62,683.69 L493.95,684.20 L494.28,683.60 L494.61,684.03 L494.94,683.66 L495.27,683.60 L495.60,683.54 L495.93,684.18 L496.26,684.18 L496.59,684.01 L496.92,683.63 L497.25,683.31 L497.58,683.47 L497.91,684.16 L498.24,683.97 L498.57,684.11 L498.90,684.38 L499.23,683.69 L499.56,683.61 L499.89,683.67 L500.22,683.51 L500.55,683.59 L500.88,683.92 L501.21,683.54 L501.54,683.91 L501.87,683.70 L502.20,683.96 L502.53,683.60 L502.86,684.04 L503.19,683.89 L503.52,684.22 L503.85,684.53 L504.18,684.29 L504.51,683.62 L504.84,683.62 L505.17,684.24 L505.50,684.22 L505.83,684.32 L506.16,684.08 L506.49,684.43 L506.82,684.57 L507.15,684.35 L507.48,684.21 L507.81,683.66 L508.14,683.29 L508.47,683.30 L508.80,683.82 L509.13,684.21 L509.46,684.32 L509.79,684.50 L510.12,683.73 L510.45,683.34 L510.78,683.37 L511.11,683.15 L511.44,683.61 L511.77,684.18 L512.10,684.44 L512.43,683.77 L512.76,684.00 L513.09,684.12 L513.42,684.16 L513.75,683.94 L514.08,683.65 L514.41,684.16 L514.74,684.43 L515.07,684.38 L515.40,684.18 L515.73,683.57 L516.06,683.51 L516.39,683.44 L516.72,683.41 L517.05,683.37 L517.38,683.80 L517.71,684.03 L518.04,683.64 L518.37,684.17 L518.70,683.53 L519.03,684.17 L519.36,684.11 L519.69,684.15 L520.02,683.80 L520.35,684.04 L520.68,684.34 L521.01,683.82 L521.34,683.49 L521.67,683.98 L522.00,683.69 L522.33,683.40 L522.66,683.64 L522.99,683.45 L523.32,683.39 L523.65,683.42 L523.98,683.24 L524.31,683.89 L524.64,683.96 L524.97,684.08 L525.30,683.78 L525.63,684.11 L525.96,684.46 L526.29,684.68 L526.62,683.83 L526.95,683.67 L527.28,683.37 L527.61,683.61 L527.94,683.91 L528.27,684.01 L528.60,683.80 L528.93,684.31 L529.26,684.23 L529.59,684.55 L529.92,684.15 L530.25,684.16 L530.58,683.63 L530.91,683.79 L531.24,683.99 L531.57,683.67 L531.90,683.91 L532.23,683.53 L532.56,683.67 L532.89,683.89 L533.22,683.85 L533.55,683.51 L533.88,683.38 L534.21,683.50 L534.54,683.84 L534.87,683.78 L535.20,683.53 L535.53,683.53 L535.86,683.51 L536.19,683.32 L536.52,683.68 L536.85,683.74 L537.18,683.63 L537.51,683.25 L537.84,683.97 L538.17,683.46 L538.50,683.28 L538.83,683.36 L539.16,683.90 L539.49,684.32 L539.82,684.35 L540.15,683.81 L540.48,684.17 L540.81,683.55 L541.14,683.31 L541.47,683.20 L541.80,683.59 L542.13,683.82 L542.46,683.96 L542.79,684.35 L543.12,684.35 L543.45,684.34 L543.78,683.76 L544.11,684.21 L544.44,684.44 L544.77,684.47 L545.10,683.73 L545.43,684.00 L545.76,683.94 L546.09,683.92 L546.42,683.65 L546.75,684.01 L547.08,684.23 L547.41,684.30 L547.74,683.86 L548.07,684.08 L548.40,683.54 L548.73,683.86 L549.06,683.37 L549.39,683.10 L549.72,683.06 L550.05,683.59 L550.38,684.19 L550.71,683.97 L551.04,684.03 L551.37,684.01 L551.70,684.25 L552.03,684.50 L552.36,684.47 L552.69,683.96 L553.02,683.45 L553.35,684.02 L553.68,683.68 L554.01,683.99 L554.34,684.25 L554.67,683.69 L555.00,683.43 L555.33,683.52 L555.66,683.99 L555.99,684.23 L556.32,684.49 L556.65,683.90 L556.98,683.95 L557.31,684.22 L557.64,683.85 L557.97,683.88 L558.30,683.53 L558.63,683.98 L558.96,683.79 L559.29,683.73 L559.62,683.87 L559.95,683.60 L560.28,683.95 L560.61,683.77 L560.94,683.64 L561.27,683.87 L561.60,683.92 L561.93,683.98 L562.26,684.16 L562.59,684.18 L562.92,683.78 L563.25,683.81 L563.58,684.03 L563.91,683.32 L564.24,683.56 L564.57,683.53 L564.90,683.37 L565.23,682.99 L565.56,682.94 L565.89,683.36 L566.22,683.67 L566.55,683.90 L566.88,683.75 L567.21,683.75 L567.54,683.66 L567.87,682.88 L568.20,682.97 L568.53,683.13 L568.86,682.99 L569.19,682.23 L569.52,681.79 L569.85,680.39 L570.18,678.72 L570.51,677.71 L570.70,677.55 L570.84,677.18 L571.17,678.57 L571.50,679.71 L571.83,680.89 L572.16,682.17 L572.49,682.87 L572.82,682.56 L573.15,682.94 L573.48,682.59 L573.81,682.77 L574.14,682.74 L574.47,682.49 L574.80,682.73 L575.13,682.99 L575.46,683.44 L575.79,682.92 L576.12,682.86 L576.45,682.56 L576.78,682.62 L577.11,682.71 L577.44,683.31 L577.77,683.73 L578.10,683.22 L578.43,683.23 L578.76,683.28 L579.09,683.26 L579.42,683.72 L579.75,683.93 L580.08,683.12 L580.41,683.08 L580.74,683.17 L581.07,683.33 L581.40,683.27 L581.73,683.52 L582.06,682.91 L582.39,682.95 L582.72,683.33 L583.05,682.83 L583.38,682.57 L583.71,682.85 L584.04,682.50 L584.37,682.69 L584.70,682.33 L585.03,682.18 L585.36,682.21 L585.69,682.63 L586.02,682.62 L586.35,682.55 L586.68,682.48 L587.01,682.14 L587.34,682.47 L587.67,682.16 L588.00,681.93 L588.33,681.14 L588.66,680.79 L588.99,680.80 L589.32,681.00 L589.65,680.65 L589.98,679.56 L590.31,679.43 L590.64,678.23 L590.97,677.12 L591.30,674.66 L591.63,671.03 L591.96,666.91 L592.29,661.30 L592.62,655.99 L592.95,652.39 L593.20,651.41 L593.28,651.31 L593.61,653.45 L593.94,658.28 L594.27,663.70 L594.60,668.82 L594.93,673.33 L595.26,675.80 L595.59,677.71 L595.92,678.79 L596.25,679.24 L596.58,679.91 L596.91,679.90 L597.24,679.66 L597.57,680.48 L597.90,680.85 L598.23,681.06 L598.56,681.38 L598.89,681.03 L599.22,680.87 L599.55,680.94 L599.88,681.18 L600.21,680.60 L600.54,680.57 L600.87,680.36 L601.20,678.90 L601.53,676.94 L601.86,674.85 L602.19,673.03 L602.52,670.81 L602.85,670.28 L603.00,669.61 L603.18,670.36 L603.51,671.41 L603.84,673.96 L604.17,675.91 L604.50,677.51 L604.83,679.35 L605.16,680.13 L605.49,681.26 L605.82,681.79 L606.15,681.54 L606.48,681.72 L606.81,681.92 L607.14,682.30 L607.47,682.02 L607.80,682.22 L608.13,682.31 L608.46,682.45 L608.79,682.50 L609.12,682.42 L609.45,682.35 L609.78,682.33 L610.11,682.92 L610.44,682.74 L610.77,682.23 L611.10,682.25 L611.43,682.62 L611.76,682.70 L612.09,682.11 L612.42,682.11 L612.75,682.09 L613.08,682.39 L613.41,681.86 L613.74,682.08 L614.07,681.87 L614.40,680.68 L614.73,680.19 L615.06,679.51 L615.39,678.73 L615.72,678.01 L616.05,676.38 L616.38,675.66 L616.71,674.06 L617.04,673.84 L617.37,673.10 L617.50,672.64 L617.70,673.23 L618.03,673.96 L618.36,674.41 L618.69,675.18 L619.02,675.53 L619.35,675.77 L619.68,676.32 L620.01,676.55 L620.34,675.75 L620.67,674.97 L621.00,673.98 L621.33,673.09 L621.66,673.07 L621.99,672.29 L622.00,672.01 L622.32,672.27 L622.65,673.54 L622.98,674.57 L623.31,675.86 L623.64,676.95 L623.97,678.06 L624.30,678.53 L624.63,678.25 L624.96,678.10 L625.29,678.04 L625.62,677.11 L625.95,675.78 L626.28,673.44 L626.61,670.87 L626.94,667.34 L627.27,663.62 L627.60,661.02 L627.80,660.47 L627.93,660.24 L628.26,662.41 L628.59,665.71 L628.92,669.99 L629.25,674.00 L629.58,676.50 L629.91,678.51 L630.24,679.83 L630.57,680.72 L630.90,680.80 L631.23,680.76 L631.56,681.50 L631.89,681.57 L632.22,681.48 L632.55,681.91 L632.88,682.38 L633.21,682.80 L633.54,682.45 L633.87,682.21 L634.20,682.12 L634.53,682.16 L634.86,682.13 L635.19,682.85 L635.52,682.95 L635.85,682.44 L636.18,682.25 L636.51,682.26 L636.84,683.07 L637.17,682.86 L637.50,683.23 L637.83,682.84 L638.16,682.63 L638.49,683.27 L638.82,682.73 L639.15,682.89 L639.48,683.00 L639.81,682.87 L640.14,683.22 L640.47,683.49 L640.80,682.99 L641.13,682.81 L641.46,682.89 L641.79,682.92 L642.12,683.07 L642.45,683.27 L642.78,682.91 L643.11,683.31 L643.44,683.00 L643.77,682.39 L644.10,682.44 L644.43,682.52 L644.76,682.16 L645.09,682.59 L645.42,682.40 L645.75,682.00 L646.08,681.21 L646.41,680.13 L646.74,679.06 L647.07,678.20 L647.40,677.32 L647.73,676.75 L647.90,676.05 L648.06,676.58 L648.39,677.35 L648.72,678.48 L649.05,679.54 L649.38,680.85 L649.71,681.85 L650.04,682.08 L650.37,682.08 L650.70,682.20 L651.03,682.53 L651.36,682.57 L651.69,682.69 L652.02,682.25 L652.35,682.31 L652.68,681.95 L653.01,682.07 L653.34,681.54 L653.67,681.71 L654.00,681.91 L654.33,682.07 L654.66,681.51 L654.99,681.27 L655.32,679.89 L655.65,678.11 L655.98,676.57 L656.31,674.33 L656.64,672.27 L656.97,671.09 L657.20,671.05 L657.30,671.35 L657.63,671.92 L657.96,673.87 L658.29,676.17 L658.62,678.29 L658.95,679.78 L659.28,680.67 L659.61,681.58 L659.94,681.31 L660.27,682.00 L660.60,681.77 L660.93,681.73 L661.26,682.23 L661.59,682.30 L661.92,682.25 L662.25,681.97 L662.58,681.81 L662.91,681.93 L663.24,681.81 L663.57,682.32 L663.90,682.02 L664.23,681.99 L664.56,681.93 L664.89,682.09 L665.22,682.14 L665.55,681.84 L665.88,681.12 L666.21,680.49 L666.54,680.40 L666.87,679.93 L667.20,679.82 L667.53,679.00 L667.86,678.80 L668.19,678.10 L668.52,677.41 L668.85,676.70 L669.18,676.68 L669.51,676.18 L669.84,675.77 L670.17,675.67 L670.50,674.67 L670.83,674.58 L671.16,674.25 L671.49,673.95 L671.82,674.39 L672.15,674.04 L672.48,674.07 L672.81,674.17 L673.14,673.97 L673.47,674.08 L673.80,673.83 L674.13,674.12 L674.46,674.20 L674.79,674.21 L675.12,673.46 L675.45,671.16 L675.78,668.36 L676.11,662.02 L676.44,651.23 L676.77,627.11 L677.10,588.02 L677.20,583.52 L677.43,596.64 L677.76,628.48 L678.09,641.24 L678.42,646.60 L678.75,649.85 L679.08,651.56 L679.41,651.69 L679.74,651.86 L680.07,651.65 L680.40,650.80 L680.73,648.97 L681.06,646.41 L681.39,641.84 L681.72,634.28 L682.05,622.49 L682.38,600.75 L682.71,549.61 L683.04,445.31 L683.20,422.55 L683.37,452.05 L683.70,562.36 L684.03,617.06 L684.36,641.28 L684.69,655.33 L685.02,663.91 L685.35,668.91 L685.68,671.87 L686.01,674.77 L686.34,676.04 L686.67,677.09 L687.00,677.78 L687.33,678.76 L687.66,679.45 L687.99,680.41 L688.32,680.39 L688.65,680.70 L688.98,681.36 L689.31,681.04 L689.64,681.34 L689.97,681.29 L690.30,681.95 L690.63,681.85 L690.96,681.68 L691.29,681.61 L691.62,681.69 L691.95,682.25 L692.28,681.97 L692.61,681.76 L692.94,681.87 L693.27,681.73 L693.60,682.35 L693.93,682.68 L694.26,682.62 L694.59,682.37 L694.92,681.94 L695.25,682.37 L695.58,682.09 L695.91,682.22 L696.24,682.66 L696.57,681.97 L696.90,681.73 L697.23,680.78 L697.56,679.82 L697.89,679.06 L698.00,679.25 L698.22,679.38 L698.55,679.68 L698.88,681.17 L699.21,681.54 L699.54,681.85 L699.87,682.11 L700.20,682.35 L700.53,682.65 L700.86,682.18 L701.19,682.22 L701.52,682.48 L701.85,682.47 L702.18,682.23 L702.51,682.66 L702.84,683.03 L703.17,682.89 L703.50,682.69 L703.83,682.19 L704.16,682.23 L704.49,682.53 L704.82,682.18 L705.15,682.08 L705.48,681.99 L705.81,681.75 L706.14,681.88 L706.47,681.55 L706.80,681.92 L707.13,681.93 L707.46,681.30 L707.79,680.61 L708.12,680.09 L708.45,680.45 L708.78,680.03 L709.11,679.24 L709.44,678.34 L709.77,677.91 L710.10,675.94 L710.43,673.88 L710.76,669.92 L711.09,665.65 L711.42,661.16 L711.75,658.38 L712.00,657.18 L712.08,657.15 L712.41,658.71 L712.74,662.14 L713.07,666.85 L713.40,671.40 L713.73,673.66 L714.06,676.00 L714.39,676.54 L714.72,676.40 L715.05,675.76 L715.38,675.15 L715.71,673.84 L716.04,672.79 L716.37,671.48 L716.70,669.97 L717.03,669.67 L717.36,669.35 L717.40,669.53 L717.69,669.41 L718.02,670.58 L718.35,672.04 L718.68,673.74 L719.01,674.78 L719.34,676.67 L719.67,677.54 L720.00,677.85 L720.33,678.96 L720.66,678.93 L720.99,679.46 L721.32,678.94 L721.65,678.40 L721.98,678.35 L722.31,677.97 L722.64,677.21 L722.97,675.63 L723.30,672.71 L723.63,669.15 L723.96,664.36 L724.29,659.30 L724.62,656.19 L724.90,655.10 L724.95,655.28 L725.28,656.77 L725.61,660.66 L725.94,665.50 L726.27,670.47 L726.60,673.60 L726.93,676.21 L727.26,677.80 L727.59,679.23 L727.92,679.33 L728.25,679.90 L728.58,680.61 L728.91,680.67 L729.24,681.35 L729.57,681.07 L729.90,681.25 L730.23,681.21 L730.56,681.22 L730.89,681.05 L731.22,681.71 L731.55,681.94 L731.88,682.25 L732.21,682.06 L732.54,681.66 L732.87,681.93 L733.20,682.32 L733.53,682.11 L733.86,681.68 L734.19,681.68 L734.52,681.95 L734.85,681.99 L735.18,681.74 L735.51,681.64 L735.84,680.65 L736.17,679.60 L736.50,677.48 L736.83,675.16 L737.16,673.78 L737.20,673.39 L737.49,675.05 L737.82,677.69 L738.15,680.04 L738.48,681.42 L738.81,681.77 L739.14,681.92 L739.47,681.93 L739.80,681.88 L740.13,682.13 L740.46,682.31 L740.79,681.93 L741.12,682.25 L741.45,681.75 L741.78,681.87 L742.11,682.30 L742.44,681.77 L742.77,682.13 L743.10,681.84 L743.43,681.89 L743.76,681.25 L744.09,680.74 L744.42,680.56 L744.75,680.52 L745.08,679.93 L745.41,677.41 L745.74,673.96 L746.07,671.86 L746.10,671.87 L746.40,673.52 L746.73,677.15 L747.06,679.50 L747.39,680.95 L747.72,681.20 L748.05,681.24 L748.38,681.15 L748.71,681.55 L749.04,682.03 L749.37,682.25 L749.70,682.36 L750.03,682.79 L750.36,682.74 L750.69,683.00 L751.02,683.03 L751.35,683.48 L751.68,683.11 L752.01,683.07 L752.34,683.39 L752.67,683.11 L753.00,683.49 L753.33,683.22 L753.66,682.93 L753.99,683.20 L754.32,683.36 L754.65,683.20 L754.98,683.09 L755.31,683.78 L755.64,683.64 L755.97,683.78 L756.30,683.57 L756.63,683.60 L756.96,683.36 L757.29,683.13 L757.62,683.69 L757.95,683.82 L758.28,683.52 L758.61,683.47 L758.94,683.61 L759.27,683.19 L759.60,683.53 L759.93,684.08 L760.26,684.06 L760.59,683.83 L760.92,683.37 L761.25,683.56 L761.58,683.71 L761.91,683.90 L762.24,684.18 L762.57,683.71 L762.90,683.31 L763.23,683.98 L763.56,683.88 L763.89,684.19 L764.22,684.06 L764.55,684.30 L764.88,684.12 L765.21,684.15 L765.54,684.08 L765.87,684.37 L766.20,684.31 L766.53,684.51 L766.86,684.05 L767.19,683.61 L767.52,683.39 L767.85,683.53 L768.18,683.71 L768.51,683.93 L768.84,683.82 L769.17,684.26 L769.50,683.92 L769.83,683.36 L770.16,683.60 L770.49,683.85 L770.82,683.56 L771.15,683.92 L771.48,683.55 L771.81,684.08 L772.14,683.90 L772.47,684.31 L772.80,684.17 L773.13,684.22 L773.46,683.72 L773.79,684.15 L774.12,684.48 L774.45,683.80 L774.78,683.89 L775.11,683.52 L775.44,684.05 L775.77,684.30 L776.10,684.48 L776.43,684.42 L776.76,684.01 L777.09,684.05 L777.42,683.51 L777.75,683.28 L778.08,683.62 L778.41,683.97 L778.74,683.70 L779.07,683.29 L779.40,683.11 L779.73,683.31 L780.06,683.45 L780.39,684.06 L780.72,684.14 L781.05,684.38 L781.38,684.37 L781.71,684.31 L782.04,684.34 L782.37,683.82 L782.70,684.09 L783.03,684.06 L783.36,684.10 L783.69,683.97 L784.02,683.86 L784.35,684.20 L784.68,684.33 L785.01,683.80 L785.34,684.20 L785.67,684.08 L786.00,683.54 L786.33,684.00 L786.66,684.32 L786.99,684.03 L787.32,683.88 L787.65,683.65 L787.98,683.46 L788.31,683.70 L788.64,683.73 L788.97,683.96 L789.30,684.08 L789.63,683.67 L789.96,684.05 L790.29,683.91 L790.62,683.80 L790.95,683.53 L791.28,683.81 L791.61,684.03 L791.94,684.24 L792.27,684.38 L792.60,683.98 L792.93,683.98 L793.26,684.04 L793.59,683.85 L793.92,683.38 L794.25,683.86 L794.58,684.27 L794.91,684.05 L795.24,684.39 L795.57,683.69 L795.90,683.87 L796.23,683.77 L796.56,683.97 L796.89,683.79 L797.22,684.06 L797.55,683.68 L797.88,683.57 L798.21,683.64 L798.54,683.68 L798.87,683.70 L799.20,684.24 L799.53,684.08 L799.86,684.05 L800.19,683.60 L800.52,683.78 L800.85,684.09 L801.18,684.20 L801.51,684.50 L801.84,684.29 L802.17,683.96 L802.50,684.30 L802.83,684.57 L803.16,684.70 L803.49,683.91 L803.82,684.08 L804.15,683.64 L804.48,683.53 L804.81,683.99 L805.14,684.31 L805.47,684.20 L805.80,683.86 L806.13,683.87 L806.46,683.69 L806.79,683.56 L807.12,683.44 L807.45,684.12 L807.78,684.44 L808.11,683.86 L808.44,684.22 L808.77,684.31 L809.10,684.33 L809.43,683.87 L809.76,683.92 L810.09,684.22 L810.42,684.26 L810.75,684.51 L811.08,683.76 L811.41,683.66 L811.74,683.65 L812.07,683.69 L812.40,684.28 L812.73,684.56 L813.06,684.56 L813.39,684.39 L813.72,684.42 L814.05,684.51 L814.38,683.92 L814.71,684.04 L815.04,684.45 L815.37,683.84 L815.70,683.82 L816.03,683.73 L816.36,684.17 L816.69,684.00 L817.02,683.59 L817.35,683.62 L817.68,683.91 L818.01,683.95 L818.34,683.45 L818.67,683.99 L819.00,683.73 L819.33,683.35 L819.66,683.75 L819.99,684.00 L820.32,684.06 L820.65,683.57 L820.98,683.26 L821.31,683.80 L821.64,683.86 L821.97,683.39 L822.30,683.71 L822.63,683.39 L822.96,683.62 L823.29,683.97 L823.62,683.66 L823.95,683.69 L824.28,684.01 L824.61,683.73 L824.94,683.94 L825.27,683.47 L825.60,683.89 L825.93,683.63 L826.26,683.70 L826.59,684.29 L826.92,684.37 L827.25,683.82 L827.58,684.16 L827.91,683.93 L828.24,683.91 L828.57,683.68 L828.90,683.46 L829.23,684.17 L829.56,683.92 L829.89,683.62 L830.22,684.06 L830.55,683.58 L830.88,683.65 L831.21,683.39 L831.54,683.18 L831.87,684.02 L832.20,683.95 L832.53,684.08 L832.86,683.63 L833.19,683.63 L833.52,683.32 L833.85,683.95 L834.18,683.43 L834.51,684.10 L834.84,684.46 L835.17,683.88 L835.50,683.67 L835.83,683.46 L836.16,683.21 L836.49,683.53 L836.82,683.74 L837.15,684.20 L837.48,684.03 L837.81,683.64 L838.14,683.70 L838.47,683.46 L838.80,683.21 L839.13,683.44 L839.46,684.00 L839.79,683.53 L840.12,684.19 L840.45,684.38 L840.78,684.63 L841.11,684.36 L841.44,683.94 L841.77,684.19 L842.10,683.69 L842.43,683.82 L842.76,684.19 L843.09,684.08 L843.42,684.25 L843.75,683.75 L844.08,684.19 L844.41,683.69 L844.74,683.63 L845.07,683.85 L845.40,684.29 L845.73,683.71 L846.06,683.58 L846.39,683.98 L846.72,683.67 L847.05,683.66 L847.38,683.44 L847.71,684.14 L848.04,684.29 L848.37,683.96 L848.70,684.40 L849.03,684.52 L849.36,684.01 L849.69,683.51 L850.02,683.90 L850.35,684.02 L850.68,683.70 L851.01,683.29 L851.34,683.36 L851.67,684.04 L852.00,684.13 L852.33,684.16 L852.66,684.21 L852.99,683.80 L853.32,684.21 L853.65,684.00 L853.98,684.36 L854.31,684.22 L854.64,684.22 L854.97,684.41 L855.30,684.61 L855.63,684.45 L855.96,684.59 L856.29,684.13 L856.62,683.81 L856.95,683.59 L857.28,683.59 L857.61,684.11 L857.94,683.81 L858.27,683.57 L858.60,683.30 L858.93,683.79 L859.26,684.25 L859.59,683.97 L859.92,683.56 L860.25,683.96 L860.58,684.25 L860.91,683.95 L861.24,683.87 L861.57,683.73 L861.90,683.82 L862.23,683.99 L862.56,684.33 L862.89,683.92 L863.22,684.34 L863.55,684.20 L863.88,683.97 L864.21,684.24 L864.54,683.77 L864.87,683.85 L865.20,684.24 L865.53,684.37 L865.86,684.45 L866.19,684.17 L866.52,684.14 L866.85,684.26 L867.18,683.78 L867.51,684.26 L867.84,684.33 L868.17,684.06 L868.50,684.03 L868.83,684.36 L869.16,683.60 L869.49,683.47 L869.82,684.01 L870.15,683.45 L870.48,683.82 L870.81,683.60 L871.14,683.44 L871.47,683.16 L871.80,683.25 L872.13,683.38 L872.46,683.73 L872.79,684.06 L873.12,684.01 L873.45,683.54 L873.78,683.67 L874.11,684.14 L874.44,683.68 L874.77,683.91 L875.10,683.55 L875.43,683.44 L875.76,683.63 L876.09,684.01 L876.42,683.90 L876.75,683.50 L877.08,683.67 L877.41,683.24 L877.74,683.70 L878.07,683.75 L878.40,683.54 L878.73,683.73 L879.06,683.54 L879.39,683.58 L879.72,683.69 L880.05,683.95 L880.38,683.46 L880.71,683.98 L881.04,684.12 L881.37,683.51 L881.70,683.92 L882.03,683.47 L882.36,683.81 L882.69,683.33 L883.02,683.72 L883.35,683.89 L883.68,683.65 L884.01,683.63 L884.34,683.66 L884.67,683.52 L885.00,683.12 L885.33,683.30 L885.66,683.41 L885.99,682.85 L886.32,682.45 L886.65,681.20 L886.98,680.36 L887.20,680.36 L887.31,680.13 L887.64,681.01 L887.97,682.04 L888.30,682.23 L888.63,682.56 L888.96,683.19 L889.29,683.13 L889.62,682.63 L889.95,683.17 L890.28,682.83 L890.61,682.95 L890.94,683.46 L891.27,683.58 L891.60,683.62 L891.93,682.91 L892.26,682.79 L892.59,682.59 L892.92,683.35 L893.25,682.96 L893.58,682.70 L893.91,683.11 L894.24,683.37 L894.57,683.42 L894.90,683.24 L895.23,683.49 L895.56,683.30 L895.89,682.62 L896.22,683.05 L896.55,682.41 L896.88,683.04 L897.21,682.91 L897.54,682.84 L897.87,682.38 L898.20,682.72 L898.53,682.33 L898.86,682.28 L899.19,681.67 L899.52,681.90 L899.85,682.09 L900.18,681.85 L900.51,681.81 L900.84,681.42 L901.17,681.05 L901.50,680.98 L901.83,680.09 L902.16,679.63 L902.49,679.56 L902.82,679.17 L903.15,678.82 L903.48,678.10 L903.81,677.27 L904.14,676.30 L904.47,674.43 L904.80,671.73 L905.13,665.34 L905.46,653.47 L905.79,640.02 L906.12,631.99 L906.20,631.94 L906.45,634.77 L906.78,646.36 L907.11,660.10 L907.44,669.23 L907.77,673.46 L908.10,675.08 L908.43,675.79 L908.76,676.57 L909.09,677.98 L909.42,678.16 L909.75,679.25 L910.08,679.34 L910.41,680.20 L910.74,680.21 L911.07,680.83 L911.40,681.34 L911.73,681.45 L912.06,681.33 L912.39,681.61 L912.72,681.57 L913.05,682.35 L913.38,682.29 L913.71,682.43 L914.04,682.30 L914.37,682.39 L914.70,682.94 L915.03,683.25 L915.36,683.37 L915.69,683.59 L916.02,683.76 L916.35,682.90 L916.68,682.77 L917.01,682.53 L917.34,683.17 L917.67,682.82 L918.00,683.31 L918.33,682.97 L918.66,682.83 L918.99,682.89 L919.32,683.50 L919.65,683.18 L919.98,682.97 L920.31,683.47 L920.64,683.20 L920.97,683.40 L921.30,683.40 L921.63,683.64 L921.96,683.56 L922.29,683.26 L922.62,683.01 L922.95,683.61 L923.28,683.30 L923.61,683.18 L923.94,683.45 L924.27,683.96 L924.60,683.63 L924.93,683.43 L925.26,683.36 L925.59,683.44 L925.92,683.94 L926.25,683.86 L926.58,683.79 L926.91,683.52 L927.24,683.42 L927.57,683.48 L927.90,683.87 L928.23,684.16 L928.56,684.22 L928.89,683.66 L929.22,684.09 L929.55,683.68 L929.88,683.50 L930.21,683.56 L930.54,683.22 L930.87,683.46 L931.20,684.01 L931.53,683.46 L931.86,684.04 L932.19,683.76 L932.52,683.47 L932.85,683.61 L933.18,683.24 L933.51,683.29 L933.84,683.74 L934.17,683.50 L934.50,683.82 L934.83,683.52 L935.16,683.83 L935.49,683.95 L935.82,683.86 L936.15,683.70 L936.48,683.37 L936.81,683.08 L937.14,683.33 L937.47,683.28 L937.80,683.74 L938.13,683.22 L938.46,682.91 L938.79,682.98 L939.12,683.16 L939.45,683.33 L939.78,683.13 L940.11,682.41 L940.44,681.65 L940.77,681.76 L941.00,681.35 L941.10,681.86 L941.43,682.17 L941.76,682.87 L942.09,682.97 L942.42,683.15 L942.75,683.46 L943.08,683.09 L943.41,683.66 L943.74,683.69 L944.07,683.82 L944.40,683.27 L944.73,683.22 L945.06,683.07 L945.39,683.18 L945.72,683.30 L946.05,683.91 L946.38,683.76 L946.71,683.78 L947.04,683.65 L947.37,683.58 L947.70,683.21 L948.03,683.63 L948.36,683.66 L948.69,683.39 L949.02,683.80 L949.35,683.28 L949.68,683.88 L950.01,683.84 L950.34,684.11 L950.67,683.92 L951.00,683.45 L951.33,683.56 L951.66,683.36 L951.99,683.58 L952.32,683.16 L952.65,683.62 L952.98,683.96 L953.31,683.89 L953.64,683.65 L953.97,683.85 L954.30,683.66 L954.63,684.14 L954.96,684.32 L955.29,683.93 L955.62,684.10 L955.95,683.63 L956.28,684.07 L956.61,684.03 L956.94,683.33 L957.27,683.62 L957.60,683.50 L957.93,683.70 L958.26,683.26 L958.59,683.26 L958.92,683.85 L959.25,683.76 L959.58,683.65 L959.91,683.74 L960.24,683.22 L960.57,682.96 L960.90,683.09 L961.23,683.08 L961.56,683.17 L961.89,683.27 L962.22,682.83 L962.55,682.79 L962.88,683.26 L963.21,683.38 L963.54,683.29 L963.87,682.61 L964.20,682.82 L964.53,682.30 L964.86,682.07 L965.19,681.93 L965.52,682.50 L965.85,682.05 L966.18,681.67 L966.51,681.15 L966.84,680.80 L967.17,679.90 L967.50,676.97 L967.83,673.79 L968.10,672.36 L968.16,672.30 L968.49,674.29 L968.82,678.20 L969.15,680.76 L969.48,681.52 L969.81,681.90 L970.14,681.94 L970.47,682.34 L970.80,682.15 L971.13,682.25 L971.46,682.74 L971.79,682.66 L972.12,683.32 L972.45,683.16 L972.78,682.65 L973.11,682.92 L973.44,683.46 L973.77,683.07 L974.10,683.15 L974.43,683.33 L974.76,683.76 L975.09,683.13 L975.42,683.53 L975.75,683.11 L976.08,683.53 L976.41,683.98 L976.74,683.92 L977.07,683.28 L977.40,683.22 L977.73,683.39 L978.06,683.91 L978.39,683.71 L978.72,683.43 L979.05,683.79 L979.38,683.96 L979.71,684.30 L980.04,684.11 L980.37,684.17 L980.70,684.31 L981.03,683.70 L981.36,683.24 L981.69,683.79 L982.02,683.87 L982.35,684.16 L982.68,684.24 L983.01,683.58 L983.34,683.40 L983.67,683.89 L984.00,683.83 L984.33,684.04 L984.66,684.26 L984.99,683.48 L985.32,683.32 L985.65,683.06 L985.98,683.09 L986.31,683.26 L986.64,683.87 L986.97,683.47 L987.30,683.54 L987.63,683.51 L987.96,684.01 L988.29,683.98 L988.62,683.70 L988.95,683.23 L989.28,683.16 L989.61,682.98 L989.94,683.75 L990.27,683.42 L990.60,683.13 L990.93,682.83 L991.26,682.79 L991.59,683.19 L991.92,683.28 L992.25,683.38 L992.58,683.55 L992.91,683.08 L993.24,683.22 L993.57,683.25 L993.90,683.61 L994.23,683.19 L994.56,682.73 L994.89,682.45 L995.22,682.73 L995.55,682.89 L995.88,682.39 L996.21,682.58 L996.54,682.66 L996.87,681.87 L997.20,680.52 L997.53,679.35 L997.86,676.58 L998.19,675.44 L998.30,674.99 L998.52,675.43 L998.85,677.45 L999.18,679.29 L999.51,680.78 L999.84,681.19 L1000.17,681.74 L1000.50,681.67 L1000.83,682.18 L1001.16,682.42 L1001.49,682.97 L1001.82,683.17 L1002.15,683.10 L1002.48,683.27 L1002.81,682.97 L1003.14,683.25 L1003.47,683.21 L1003.80,683.40 L1004.13,683.54 L1004.46,683.41 L1004.79,683.56 L1005.12,682.75 L1005.45,683.24 L1005.78,683.03 L1006.11,682.93 L1006.44,682.58 L1006.77,682.48 L1007.10,682.63 L1007.43,682.49 L1007.76,682.04 L1008.09,682.11 L1008.42,681.93 L1008.75,682.64 L1009.08,682.06 L1009.41,682.35 L1009.74,682.50 L1010.07,682.77 L1010.40,682.59 L1010.73,682.44 L1011.06,682.21 L1011.39,682.32 L1011.72,682.27 L1012.05,681.85 L1012.38,682.04 L1012.71,681.68 L1013.04,681.28 L1013.37,680.90 L1013.70,680.98 L1014.03,680.88 L1014.36,680.53 L1014.69,680.44 L1015.02,680.28 L1015.35,680.58 L1015.68,679.92 L1016.01,679.47 L1016.34,679.61 L1016.67,679.65 L1017.00,679.09 L1017.33,679.16 L1017.66,678.81 L1017.99,678.64 L1018.32,679.07 L1018.65,678.46 L1018.98,678.29 L1019.31,678.43 L1019.64,678.77 L1019.97,678.85 L1020.30,678.57 L1020.63,678.38 L1020.96,678.53 L1021.29,678.30 L1021.62,678.38 L1021.95,678.04 L1022.28,677.52 L1022.61,678.03 L1022.94,677.55 L1023.27,677.64 L1023.60,677.77 L1023.93,677.64 L1024.26,677.43 L1024.59,677.01 L1024.92,677.17 L1025.25,676.89 L1025.58,677.21 L1025.91,677.28 L1026.24,676.95 L1026.57,677.09 L1026.90,677.26 L1027.23,677.19 L1027.56,677.85 L1027.89,677.55 L1028.22,677.22 L1028.55,677.03 L1028.88,677.00 L1029.21,677.38 L1029.54,677.20 L1029.87,677.57 L1030.20,678.26 L1030.53,677.98 L1030.86,678.32 L1031.19,678.36 L1031.52,678.06 L1031.85,678.20 L1032.18,677.89 L1032.51,678.18 L1032.84,678.02 L1033.17,677.99 L1033.50,678.33 L1033.83,678.44 L1034.16,678.31 L1034.49,678.23 L1034.82,678.32 L1035.15,679.04 L1035.48,679.38 L1035.81,678.88 L1036.14,678.30 L1036.47,678.43 L1036.80,678.83 L1037.13,678.31 L1037.46,678.70 L1037.79,678.22 L1038.12,677.69 L1038.45,677.07 L1038.78,676.78 L1039.11,676.68 L1039.44,676.15 L1039.77,675.72 L1040.10,675.50 L1040.43,674.66 L1040.76,672.83 L1041.09,669.95 L1041.42,665.97 L1041.75,659.14 L1042.08,652.65 L1042.41,649.31 L1042.50,649.58 L1042.74,650.75 L1043.07,656.31 L1043.40,663.20 L1043.73,669.23 L1044.06,672.79 L1044.39,674.53 L1044.72,675.85 L1045.05,676.80 L1045.38,677.06 L1045.71,677.88 L1046.04,678.40 L1046.37,678.80 L1046.70,679.30 L1047.03,679.61 L1047.36,679.92 L1047.69,680.83 L1048.02,680.75 L1048.35,680.98 L1048.68,680.73 L1049.01,680.98 L1049.34,681.71 L1049.67,681.84 L1050.00,682.15 L1050.33,682.60 L1050.66,682.66 L1050.99,683.00 L1051.32,683.13 L1051.65,682.58 L1051.98,682.76 L1052.31,682.28 L1052.64,682.69 L1052.97,683.19 L1053.30,683.30 L1053.63,683.53 L1053.96,683.36 L1054.29,683.50 L1054.62,683.05 L1054.95,682.89 L1055.28,682.63 L1055.61,682.57 L1055.94,683.19 L1056.27,682.85 L1056.60,683.35 L1056.93,683.11 L1057.26,683.58 L1057.59,683.95 L1057.92,683.22 L1058.25,683.40 L1058.58,683.59 L1058.91,683.49 L1059.24,683.01 L1059.57,683.25 L1059.90,683.59 L1060.23,683.58 L1060.56,683.22 L1060.89,683.43 L1061.22,683.02 L1061.55,682.97 L1061.88,683.11 L1062.21,683.34 L1062.54,683.34 L1062.87,683.24 L1063.20,683.86 L1063.53,683.35 L1063.86,683.15 L1064.19,683.65 L1064.52,683.47 L1064.85,683.92 L1065.18,684.14 L1065.51,683.91 L1065.84,683.93 L1066.17,683.69 L1066.50,683.94 L1066.83,684.29 L1067.16,684.12 L1067.49,683.78 L1067.82,684.16 L1068.15,683.44 L1068.48,683.84 L1068.81,684.23 L1069.14,683.71 L1069.47,683.86 L1069.80,683.40 L1070.13,683.47 L1070.46,684.05 L1070.79,683.48 L1071.12,683.30 L1071.45,683.18 L1071.78,683.12 L1072.11,683.16 L1072.44,683.92 L1072.77,683.95 L1073.10,683.87 L1073.43,684.12 L1073.76,684.11 L1074.09,684.41 L1074.42,683.93 L1074.75,683.89 L1075.08,684.24 L1075.41,683.82 L1075.74,684.22 L1076.07,683.88 L1076.40,683.79 L1076.73,683.69 L1077.06,683.36 L1077.39,683.43 L1077.72,683.82 L1078.05,684.16 L1078.38,684.04 L1078.71,683.48 L1079.04,683.73 L1079.37,683.91 L1079.70,683.98 L1080.03,683.65 L1080.36,683.29 L1080.69,683.58 L1081.02,683.45 L1081.35,683.95 L1081.68,684.24 L1082.01,683.59 L1082.34,683.97 L1082.67,683.84 L1083.00,683.76 L1083.33,683.75 L1083.66,684.14 L1083.99,683.57 L1084.32,684.14 L1084.65,684.39 L1084.98,684.04 L1085.31,684.40 L1085.64,684.41 L1085.97,684.30 L1086.30,684.09 L1086.63,684.17 L1086.96,684.07 L1087.29,684.24 L1087.62,683.77 L1087.95,683.72 L1088.28,683.54 L1088.61,683.18 L1088.94,683.71 L1089.27,683.87 L1089.60,683.59 L1089.93,684.02 L1090.26,684.15 L1090.59,684.25 L1090.92,684.12 L1091.25,683.78 L1091.58,683.96 L1091.91,683.65 L1092.24,683.77 L1092.57,684.11 L1092.90,683.98 L1093.23,684.26 L1093.56,684.37 L1093.89,684.06 L1094.22,683.83 L1094.55,683.61 L1094.88,683.68 L1095.21,683.34 L1095.54,683.91 L1095.87,683.61 L1096.20,683.29 L1096.53,683.20 L1096.86,683.36 L1097.19,683.42 L1097.52,683.74 L1097.85,683.62 L1098.18,683.44 L1098.51,683.60 L1098.84,683.72 L1099.17,683.78 L1099.50,683.68 L1099.83,683.79 L1100.16,684.29 L1100.49,683.91 L1100.82,684.06 L1101.15,683.87 L1101.48,684.05 L1101.81,683.82 L1102.14,684.11 L1102.47,684.45 L1102.80,684.36 L1103.13,684.34 L1103.46,683.63 L1103.79,683.91 L1104.12,684.06 L1104.45,683.59 L1104.78,683.97 L1105.11,684.21 L1105.44,684.42 L1105.77,684.02 L1106.10,683.58 L1106.43,683.38 L1106.76,683.09 L1107.09,683.43 L1107.42,684.07 L1107.75,683.77 L1108.08,683.77 L1108.41,683.38 L1108.74,683.81 L1109.07,683.60 L1109.40,683.42 L1109.73,683.85 L1110.06,683.93 L1110.39,683.84 L1110.72,683.92 L1111.05,683.37 L1111.38,683.65 L1111.71,683.63 L1112.04,683.64 L1112.37,683.33 L1112.70,683.27 L1113.03,682.84 L1113.36,682.96 L1113.69,682.99 L1114.02,683.05 L1114.35,682.96 L1114.68,682.96 L1115.01,682.73 L1115.34,682.60 L1115.67,680.76 L1116.00,679.44 L1116.30,679.00 L1116.33,679.14 L1116.66,679.46 L1116.99,680.80 L1117.32,682.25 L1117.65,682.84 L1117.98,682.78 L1118.31,683.25 L1118.64,683.15 L1118.97,682.96 L1119.30,683.10 L1119.63,682.95 L1119.96,683.43 L1120.29,683.91 L1120.62,683.93 L1120.95,683.81 L1121.28,683.28 L1121.61,683.89 L1121.94,684.12 L1122.27,684.21 L1122.60,684.16 L1122.93,683.49 L1123.26,683.41 L1123.59,683.54 L1123.92,683.73 L1124.25,683.43 L1124.58,683.96 L1124.91,683.84 L1125.24,684.02 L1125.57,684.27 L1125.90,683.77 L1126.23,683.46 L1126.56,683.69 L1126.89,683.35 L1127.22,683.09 L1127.55,682.97 L1127.88,683.65 L1128.21,684.06 L1128.54,683.80 L1128.87,683.76 L1129.20,683.84 L1129.53,683.62 L1129.86,683.54 L1130.19,683.54 L1130.52,683.42 L1130.85,683.80 L1131.18,683.84 L1131.51,683.42 L1131.84,683.19 L1132.17,683.73 L1132.50,683.73 L1132.83,684.10 L1133.16,684.15 L1133.49,684.03 L1133.82,683.64 L1134.15,683.80 L1134.48,683.73 L1134.81,683.98 L1135.14,683.60 L1135.47,684.14 L1135.80,684.36 L1136.13,684.50 L1136.46,683.96 L1136.79,683.50 L1137.12,683.51 L1137.45,683.82 L1137.78,683.85 L1138.11,683.21 L1138.44,683.08 L1138.77,683.74 L1139.10,683.62 L1139.43,683.07 L1139.76,683.27 L1140.09,683.54 L1140.42,683.77 L1140.75,683.05 L1141.08,683.24 L1141.41,682.69 L1141.74,682.89 L1142.07,682.78 L1142.40,681.90 L1142.73,680.87 L1143.06,679.57 L1143.39,678.82 L1143.50,679.20 L1143.72,679.08 L1144.05,680.25 L1144.38,681.90 L1144.71,682.54 L1145.04,682.91 L1145.37,683.35 L1145.70,683.49 L1146.03,683.28 L1146.36,683.15 L1146.69,683.44 L1147.02,683.52 L1147.35,683.65 L1147.68,683.56 L1148.01,683.78 L1148.34,683.41 L1148.67,683.81 L1149.00,683.62 L1149.33,683.55 L1149.66,683.16 L1149.99,683.75 L1150.32,683.79 L1150.65,683.86 L1150.98,683.61 L1151.31,683.23 L1151.64,683.51 L1151.97,683.63 L1152.30,683.38 L1152.63,683.88 L1152.96,683.35 L1153.29,683.91 L1153.62,684.26 L1153.95,683.62 L1154.28,684.15 L1154.61,684.41 L1154.94,683.95 L1155.27,683.81 L1155.60,684.12 L1155.93,683.52 L1156.26,683.98 L1156.59,683.40 L1156.92,683.73 L1157.25,683.32 L1157.58,683.52 L1157.91,683.87 L1158.24,683.88 L1158.57,683.71 L1158.90,683.53 L1159.23,683.27 L1159.56,683.33 L1159.89,683.29 L1160.22,683.29 L1160.55,683.17 L1160.88,683.20 L1161.21,683.42 L1161.54,683.22 L1161.87,683.75 L1162.20,683.58 L1162.53,683.98 L1162.86,683.97 L1163.19,684.12 L1163.52,684.21 L1163.85,683.88 L1164.18,684.04 L1164.51,683.47 L1164.84,684.00 L1165.17,684.14 L1165.50,684.41 L1165.83,683.97 L1166.16,683.56 L1166.49,683.93 L1166.82,683.56 L1167.15,684.07 L1167.48,683.78 L1167.81,684.17 L1168.14,683.58 L1168.47,683.49 L1168.80,683.97 L1169.13,683.48 L1169.46,683.88 L1169.79,683.75 L1170.12,683.85 L1170.45,683.52 L1170.78,683.42 L1171.11,684.00 L1171.44,684.14 L1171.77,683.60 L1172.10,683.30 L1172.43,683.17 L1172.76,683.20 L1173.09,683.29 L1173.42,683.59 L1173.75,683.52 L1174.08,684.11 L1174.41,683.55 L1174.74,683.68 L1175.07,683.88 L1175.40,684.14 L1175.73,683.96 L1176.06,684.02 L1176.39,683.57 L1176.72,683.48 L1177.05,684.01 L1177.38,683.44 L1177.71,683.67 L1178.04,684.16 L1178.37,684.41 L1178.70,683.80 L1179.03,684.30 L1179.36,684.02 L1179.69,683.55 L1180.02,683.99 L1180.35,683.93 L1180.68,684.35 L1181.01,683.70 L1181.34,684.09 L1181.67,683.76 L1182.00,683.31 L1182.33,683.21 L1182.66,683.78 L1182.99,684.19 L1183.32,684.22 L1183.65,684.16 L1183.98,683.90 L1184.31,683.64 L1184.64,683.59 L1184.97,683.25 L1185.30,683.15 L1185.63,683.20 L1185.96,683.90 L1186.29,684.24 L1186.62,683.78 L1186.95,684.21 L1187.28,683.63 L1187.61,683.84 L1187.94,683.40 L1188.27,683.64 L1188.60,684.17 L1188.93,684.18 L1189.26,684.14 L1189.59,684.09 L1189.92,684.23 L1190.25,683.96 L1190.58,684.22 L1190.91,684.18 L1191.24,684.15 L1191.57,683.65 L1191.90,683.95 L1192.23,684.26 L1192.56,683.52 L1192.89,683.53 L1193.22,683.77 L1193.55,684.01 L1193.88,684.12 L1194.21,683.68 L1194.54,683.61 L1194.87,683.84 L1195.20,684.17 L1195.53,683.48 L1195.86,683.03 L1196.19,683.63 L1196.52,683.10 L1196.85,682.88 L1197.18,683.04 L1197.51,682.75 L1197.84,683.51 L1198.17,682.98 L1198.50,682.75 L1198.83,683.05 L1199.16,683.07 L1199.49,683.43 L1199.82,683.70 L1200.15,682.97 L1200.48,683.51 L1200.81,682.88 L1201.14,682.84 L1201.47,682.67 L1201.80,682.48 L1202.13,682.26 L1202.46,682.83 L1202.79,682.60 L1203.12,682.46 L1203.45,682.88 L1203.78,682.54 L1204.11,682.06 L1204.44,681.74 L1204.77,681.71 L1205.10,681.31 L1205.43,681.60 L1205.76,681.33 L1206.09,681.37 L1206.42,680.99 L1206.75,680.24 L1207.08,680.60 L1207.41,680.31 L1207.74,679.74 L1208.07,678.71 L1208.40,678.33 L1208.73,677.39 L1209.06,675.75 L1209.39,671.54 L1209.72,665.67 L1210.05,658.29 L1210.38,652.13 L1210.60,650.63 L1210.71,650.47 L1211.04,655.46 L1211.37,663.34 L1211.70,669.93 L1212.03,674.87 L1212.36,676.80 L1212.69,677.54 L1213.02,678.45 L1213.35,679.54 L1213.68,680.08 L1214.01,680.09 L1214.34,680.39 L1214.67,681.18 L1215.00,681.74 L1215.33,681.64 L1215.66,681.72 L1215.99,681.59 L1216.32,682.01 L1216.65,682.50 L1216.98,682.24 L1217.31,682.64 L1217.64,682.56 L1217.97,682.74 L1218.30,682.90 L1218.63,682.90 L1218.96,682.46 L1219.29,683.04 L1219.62,682.41 L1219.95,682.23 L1220.28,681.98 L1220.61,682.28 L1220.94,682.00 L1221.27,682.13 L1221.60,681.22 L1221.93,680.69 L1222.00,680.44 L1222.26,680.72 L1222.59,681.67 L1222.92,681.97 L1223.25,682.46 L1223.58,682.56 L1223.91,682.63 L1224.24,683.13 L1224.57,682.67 L1224.90,683.01 L1225.23,683.58 L1225.56,683.26 L1225.89,683.28 L1226.22,683.47 L1226.55,683.21 L1226.88,683.00 L1227.21,683.56 L1227.54,683.00 L1227.87,682.96 L1228.20,683.19 L1228.53,682.90 L1228.86,682.74 L1229.19,683.49 L1229.52,683.80 L1229.85,683.69 L1230.18,684.06 L1230.51,684.12 L1230.84,684.06 L1231.17,683.67 L1231.50,683.83 L1231.83,683.53 L1232.16,683.38 L1232.49,683.15 L1232.82,682.85 L1233.15,683.49 L1233.48,683.79 L1233.81,684.00 L1234.14,683.68 L1234.47,683.80 L1234.80,683.75 L1235.13,683.39 L1235.46,683.39 L1235.79,683.04 L1236.12,683.56 L1236.45,683.70 L1236.78,683.09 L1237.11,683.43 L1237.44,683.58 L1237.77,682.96 L1238.10,683.52 L1238.43,683.71 L1238.76,683.16 L1239.09,682.57 L1239.42,681.68 L1239.75,681.78 L1240.08,681.65 L1240.41,681.03 L1240.60,680.64 L1240.74,680.82 L1241.07,681.48 L1241.40,681.58 L1241.73,682.13 L1242.06,682.69 L1242.39,682.59 L1242.72,683.00 L1243.05,682.82 L1243.38,683.40 L1243.71,683.38 L1244.04,683.80 L1244.37,683.56 L1244.70,683.41 L1245.03,683.39 L1245.36,683.38 L1245.69,683.72 L1246.02,683.42 L1246.35,682.99 L1246.68,683.41 L1247.01,683.12 L1247.34,682.98 L1247.67,683.10 L1248.00,683.30 L1248.33,683.16 L1248.66,683.76 L1248.99,683.46 L1249.32,683.92 L1249.65,683.51 L1249.98,683.04 L1250.31,683.63 L1250.64,683.49 L1250.97,683.05 L1251.30,683.41 L1251.63,683.75 L1251.96,683.54 L1252.29,683.71 L1252.62,684.11 L1252.95,683.58 L1253.28,683.66 L1253.61,684.07 L1253.94,683.57 L1254.27,683.86 L1254.60,683.26 L1254.93,683.53 L1255.26,683.53 L1255.59,683.73 L1255.92,683.60 L1256.25,683.72 L1256.58,683.17 L1256.91,683.64 L1257.24,683.54 L1257.57,683.64 L1257.90,683.75 L1258.23,683.55 L1258.56,683.79 L1258.89,683.76 L1259.22,683.27 L1259.55,682.85 L1259.88,683.27 L1260.21,683.64 L1260.54,683.24 L1260.87,683.02 L1261.20,683.25 L1261.53,683.62 L1261.86,683.46 L1262.19,682.82 L1262.52,682.90 L1262.85,682.91 L1263.18,682.61 L1263.51,682.87 L1263.84,682.91 L1264.17,682.75 L1264.50,682.83 L1264.83,682.35 L1265.16,682.87 L1265.49,682.53 L1265.82,682.31 L1266.15,682.70 L1266.48,682.55 L1266.81,682.83 L1267.14,682.71 L1267.47,682.55 L1267.80,682.62 L1268.13,682.32 L1268.46,681.45 L1268.79,681.43 L1269.12,681.24 L1269.45,681.09 L1269.78,681.35 L1270.11,681.35 L1270.44,680.95 L1270.77,680.72 L1271.10,679.60 L1271.43,679.29 L1271.76,678.95 L1272.09,678.33 L1272.42,678.44 L1272.75,677.29 L1273.08,677.07 L1273.41,676.41 L1273.74,674.25 L1274.07,671.06 L1274.40,667.42 L1274.73,662.50 L1275.06,658.49 L1275.39,654.86 L1275.70,653.22 L1275.72,653.56 L1276.05,654.97 L1276.38,658.60 L1276.71,662.89 L1277.04,667.89 L1277.37,671.54 L1277.70,673.95 L1278.03,675.25 L1278.36,675.94 L1278.69,675.32 L1279.02,675.05 L1279.35,673.79 L1279.68,671.96 L1280.01,670.51 L1280.34,668.73 L1280.67,667.24 L1281.00,667.08 L1281.33,667.83 L1281.66,669.72 L1281.99,672.24 L1282.32,674.72 L1282.65,676.35 L1282.98,677.80 L1283.31,678.73 L1283.64,680.12 L1283.97,680.98 L1284.30,680.78 L1284.63,680.91 L1284.96,681.23 L1285.29,681.07 L1285.62,681.59 L1285.95,681.94 L1286.28,681.74 L1286.61,681.77 L1286.94,682.23 L1287.27,682.77 L1287.60,682.27 L1287.93,682.65 L1288.26,683.03 L1288.59,683.12 L1288.92,683.45 L1289.25,682.91 L1289.58,682.60 L1289.91,683.24 L1290.24,683.08 L1290.57,683.25 L1290.90,683.20 L1291.23,683.24 L1291.56,682.72 L1291.89,682.52 L1292.22,682.45 L1292.55,683.21 L1292.88,682.81 L1293.21,682.92 L1293.54,682.75 L1293.87,683.18 L1294.20,683.44 L1294.53,683.71 L1294.86,683.79 L1295.19,683.87 L1295.52,683.34 L1295.85,683.34 L1296.18,683.87 L1296.51,683.61 L1296.84,683.87 L1297.17,683.73 L1297.50,683.44 L1297.83,683.90 L1298.16,683.28 L1298.49,683.56 L1298.82,683.82 L1299.15,684.02 L1299.48,683.36 L1299.81,683.59 L1300.14,683.40 L1300.47,683.67 L1300.80,683.19 L1301.13,683.37 L1301.46,683.49 L1301.79,683.33 L1302.12,683.27 L1302.45,683.69 L1302.78,683.75 L1303.11,683.59 L1303.44,683.58 L1303.77,683.75 L1304.10,683.81 L1304.43,683.93 L1304.76,684.24 L1305.09,684.44 L1305.42,683.71 L1305.75,683.69 L1306.08,683.77 L1306.41,683.36 L1306.74,683.30 L1307.07,683.19 L1307.40,683.35 L1307.73,683.37 L1308.06,683.13 L1308.39,683.63 L1308.72,683.94 L1309.05,683.57 L1309.38,683.31 L1309.71,683.35 L1310.04,683.78 L1310.37,683.38 L1310.70,683.77 L1311.03,684.21 L1311.36,683.75 L1311.69,683.48 L1312.02,683.71 L1312.35,684.08 L1312.68,683.62 L1313.01,683.26 L1313.34,683.44 L1313.67,683.51 L1314.00,683.27 L1314.33,683.83 L1314.66,683.37 L1314.99,683.74 L1315.32,683.53 L1315.65,683.27 L1315.98,683.41 L1316.31,683.50 L1316.64,683.50 L1316.97,683.78 L1317.30,683.76 L1317.63,683.59 L1317.96,683.39 L1318.29,683.70 L1318.62,684.10 L1318.95,684.30 L1319.28,683.80 L1319.61,683.98 L1319.94,683.74 L1320.27,683.92 L1320.60,683.43 L1320.93,683.89 L1321.26,683.77 L1321.59,684.04 L1321.92,684.31 L1322.25,683.69 L1322.58,684.10 L1322.91,684.41 L1323.24,683.85 L1323.57,683.99 L1323.90,684.27 L1324.23,683.59 L1324.56,683.87 L1324.89,683.66 L1325.22,683.72 L1325.55,683.45 L1325.88,683.54 L1326.21,684.08 L1326.54,683.73 L1326.87,683.69 L1327.20,683.40 L1327.53,683.49 L1327.86,683.36 L1328.19,683.46 L1328.52,683.56 L1328.85,683.73 L1329.18,683.90 L1329.51,683.99 L1329.84,683.43 L1330.17,683.63 L1330.50,684.23 L1330.83,684.40 L1331.16,684.27 L1331.49,684.24 L1331.82,683.87 L1332.15,683.39 L1332.48,683.35 L1332.81,684.04 L1333.14,683.84 L1333.47,683.82 L1333.80,683.63 L1334.13,683.26 L1334.46,683.60 L1334.79,683.31"/>
<path fill="#ff0000" stroke="none" d="M674.6,580.5 L682,579.5 L685.4,590 L685.6,647 L680,650 L675.2,648 Z"/>
<path stroke="#0000ff" d="M109.50,461.06 L109.83,461.59 L110.16,461.76 L110.49,461.34 L110.82,461.37 L111.15,461.33 L111.48,461.52 L111.81,461.74 L112.14,461.16 L112.47,460.80 L112.80,461.42 L113.13,461.33 L113.46,461.61 L113.79,460.99 L114.12,461.12 L114.45,461.46 L114.78,461.13 L115.11,461.69 L115.44,461.92 L115.77,461.16 L116.10,460.77 L116.43,461.09 L116.76,461.65 L117.09,461.36 L117.42,461.05 L117.75,461.10 L118.08,460.73 L118.41,460.74 L118.74,460.95 L119.07,461.12 L119.40,460.93 L119.73,460.84 L120.06,460.77 L120.39,460.98 L120.72,460.91 L121.05,460.60 L121.38,461.26 L121.71,461.31 L122.04,461.42 L122.37,461.01 L122.70,461.61 L123.03,461.78 L123.36,461.12 L123.69,461.00 L124.02,461.32 L124.35,461.47 L124.68,461.77 L125.01,461.40 L125.34,461.62 L125.67,461.57 L126.00,461.17 L126.33,461.26 L126.66,461.59 L126.99,461.72 L127.32,461.44 L127.65,461.38 L127.98,460.79 L128.31,460.70 L128.64,461.21 L128.97,461.08 L129.30,460.77 L129.63,460.99 L129.96,461.25 L130.29,461.34 L130.62,461.09 L130.95,461.02 L131.28,461.06 L131.61,461.34 L131.94,461.22 L132.27,461.03 L132.60,461.03 L132.93,460.57 L133.26,460.35 L133.59,460.89 L133.92,461.44 L134.25,461.32 L134.58,461.06 L134.91,460.70 L135.24,460.85 L135.57,461.40 L135.90,461.47 L136.23,461.26 L136.56,461.48 L136.89,460.95 L137.22,460.97 L137.55,461.41 L137.88,461.26 L138.21,461.06 L138.54,460.77 L138.87,460.89 L139.20,461.36 L139.53,460.65 L139.86,461.06 L140.19,461.30 L140.52,461.48 L140.85,461.43 L141.18,461.46 L141.51,461.19 L141.84,461.09 L142.17,460.90 L142.50,460.44 L142.83,461.01 L143.16,461.00 L143.49,460.62 L143.82,460.73 L144.15,460.76 L144.48,460.65 L144.81,460.57 L145.14,460.73 L145.47,460.89 L145.80,460.95 L146.13,460.83 L146.46,460.33 L146.79,460.28 L147.12,460.20 L147.45,460.57 L147.78,461.02 L148.11,461.18 L148.44,461.26 L148.77,461.31 L149.10,460.78 L149.43,461.09 L149.76,461.08 L150.09,460.48 L150.42,460.11 L150.75,459.92 L151.08,460.56 L151.41,460.37 L151.74,460.14 L152.07,460.53 L152.40,460.44 L152.73,460.12 L153.06,460.05 L153.39,460.38 L153.72,460.18 L154.05,460.18 L154.38,460.62 L154.71,460.58 L155.04,460.42 L155.37,460.50 L155.70,460.08 L156.03,460.23 L156.36,460.34 L156.69,460.16 L157.02,459.98 L157.35,460.68 L157.68,460.64 L158.01,460.32 L158.34,460.55 L158.67,460.88 L159.00,460.24 L159.33,459.92 L159.66,459.88 L159.99,460.43 L160.32,460.15 L160.65,460.55 L160.98,460.72 L161.31,460.67 L161.64,460.32 L161.97,460.90 L162.30,461.00 L162.63,460.77 L162.96,460.36 L163.29,460.58 L163.62,460.44 L163.95,460.54 L164.28,460.34 L164.61,460.54 L164.94,460.07 L165.27,460.08 L165.60,460.74 L165.93,460.99 L166.26,460.53 L166.59,460.86 L166.92,460.47 L167.25,460.91 L167.58,460.93 L167.91,460.61 L168.24,460.28 L168.57,459.87 L168.90,460.54 L169.23,460.03 L169.56,460.55 L169.89,460.96 L170.22,460.77 L170.55,460.27 L170.88,460.72 L171.21,461.05 L171.54,460.94 L171.87,460.69 L172.20,460.43 L172.53,460.27 L172.86,460.05 L173.19,460.41 L173.52,460.34 L173.85,460.07 L174.18,459.85 L174.51,460.29 L174.84,460.15 L175.17,460.28 L175.50,460.17 L175.83,460.66 L176.16,460.93 L176.49,460.19 L176.82,460.00 L177.15,460.03 L177.48,460.70 L177.81,460.83 L178.14,460.46 L178.47,460.14 L178.80,460.45 L179.13,460.76 L179.46,461.01 L179.79,460.53 L180.12,460.84 L180.45,460.80 L180.78,460.58 L181.11,460.96 L181.44,460.41 L181.77,460.62 L182.10,460.09 L182.43,459.91 L182.76,460.56 L183.09,460.18 L183.42,460.54 L183.75,460.57 L184.08,460.82 L184.41,460.47 L184.74,460.27 L185.07,460.12 L185.40,460.63 L185.73,460.61 L186.06,460.96 L186.39,461.07 L186.72,460.37 L187.05,460.43 L187.38,460.02 L187.71,459.75 L188.04,459.65 L188.37,460.40 L188.70,460.69 L189.03,460.88 L189.36,460.49 L189.69,460.57 L190.02,460.77 L190.35,460.48 L190.68,460.52 L191.01,460.20 L191.34,459.89 L191.67,459.93 L192.00,460.57 L192.33,460.57 L192.66,460.93 L192.99,460.64 L193.32,460.32 L193.65,460.67 L193.98,460.89 L194.31,460.18 L194.64,460.49 L194.97,460.07 L195.30,459.88 L195.63,460.56 L195.96,460.06 L196.29,460.01 L196.62,460.73 L196.95,460.53 L197.28,460.12 L197.61,459.97 L197.94,459.98 L198.27,460.48 L198.60,460.09 L198.93,460.71 L199.26,460.49 L199.59,460.97 L199.92,461.15 L200.25,460.63 L200.58,460.33 L200.91,460.41 L201.24,460.07 L201.57,460.46 L201.90,460.04 L202.23,459.80 L202.56,460.66 L202.89,460.40 L203.22,460.58 L203.55,460.52 L203.88,460.36 L204.21,460.03 L204.54,460.72 L204.87,461.12 L205.20,461.32 L205.53,460.57 L205.86,460.30 L206.19,460.57 L206.52,461.07 L206.85,460.88 L207.18,460.94 L207.51,460.94 L207.84,460.54 L208.17,460.63 L208.50,460.44 L208.83,460.29 L209.16,460.05 L209.49,460.13 L209.82,460.87 L210.15,460.71 L210.48,460.84 L210.81,460.90 L211.14,461.23 L211.47,460.84 L211.80,460.57 L212.13,460.45 L212.46,460.39 L212.79,460.89 L213.12,461.19 L213.45,460.75 L213.78,460.56 L214.11,460.68 L214.44,460.78 L214.77,460.84 L215.10,460.53 L215.43,460.15 L215.76,460.18 L216.09,460.03 L216.42,460.43 L216.75,460.16 L217.08,460.03 L217.41,460.52 L217.74,460.43 L218.07,460.88 L218.40,460.81 L218.73,461.15 L219.06,460.61 L219.39,460.68 L219.72,461.02 L220.05,460.47 L220.38,461.07 L220.71,460.59 L221.04,460.95 L221.37,461.34 L221.70,461.38 L222.03,460.89 L222.36,460.43 L222.69,460.61 L223.02,461.11 L223.35,460.73 L223.68,461.13 L224.01,460.59 L224.34,461.08 L224.67,460.44 L225.00,460.41 L225.33,460.97 L225.66,461.15 L225.99,461.34 L226.32,461.36 L226.65,461.28 L226.98,461.17 L227.31,460.60 L227.64,460.56 L227.97,460.26 L228.30,460.65 L228.63,460.79 L228.96,460.44 L229.29,460.06 L229.62,460.75 L229.95,460.93 L230.28,460.74 L230.61,460.62 L230.94,460.84 L231.27,460.53 L231.60,460.29 L231.93,460.08 L232.26,459.86 L232.59,459.47 L232.92,459.85 L233.25,459.75 L233.58,459.80 L233.91,459.24 L234.24,459.17 L234.57,458.82 L234.90,458.52 L235.23,458.37 L235.56,458.72 L235.89,458.28 L236.22,457.85 L236.55,457.60 L236.88,456.81 L237.21,455.85 L237.54,455.50 L237.87,454.72 L238.20,453.15 L238.53,448.55 L238.86,438.84 L239.19,423.89 L239.52,410.67 L239.70,408.50 L239.85,410.06 L240.18,421.87 L240.51,437.24 L240.84,447.91 L241.17,453.23 L241.50,455.41 L241.83,455.85 L242.16,456.67 L242.49,456.73 L242.82,457.00 L243.15,457.77 L243.48,458.67 L243.81,458.55 L244.14,459.21 L244.47,459.76 L244.80,459.55 L245.13,459.91 L245.46,460.31 L245.79,460.09 L246.12,460.37 L246.45,460.59 L246.78,460.60 L247.11,460.91 L247.44,461.13 L247.77,461.34 L248.10,461.08 L248.43,460.59 L248.76,460.44 L249.09,460.35 L249.42,460.68 L249.75,461.05 L250.08,460.54 L250.41,460.94 L250.74,461.18 L251.07,460.95 L251.40,461.02 L251.73,460.71 L252.06,461.13 L252.39,460.66 L252.72,461.38 L253.05,461.57 L253.38,461.50 L253.71,461.11 L254.04,461.57 L254.37,461.85 L254.70,461.18 L255.03,461.49 L255.36,461.71 L255.69,461.65 L256.02,461.67 L256.35,461.42 L256.68,461.79 L257.01,462.02 L257.34,461.55 L257.67,461.75 L258.00,461.48 L258.33,461.08 L258.66,461.04 L258.99,460.83 L259.32,461.51 L259.65,461.91 L259.98,461.27 L260.31,461.43 L260.64,461.33 L260.97,460.99 L261.30,461.00 L261.63,460.96 L261.96,461.44 L262.29,460.94 L262.62,460.88 L262.95,461.10 L263.28,460.80 L263.61,461.25 L263.94,461.46 L264.27,461.80 L264.60,461.34 L264.93,461.19 L265.26,461.38 L265.59,461.21 L265.92,461.43 L266.25,461.21 L266.58,461.54 L266.91,461.81 L267.24,461.97 L267.57,462.21 L267.90,461.91 L268.23,461.70 L268.56,461.97 L268.89,462.02 L269.22,461.84 L269.55,461.57 L269.88,461.34 L270.21,461.05 L270.54,461.60 L270.87,461.19 L271.20,461.62 L271.53,461.63 L271.86,462.06 L272.19,462.07 L272.52,462.29 L272.85,461.56 L273.18,461.56 L273.51,461.64 L273.84,461.41 L274.17,461.50 L274.50,461.39 L274.83,461.51 L275.16,461.05 L275.49,461.26 L275.82,461.37 L276.15,461.28 L276.48,461.33 L276.81,461.75 L277.14,461.85 L277.47,461.72 L277.80,461.80 L278.13,461.58 L278.46,461.29 L278.79,460.95 L279.12,461.05 L279.45,461.43 L279.78,461.90 L280.11,462.08 L280.44,461.86 L280.77,462.22 L281.10,461.88 L281.43,462.08 L281.76,461.76 L282.09,461.93 L282.42,462.26 L282.75,461.75 L283.08,461.36 L283.41,461.61 L283.74,461.65 L284.07,461.50 L284.40,461.07 L284.73,461.24 L285.06,461.36 L285.39,461.40 L285.72,461.88 L286.05,461.84 L286.38,461.97 L286.71,462.20 L287.04,462.17 L287.37,461.90 L287.70,462.01 L288.03,461.97 L288.36,461.95 L288.69,461.93 L289.02,461.69 L289.35,461.80 L289.68,461.86 L290.01,462.19 L290.34,462.20 L290.67,462.27 L291.00,462.23 L291.33,462.26 L291.66,462.06 L291.99,461.71 L292.32,461.44 L292.65,461.76 L292.98,462.08 L293.31,461.91 L293.64,461.44 L293.97,461.88 L294.30,461.75 L294.63,461.67 L294.96,461.21 L295.29,461.45 L295.62,461.80 L295.95,461.65 L296.28,461.51 L296.61,461.75 L296.94,461.22 L297.27,461.45 L297.60,462.01 L297.93,462.03 L298.26,461.75 L298.59,461.90 L298.92,461.89 L299.25,461.49 L299.58,461.29 L299.91,461.88 L300.24,461.55 L300.57,461.19 L300.90,461.77 L301.23,461.75 L301.56,461.59 L301.89,461.65 L302.22,461.91 L302.55,461.47 L302.88,461.73 L303.21,461.92 L303.54,462.12 L303.87,461.68 L304.20,461.79 L304.53,461.47 L304.86,461.64 L305.19,461.34 L305.52,461.80 L305.85,462.11 L306.18,461.73 L306.51,461.43 L306.84,462.03 L307.17,462.07 L307.50,462.22 L307.83,461.49 L308.16,461.99 L308.49,461.96 L308.82,461.64 L309.15,461.60 L309.48,461.91 L309.81,462.09 L310.14,461.58 L310.47,461.76 L310.80,461.39 L311.13,462.02 L311.46,461.80 L311.79,462.16 L312.12,462.16 L312.45,462.03 L312.78,461.63 L313.11,461.69 L313.44,461.33 L313.77,461.15 L314.10,461.64 L314.43,461.53 L314.76,461.86 L315.09,461.52 L315.42,461.83 L315.75,461.98 L316.08,461.64 L316.41,461.28 L316.74,461.38 L317.07,461.53 L317.40,461.21 L317.73,461.14 L318.06,460.97 L318.39,461.43 L318.72,461.95 L319.05,461.54 L319.38,461.15 L319.71,461.63 L320.04,461.98 L320.37,462.30 L320.70,462.11 L321.03,461.75 L321.36,462.06 L321.69,461.50 L322.02,461.79 L322.35,461.34 L322.68,461.42 L323.01,461.55 L323.34,461.50 L323.67,461.27 L324.00,461.22 L324.33,461.78 L324.66,461.70 L324.99,461.78 L325.32,461.45 L325.65,461.79 L325.98,461.57 L326.31,461.73 L326.64,462.12 L326.97,462.41 L327.30,461.60 L327.63,461.95 L327.96,462.18 L328.29,461.76 L328.62,461.61 L328.95,461.74 L329.28,462.14 L329.61,461.82 L329.94,462.14 L330.27,462.18 L330.60,461.59 L330.93,462.06 L331.26,461.39 L331.59,461.19 L331.92,461.61 L332.25,461.21 L332.58,461.33 L332.91,461.15 L333.24,461.39 L333.57,461.88 L333.90,462.20 L334.23,461.48 L334.56,461.15 L334.89,461.77 L335.22,461.28 L335.55,461.26 L335.88,461.10 L336.21,460.99 L336.54,460.87 L336.87,461.42 L337.20,461.81 L337.53,461.94 L337.86,462.17 L338.19,462.10 L338.52,461.79 L338.85,461.87 L339.18,462.26 L339.51,462.12 L339.84,461.65 L340.17,461.24 L340.50,461.90 L340.83,461.89 L341.16,461.65 L341.49,461.78 L341.82,461.80 L342.15,461.77 L342.48,461.30 L342.81,461.35 L343.14,461.44 L343.47,461.27 L343.80,461.86 L344.13,461.71 L344.46,461.87 L344.79,462.00 L345.12,462.09 L345.45,462.12 L345.78,462.16 L346.11,461.68 L346.44,462.17 L346.77,461.58 L347.10,462.06 L347.43,462.23 L347.76,462.32 L348.09,461.56 L348.42,461.22 L348.75,461.77 L349.08,461.71 L349.41,461.57 L349.74,462.12 L350.07,461.45 L350.40,461.61 L350.73,461.60 L351.06,461.28 L351.39,461.38 L351.72,461.75 L352.05,462.11 L352.38,461.43 L352.71,461.59 L353.04,461.23 L353.37,461.77 L353.70,461.32 L354.03,461.04 L354.36,461.26 L354.69,461.71 L355.02,461.52 L355.35,461.24 L355.68,461.76 L356.01,462.04 L356.34,462.23 L356.67,461.77 L357.00,461.66 L357.33,461.42 L357.66,461.62 L357.99,461.49 L358.32,461.43 L358.65,461.85 L358.98,462.23 L359.31,462.05 L359.64,461.48 L359.97,461.74 L360.30,461.67 L360.63,462.17 L360.96,462.16 L361.29,462.26 L361.62,462.18 L361.95,461.98 L362.28,462.24 L362.61,462.30 L362.94,461.79 L363.27,461.40 L363.60,461.42 L363.93,461.58 L364.26,461.24 L364.59,461.31 L364.92,461.58 L365.25,461.18 L365.58,461.76 L365.91,461.88 L366.24,461.60 L366.57,461.45 L366.90,461.43 L367.23,461.39 L367.56,461.79 L367.89,461.75 L368.22,461.75 L368.55,461.37 L368.88,461.95 L369.21,461.65 L369.54,461.50 L369.87,461.17 L370.20,461.91 L370.53,461.79 L370.86,462.16 L371.19,462.36 L371.52,462.50 L371.85,462.41 L372.18,462.48 L372.51,462.51 L372.84,462.41 L373.17,461.69 L373.50,461.72 L373.83,461.78 L374.16,462.23 L374.49,462.25 L374.82,462.18 L375.15,462.19 L375.48,461.80 L375.81,462.19 L376.14,462.09 L376.47,461.80 L376.80,461.71 L377.13,462.19 L377.46,461.98 L377.79,461.51 L378.12,461.25 L378.45,461.66 L378.78,461.74 L379.11,462.13 L379.44,461.60 L379.77,461.56 L380.10,461.86 L380.43,461.33 L380.76,461.11 L381.09,461.45 L381.42,461.34 L381.75,461.13 L382.08,461.18 L382.41,461.57 L382.74,461.66 L383.07,461.26 L383.40,461.05 L383.73,461.73 L384.06,461.86 L384.39,461.45 L384.72,461.94 L385.05,461.34 L385.38,461.39 L385.71,461.89 L386.04,462.01 L386.37,461.64 L386.70,462.06 L387.03,461.98 L387.36,462.20 L387.69,462.35 L388.02,461.95 L388.35,462.00 L388.68,461.89 L389.01,462.24 L389.34,462.27 L389.67,462.21 L390.00,462.27 L390.33,462.48 L390.66,461.85 L390.99,461.48 L391.32,461.83 L391.65,462.04 L391.98,461.88 L392.31,461.78 L392.64,461.64 L392.97,462.05 L393.30,462.17 L393.63,462.02 L393.96,461.40 L394.29,461.90 L394.62,461.76 L394.95,461.42 L395.28,461.36 L395.61,461.72 L395.94,461.22 L396.27,461.08 L396.60,461.19 L396.93,461.83 L397.26,462.01 L397.59,462.33 L397.92,462.06 L398.25,461.95 L398.58,461.88 L398.91,461.81 L399.24,461.80 L399.57,462.07 L399.90,462.34 L400.23,461.93 L400.56,461.94 L400.89,461.63 L401.22,461.47 L401.55,461.59 L401.88,461.73 L402.21,461.77 L402.54,462.21 L402.87,461.62 L403.20,461.80 L403.53,462.24 L403.86,462.21 L404.19,462.02 L404.52,461.73 L404.85,461.62 L405.18,462.09 L405.51,462.29 L405.84,462.17 L406.17,462.33 L406.50,462.44 L406.83,462.42 L407.16,461.94 L407.49,461.79 L407.82,462.04 L408.15,461.74 L408.48,461.97 L408.81,461.82 L409.14,461.59 L409.47,461.60 L409.80,461.27 L410.13,461.34 L410.46,461.43 L410.79,461.09 L411.12,461.06 L411.45,461.14 L411.78,461.78 L412.11,461.83 L412.44,461.55 L412.77,462.12 L413.10,461.67 L413.43,461.70 L413.76,461.94 L414.09,462.01 L414.42,461.79 L414.75,462.02 L415.08,461.85 L415.41,461.99 L415.74,461.84 L416.07,462.24 L416.40,462.19 L416.73,461.53 L417.06,461.25 L417.39,461.94 L417.72,461.55 L418.05,461.15 L418.38,461.18 L418.71,461.42 L419.04,462.01 L419.37,461.75 L419.70,461.95 L420.03,462.16 L420.36,461.52 L420.69,461.72 L421.02,462.21 L421.35,462.00 L421.68,461.89 L422.01,461.64 L422.34,462.12 L422.67,462.38 L423.00,461.64 L423.33,461.72 L423.66,461.63 L423.99,461.84 L424.32,461.39 L424.65,461.31 L424.98,461.28 L425.31,461.47 L425.64,461.88 L425.97,462.15 L426.30,462.21 L426.63,462.13 L426.96,461.50 L427.29,461.49 L427.62,461.76 L427.95,461.53 L428.28,461.62 L428.61,462.07 L428.94,461.50 L429.27,461.95 L429.60,461.43 L429.93,461.45 L430.26,461.98 L430.59,461.54 L430.92,461.64 L431.25,461.59 L431.58,462.03 L431.91,462.36 L432.24,461.82 L432.57,461.75 L432.90,462.12 L433.23,461.96 L433.56,461.54 L433.89,461.88 L434.22,461.63 L434.55,461.65 L434.88,461.18 L435.21,461.93 L435.54,461.97 L435.87,462.26 L436.20,462.45 L436.53,461.84 L436.86,461.81 L437.19,461.70 L437.52,461.96 L437.85,462.17 L438.18,461.66 L438.51,461.46 L438.84,461.78 L439.17,461.65 L439.50,461.31 L439.83,461.20 L440.16,461.51 L440.49,461.70 L440.82,462.16 L441.15,461.96 L441.48,461.94 L441.81,461.47 L442.14,461.50 L442.47,461.38 L442.80,461.73 L443.13,461.48 L443.46,461.31 L443.79,461.37 L444.12,461.51 L444.45,461.44 L444.78,461.68 L445.11,461.37 L445.44,461.91 L445.77,462.00 L446.10,461.89 L446.43,461.35 L446.76,461.35 L447.09,461.72 L447.42,461.85 L447.75,462.09 L448.08,462.29 L448.41,461.81 L448.74,461.75 L449.07,461.55 L449.40,461.25 L449.73,461.12 L450.06,461.17 L450.39,461.02 L450.72,461.40 L451.05,461.75 L451.38,461.79 L451.71,461.93 L452.04,461.54 L452.37,461.32 L452.70,461.58 L453.03,462.02 L453.36,461.78 L453.69,461.25 L454.02,460.99 L454.35,461.15 L454.68,461.54 L455.01,461.21 L455.34,461.18 L455.67,461.62 L456.00,462.14 L456.33,461.76 L456.66,461.83 L456.99,461.78 L457.32,461.27 L457.65,461.31 L457.98,461.15 L458.31,461.17 L458.64,461.71 L458.97,461.88 L459.30,461.33 L459.63,461.09 L459.96,461.62 L460.29,461.26 L460.62,461.30 L460.95,461.27 L461.28,461.03 L461.61,460.90 L461.94,460.94 L462.27,461.22 L462.60,461.89 L462.93,461.93 L463.26,461.56 L463.59,461.81 L463.92,461.53 L464.25,461.63 L464.58,461.49 L464.91,462.04 L465.24,461.72 L465.57,462.02 L465.90,462.00 L466.23,462.19 L466.56,462.05 L466.89,462.25 L467.22,461.88 L467.55,461.97 L467.88,461.95 L468.21,461.86 L468.54,461.84 L468.87,461.81 L469.20,461.65 L469.53,462.07 L469.86,462.02 L470.19,461.91 L470.52,461.36 L470.85,461.54 L471.18,461.29 L471.51,461.21 L471.84,461.39 L472.17,461.59 L472.50,461.40 L472.83,461.32 L473.16,461.54 L473.49,461.59 L473.82,461.55 L474.15,461.23 L474.48,461.34 L474.81,461.67 L475.14,461.73 L475.47,461.76 L475.80,462.07 L476.13,462.11 L476.46,462.09 L476.79,461.43 L477.12,461.37 L477.45,461.72 L477.78,461.36 L478.11,461.95 L478.44,461.46 L478.77,461.96 L479.10,461.55 L479.43,461.97 L479.76,462.18 L480.09,461.78 L480.42,462.13 L480.75,461.57 L481.08,461.99 L481.41,461.72 L481.74,461.65 L482.07,461.29 L482.40,461.60 L482.73,461.42 L483.06,461.73 L483.39,462.01 L483.72,461.96 L484.05,461.34 L484.38,461.97 L484.71,462.26 L485.04,462.12 L485.37,461.79 L485.70,461.81 L486.03,462.14 L486.36,461.88 L486.69,462.07 L487.02,461.98 L487.35,461.76 L487.68,462.17 L488.01,461.84 L488.34,461.88 L488.67,461.34 L489.00,461.49 L489.33,461.13 L489.66,461.62 L489.99,461.16 L490.32,460.97 L490.65,460.95 L490.98,460.96 L491.31,461.34 L491.64,461.38 L491.97,461.31 L492.30,461.99 L492.63,462.25 L492.96,462.13 L493.29,462.22 L493.62,462.28 L493.95,461.73 L494.28,462.03 L494.61,461.60 L494.94,461.71 L495.27,461.56 L495.60,461.29 L495.93,461.77 L496.26,462.15 L496.59,461.74 L496.92,462.10 L497.25,461.75 L497.58,461.88 L497.91,462.29 L498.24,462.27 L498.57,461.54 L498.90,461.55 L499.23,461.50 L499.56,461.40 L499.89,461.86 L500.22,461.72 L500.55,461.91 L500.88,461.94 L501.21,461.84 L501.54,461.33 L501.87,461.69 L502.20,462.08 L502.53,461.56 L502.86,461.77 L503.19,461.72 L503.52,461.55 L503.85,461.84 L504.18,462.24 L504.51,461.49 L504.84,461.99 L505.17,461.73 L505.50,462.05 L505.83,461.55 L506.16,461.84 L506.49,461.37 L506.82,461.37 L507.15,462.01 L507.48,462.01 L507.81,462.14 L508.14,461.88 L508.47,461.76 L508.80,461.72 L509.13,461.98 L509.46,462.07 L509.79,461.58 L510.12,461.58 L510.45,461.68 L510.78,461.76 L511.11,462.16 L511.44,462.27 L511.77,461.63 L512.10,461.54 L512.43,461.23 L512.76,460.99 L513.09,460.92 L513.42,460.99 L513.75,461.61 L514.08,461.82 L514.41,462.06 L514.74,461.67 L515.07,461.34 L515.40,461.99 L515.73,462.17 L516.06,462.38 L516.39,461.56 L516.72,461.53 L517.05,461.75 L517.38,461.96 L517.71,462.24 L518.04,462.01 L518.37,461.75 L518.70,461.23 L519.03,461.77 L519.36,462.22 L519.69,462.37 L520.02,462.19 L520.35,461.79 L520.68,461.48 L521.01,461.87 L521.34,462.22 L521.67,462.42 L522.00,461.74 L522.33,461.80 L522.66,461.76 L522.99,461.66 L523.32,461.97 L523.65,462.27 L523.98,462.21 L524.31,462.16 L524.64,462.12 L524.97,462.06 L525.30,461.92 L525.63,461.56 L525.96,461.91 L526.29,461.42 L526.62,461.71 L526.95,461.59 L527.28,461.70 L527.61,461.84 L527.94,461.75 L528.27,462.20 L528.60,461.69 L528.93,461.21 L529.26,461.91 L529.59,461.62 L529.92,461.44 L530.25,461.48 L530.58,461.69 L530.91,462.18 L531.24,462.15 L531.57,461.74 L531.90,461.76 L532.23,461.68 L532.56,461.69 L532.89,461.61 L533.22,461.32 L533.55,461.40 L533.88,461.44 L534.21,461.26 L534.54,461.80 L534.87,461.60 L535.20,461.30 L535.53,461.56 L535.86,461.97 L536.19,462.11 L536.52,462.02 L536.85,462.09 L537.18,461.73 L537.51,461.35 L537.84,461.28 L538.17,461.33 L538.50,461.29 L538.83,461.46 L539.16,461.22 L539.49,461.09 L539.82,461.14 L540.15,461.11 L540.48,461.70 L540.81,461.73 L541.14,461.41 L541.47,461.48 L541.80,461.96 L542.13,461.90 L542.46,461.85 L542.79,461.66 L543.12,461.37 L543.45,461.65 L543.78,461.24 L544.11,461.75 L544.44,461.27 L544.77,461.73 L545.10,461.59 L545.43,461.82 L545.76,461.84 L546.09,461.39 L546.42,461.58 L546.75,461.20 L547.08,461.18 L547.41,461.31 L547.74,461.28 L548.07,461.64 L548.40,462.15 L548.73,461.77 L549.06,462.06 L549.39,461.60 L549.72,461.85 L550.05,461.61 L550.38,461.68 L550.71,461.27 L551.04,461.80 L551.37,461.45 L551.70,461.53 L552.03,461.39 L552.36,461.85 L552.69,461.85 L553.02,461.88 L553.35,462.03 L553.68,461.61 L554.01,461.20 L554.34,461.77 L554.67,461.54 L555.00,461.92 L555.33,462.25 L555.66,462.09 L555.99,461.49 L556.32,461.93 L556.65,461.94 L556.98,461.55 L557.31,461.32 L557.64,461.50 L557.97,461.21 L558.30,461.84 L558.63,461.96 L558.96,462.14 L559.29,461.78 L559.62,462.15 L559.95,461.54 L560.28,461.82 L560.61,461.50 L560.94,461.08 L561.27,460.99 L561.60,461.03 L561.93,461.61 L562.26,461.51 L562.59,461.57 L562.92,461.73 L563.25,461.46 L563.58,461.70 L563.91,461.85 L564.24,462.17 L564.57,461.92 L564.90,462.14 L565.23,462.36 L565.56,462.28 L565.89,461.89 L566.22,461.54 L566.55,461.19 L566.88,461.75 L567.21,461.33 L567.54,461.55 L567.87,461.55 L568.20,461.14 L568.53,461.11 L568.86,461.70 L569.19,461.71 L569.52,462.10 L569.85,462.27 L570.18,461.55 L570.51,461.77 L570.84,461.24 L571.17,461.36 L571.50,461.43 L571.83,461.99 L572.16,461.90 L572.49,461.45 L572.82,461.54 L573.15,461.60 L573.48,461.30 L573.81,461.32 L574.14,461.84 L574.47,462.20 L574.80,462.18 L575.13,461.45 L575.46,461.93 L575.79,461.72 L576.12,461.99 L576.45,461.46 L576.78,461.17 L577.11,461.78 L577.44,461.46 L577.77,461.05 L578.10,461.31 L578.43,461.92 L578.76,462.07 L579.09,461.70 L579.42,462.11 L579.75,462.11 L580.08,462.16 L580.41,461.98 L580.74,461.63 L581.07,461.97 L581.40,461.70 L581.73,462.02 L582.06,461.79 L582.39,462.03 L582.72,461.71 L583.05,461.49 L583.38,461.53 L583.71,461.27 L584.04,460.96 L584.37,461.24 L584.70,461.63 L585.03,461.23 L585.36,461.61 L585.69,461.70 L586.02,461.72 L586.35,461.34 L586.68,461.72 L587.01,461.67 L587.34,461.40 L587.67,460.77 L588.00,460.87 L588.33,460.32 L588.66,460.88 L588.99,460.53 L589.32,460.32 L589.65,460.31 L589.98,460.30 L590.31,460.12 L590.64,459.81 L590.97,459.65 L591.30,459.57 L591.63,458.77 L591.96,457.58 L592.29,455.38 L592.62,450.33 L592.95,444.72 L593.28,441.13 L593.40,440.74 L593.61,442.33 L593.94,446.35 L594.27,451.43 L594.60,455.35 L594.93,457.57 L595.26,458.87 L595.59,459.69 L595.92,460.03 L596.25,460.03 L596.58,459.54 L596.91,459.38 L597.24,459.91 L597.57,460.40 L597.90,460.11 L598.23,460.69 L598.56,460.56 L598.89,460.51 L599.22,460.52 L599.55,459.95 L599.88,459.73 L600.21,460.35 L600.54,459.94 L600.87,459.49 L601.20,459.39 L601.53,459.66 L601.86,459.01 L602.19,457.85 L602.52,455.97 L602.85,453.95 L603.18,453.18 L603.20,452.92 L603.51,454.29 L603.84,456.81 L604.17,458.81 L604.50,459.19 L604.83,459.55 L605.16,460.33 L605.49,460.70 L605.82,460.22 L606.15,460.35 L606.48,460.38 L606.81,460.83 L607.14,460.37 L607.47,460.47 L607.80,460.98 L608.13,461.40 L608.46,460.79 L608.79,461.05 L609.12,461.27 L609.45,461.61 L609.78,461.34 L610.11,461.77 L610.44,461.22 L610.77,460.87 L611.10,460.71 L611.43,461.10 L611.76,460.83 L612.09,460.85 L612.42,460.78 L612.75,460.61 L613.08,461.43 L613.41,461.21 L613.74,461.73 L614.07,461.74 L614.40,461.24 L614.73,461.69 L615.06,460.98 L615.39,461.56 L615.72,460.80 L616.05,460.43 L616.38,460.32 L616.70,459.74 L616.71,460.29 L617.04,460.08 L617.37,460.93 L617.70,460.69 L618.03,461.06 L618.36,460.91 L618.69,460.91 L619.02,461.13 L619.35,461.13 L619.68,461.16 L620.01,461.45 L620.34,461.14 L620.67,460.98 L621.00,461.40 L621.33,461.24 L621.66,461.79 L621.99,461.57 L622.32,461.51 L622.65,460.90 L622.98,460.66 L623.31,460.63 L623.64,461.13 L623.97,461.43 L624.30,461.86 L624.63,461.56 L624.96,461.69 L625.29,461.39 L625.62,460.97 L625.95,461.10 L626.28,461.45 L626.61,461.73 L626.94,462.02 L627.27,462.04 L627.60,461.78 L627.93,461.64 L628.26,461.52 L628.59,461.43 L628.92,461.59 L629.25,461.57 L629.58,461.84 L629.91,461.56 L630.24,461.45 L630.57,461.75 L630.90,461.74 L631.23,461.58 L631.56,461.54 L631.89,461.76 L632.22,461.67 L632.55,461.28 L632.88,461.13 L633.21,461.35 L633.54,460.90 L633.87,461.08 L634.20,461.61 L634.53,461.21 L634.86,461.22 L635.19,461.47 L635.52,461.83 L635.85,461.77 L636.18,461.67 L636.51,461.37 L636.84,461.27 L637.17,461.43 L637.50,461.21 L637.83,461.53 L638.16,460.91 L638.49,461.34 L638.82,461.54 L639.15,461.20 L639.48,460.73 L639.81,460.81 L640.14,461.10 L640.47,461.43 L640.80,461.67 L641.13,461.13 L641.46,460.72 L641.79,460.54 L642.12,461.31 L642.45,461.34 L642.78,460.82 L643.11,461.11 L643.44,461.50 L643.77,461.33 L644.10,460.85 L644.43,461.29 L644.76,461.14 L645.09,460.36 L645.42,460.31 L645.75,459.87 L646.00,459.78 L646.08,459.59 L646.41,459.64 L646.74,460.04 L647.07,460.48 L647.40,460.65 L647.73,461.13 L648.06,460.57 L648.39,460.41 L648.72,461.08 L649.05,461.08 L649.38,461.10 L649.71,461.11 L650.04,460.73 L650.37,460.69 L650.70,460.48 L651.03,460.31 L651.36,461.05 L651.69,461.17 L652.02,461.36 L652.35,460.56 L652.68,460.86 L653.01,460.59 L653.34,460.63 L653.67,460.79 L654.00,460.16 L654.33,460.08 L654.66,460.14 L654.99,460.48 L655.00,460.34 L655.32,460.10 L655.65,460.37 L655.98,460.54 L656.31,460.33 L656.64,460.47 L656.97,460.26 L657.30,459.87 L657.63,459.96 L657.96,459.77 L658.29,460.07 L658.62,460.21 L658.95,460.64 L659.28,460.71 L659.61,460.73 L659.94,460.96 L660.27,460.32 L660.60,460.09 L660.93,459.81 L661.26,459.51 L661.59,459.75 L661.92,459.84 L662.25,459.47 L662.58,460.04 L662.91,460.35 L663.24,459.56 L663.57,459.06 L663.90,458.82 L664.23,459.33 L664.56,459.66 L664.89,458.98 L665.22,458.53 L665.55,458.78 L665.88,458.64 L666.21,458.18 L666.54,457.87 L666.87,457.84 L667.20,457.73 L667.53,457.68 L667.86,457.82 L668.19,457.48 L668.52,457.17 L668.85,456.88 L669.18,457.27 L669.51,456.66 L669.84,456.51 L670.17,456.16 L670.50,455.66 L670.83,455.27 L671.16,454.44 L671.49,453.92 L671.82,453.82 L672.15,453.55 L672.48,452.50 L672.81,451.52 L673.14,451.29 L673.47,449.84 L673.80,449.22 L674.13,448.34 L674.46,446.45 L674.79,445.40 L675.12,443.35 L675.45,441.32 L675.78,439.64 L676.11,437.97 L676.44,436.41 L676.77,430.27 L677.10,403.95 L677.30,392.45 L677.43,396.46 L677.76,423.12 L678.09,430.42 L678.42,429.58 L678.75,429.39 L679.08,428.59 L679.41,426.85 L679.74,425.14 L680.07,423.17 L680.40,421.15 L680.73,418.69 L681.06,416.02 L681.39,413.83 L681.72,410.86 L682.05,386.58 L682.38,307.41 L682.50,295.90 L682.71,329.59 L683.04,400.92 L683.37,415.32 L683.70,418.20 L684.03,421.31 L684.36,424.44 L684.69,428.24 L685.02,431.70 L685.35,434.82 L685.68,437.27 L686.01,439.08 L686.34,440.89 L686.67,443.36 L687.00,445.41 L687.33,446.74 L687.66,448.37 L687.99,449.70 L688.32,450.65 L688.65,451.15 L688.98,451.85 L689.31,452.42 L689.64,453.04 L689.97,453.69 L690.30,453.81 L690.63,454.19 L690.96,454.62 L691.29,455.42 L691.62,456.28 L691.95,456.71 L692.28,456.50 L692.61,456.83 L692.94,457.28 L693.27,457.12 L693.60,457.09 L693.93,457.69 L694.26,457.71 L694.59,458.21 L694.92,458.06 L695.25,458.73 L695.58,458.59 L695.91,458.70 L696.24,458.93 L696.57,459.44 L696.90,459.77 L697.23,459.92 L697.56,459.87 L697.89,459.27 L698.22,459.13 L698.55,459.45 L698.88,460.09 L699.21,460.19 L699.54,459.73 L699.87,459.70 L700.20,460.31 L700.53,460.19 L700.86,460.52 L701.19,460.70 L701.52,460.73 L701.85,460.61 L702.18,460.61 L702.51,460.31 L702.84,459.95 L703.17,460.62 L703.50,460.05 L703.83,460.02 L704.16,460.36 L704.49,460.89 L704.82,460.41 L705.15,460.22 L705.48,460.74 L705.81,460.48 L706.14,460.43 L706.47,460.37 L706.80,460.03 L707.13,460.76 L707.46,460.87 L707.79,460.23 L708.12,459.97 L708.45,459.82 L708.78,459.87 L709.11,460.27 L709.44,459.59 L709.77,459.28 L710.00,459.26 L710.10,459.49 L710.43,460.13 L710.76,460.28 L711.09,460.85 L711.42,460.86 L711.75,460.78 L712.08,461.19 L712.41,461.12 L712.74,460.99 L713.07,460.97 L713.40,460.82 L713.73,460.83 L714.06,460.49 L714.39,460.46 L714.72,461.01 L715.05,460.67 L715.38,460.58 L715.71,460.49 L716.04,460.66 L716.37,460.43 L716.70,460.64 L717.03,461.00 L717.36,461.25 L717.69,461.57 L718.02,460.95 L718.35,461.20 L718.68,460.89 L719.01,460.88 L719.34,461.11 L719.67,461.49 L720.00,461.52 L720.33,461.85 L720.66,461.05 L720.99,460.95 L721.32,461.07 L721.65,460.68 L721.98,460.51 L722.31,460.74 L722.64,461.05 L722.97,460.78 L723.30,460.58 L723.63,460.73 L723.96,461.23 L724.29,461.30 L724.62,461.77 L724.95,461.61 L725.28,461.82 L725.61,461.60 L725.94,461.40 L726.27,461.24 L726.60,460.81 L726.93,460.58 L727.26,461.06 L727.59,461.50 L727.92,460.87 L728.25,460.72 L728.58,460.78 L728.91,460.79 L729.24,461.31 L729.57,460.98 L729.90,460.86 L730.23,460.97 L730.56,461.48 L730.89,461.07 L731.22,461.18 L731.55,460.64 L731.88,460.73 L732.21,461.25 L732.54,460.77 L732.87,460.64 L733.20,460.84 L733.53,460.81 L733.86,460.76 L734.19,460.72 L734.52,460.72 L734.85,460.30 L735.18,460.05 L735.51,459.83 L735.84,459.44 L736.17,458.36 L736.50,456.97 L736.83,455.49 L736.90,455.35 L737.16,456.24 L737.49,458.26 L737.82,459.16 L738.15,460.10 L738.48,459.99 L738.81,460.41 L739.14,459.95 L739.47,460.22 L739.80,460.44 L740.13,460.70 L740.46,461.06 L740.79,461.12 L741.12,460.92 L741.45,460.74 L741.78,460.16 L742.11,460.38 L742.44,460.48 L742.77,460.80 L743.10,460.28 L743.43,460.39 L743.76,459.86 L744.09,460.14 L744.42,460.00 L744.75,458.65 L745.08,457.06 L745.41,455.85 L745.50,455.45 L745.74,455.56 L746.07,457.72 L746.40,459.10 L746.73,459.63 L747.06,460.09 L747.39,460.70 L747.72,461.17 L748.05,461.06 L748.38,461.46 L748.71,460.90 L749.04,460.97 L749.37,460.55 L749.70,460.59 L750.03,461.28 L750.36,460.83 L750.69,461.21 L751.02,461.28 L751.35,461.80 L751.68,462.08 L752.01,461.36 L752.34,461.15 L752.67,461.79 L753.00,461.45 L753.33,461.14 L753.66,461.72 L753.99,461.72 L754.32,461.42 L754.65,461.52 L754.98,461.45 L755.31,461.45 L755.64,461.55 L755.97,461.22 L756.30,461.50 L756.63,461.99 L756.96,461.87 L757.29,462.01 L757.62,461.57 L757.95,461.23 L758.28,460.92 L758.61,461.73 L758.94,461.28 L759.27,461.32 L759.60,461.61 L759.93,461.84 L760.26,461.84 L760.59,461.66 L760.92,461.95 L761.25,461.72 L761.58,462.00 L761.91,461.36 L762.24,461.71 L762.57,461.26 L762.90,461.33 L763.23,461.42 L763.56,461.20 L763.89,461.36 L764.22,461.84 L764.55,461.27 L764.88,461.14 L765.21,461.86 L765.54,461.69 L765.87,461.54 L766.20,461.99 L766.53,462.08 L766.86,461.52 L767.19,461.67 L767.52,461.32 L767.85,461.74 L768.18,461.73 L768.51,461.96 L768.84,461.35 L769.17,461.90 L769.50,461.47 L769.83,461.88 L770.16,461.67 L770.49,462.01 L770.82,461.38 L771.15,461.02 L771.48,461.24 L771.81,461.81 L772.14,461.62 L772.47,461.56 L772.80,461.17 L773.13,461.34 L773.46,461.28 L773.79,461.67 L774.12,461.62 L774.45,461.19 L774.78,460.47 L775.11,459.95 L775.44,460.48 L775.60,460.45 L775.77,460.09 L776.10,460.68 L776.43,460.57 L776.76,460.89 L777.09,461.54 L777.42,461.11 L777.75,460.90 L778.08,460.75 L778.41,460.78 L778.74,461.03 L779.07,461.11 L779.40,461.11 L779.73,460.86 L780.06,461.21 L780.39,461.34 L780.72,461.71 L781.05,461.46 L781.38,461.62 L781.71,461.43 L782.04,461.78 L782.37,461.38 L782.70,461.50 L783.03,461.51 L783.36,461.54 L783.69,461.63 L784.02,461.67 L784.35,461.48 L784.68,461.89 L785.01,462.22 L785.34,462.00 L785.67,461.96 L786.00,462.04 L786.33,461.67 L786.66,461.76 L786.99,461.67 L787.32,461.65 L787.65,461.56 L787.98,461.65 L788.31,461.38 L788.64,461.26 L788.97,461.17 L789.30,461.51 L789.63,461.34 L789.96,461.79 L790.29,462.14 L790.62,462.17 L790.95,461.75 L791.28,462.16 L791.61,461.76 L791.94,461.58 L792.27,461.73 L792.60,461.86 L792.93,461.68 L793.26,461.97 L793.59,462.18 L793.92,461.72 L794.25,461.42 L794.58,461.45 L794.91,461.77 L795.24,461.89 L795.57,461.46 L795.90,461.46 L796.23,461.97 L796.56,462.29 L796.89,462.09 L797.22,462.17 L797.55,462.27 L797.88,461.70 L798.21,461.26 L798.54,461.59 L798.87,461.52 L799.20,461.82 L799.53,461.55 L799.86,461.55 L800.19,461.93 L800.52,461.40 L800.85,461.45 L801.18,461.23 L801.51,461.49 L801.84,461.82 L802.17,462.25 L802.50,462.22 L802.83,461.60 L803.16,461.58 L803.49,461.68 L803.82,461.82 L804.15,461.96 L804.48,462.30 L804.81,462.44 L805.14,461.77 L805.47,461.39 L805.80,462.02 L806.13,461.52 L806.46,462.07 L806.79,461.51 L807.12,461.69 L807.45,461.32 L807.78,461.14 L808.11,461.25 L808.44,461.77 L808.77,461.94 L809.10,461.63 L809.43,461.30 L809.76,461.36 L810.09,461.20 L810.42,461.18 L810.75,461.44 L811.08,461.56 L811.41,462.05 L811.74,461.46 L812.07,461.61 L812.40,461.72 L812.73,461.35 L813.06,461.39 L813.39,461.18 L813.72,461.83 L814.05,461.61 L814.38,461.22 L814.71,461.43 L815.04,461.60 L815.37,462.03 L815.70,462.09 L816.03,461.60 L816.36,462.06 L816.69,461.38 L817.02,461.74 L817.35,461.26 L817.68,461.80 L818.01,461.44 L818.34,461.87 L818.67,462.10 L819.00,462.17 L819.33,461.54 L819.66,461.52 L819.99,461.21 L820.32,461.68 L820.65,462.18 L820.98,461.96 L821.31,461.98 L821.64,462.01 L821.97,461.50 L822.30,461.47 L822.63,461.43 L822.96,461.82 L823.29,461.67 L823.62,461.55 L823.95,461.67 L824.28,461.39 L824.61,461.11 L824.94,461.14 L825.27,460.94 L825.60,461.49 L825.93,461.55 L826.26,461.74 L826.59,461.79 L826.92,461.30 L827.25,461.81 L827.58,462.07 L827.91,461.39 L828.24,461.48 L828.57,461.87 L828.90,461.70 L829.23,462.06 L829.56,462.07 L829.89,462.05 L830.22,462.28 L830.55,462.27 L830.88,462.07 L831.21,461.43 L831.54,461.52 L831.87,461.80 L832.20,461.77 L832.53,461.82 L832.86,461.61 L833.19,462.00 L833.52,461.59 L833.85,461.79 L834.18,461.68 L834.51,461.34 L834.84,461.04 L835.17,461.00 L835.50,461.14 L835.83,461.39 L836.16,461.07 L836.49,460.95 L836.82,461.62 L837.15,462.14 L837.48,461.85 L837.81,461.75 L838.14,461.83 L838.47,461.36 L838.80,461.57 L839.13,461.81 L839.46,462.20 L839.79,462.09 L840.12,461.94 L840.45,461.73 L840.78,462.13 L841.11,461.94 L841.44,461.80 L841.77,461.98 L842.10,461.78 L842.43,461.31 L842.76,461.60 L843.09,462.01 L843.42,461.73 L843.75,461.31 L844.08,461.11 L844.41,461.81 L844.74,461.37 L845.07,461.69 L845.40,461.28 L845.73,461.49 L846.06,461.99 L846.39,461.57 L846.72,461.43 L847.05,461.67 L847.38,461.75 L847.71,461.77 L848.04,461.62 L848.37,461.19 L848.70,461.53 L849.03,461.38 L849.36,461.65 L849.69,461.60 L850.02,461.41 L850.35,462.04 L850.68,461.68 L851.01,462.15 L851.34,461.89 L851.67,461.82 L852.00,461.52 L852.33,461.27 L852.66,461.68 L852.99,461.63 L853.32,461.74 L853.65,461.39 L853.98,461.54 L854.31,461.77 L854.64,461.98 L854.97,461.99 L855.30,461.75 L855.63,461.90 L855.96,461.88 L856.29,461.75 L856.62,461.84 L856.95,461.56 L857.28,461.18 L857.61,461.07 L857.94,461.85 L858.27,462.15 L858.60,462.24 L858.93,461.71 L859.26,462.03 L859.59,462.14 L859.92,461.95 L860.25,461.61 L860.58,461.25 L860.91,461.95 L861.24,462.31 L861.57,462.34 L861.90,461.95 L862.23,462.04 L862.56,462.26 L862.89,462.00 L863.22,461.46 L863.55,462.04 L863.88,461.89 L864.21,462.04 L864.54,461.98 L864.87,461.38 L865.20,461.48 L865.53,461.08 L865.86,461.14 L866.19,461.86 L866.52,461.95 L866.85,461.87 L867.18,461.37 L867.51,461.70 L867.84,461.78 L868.17,461.86 L868.50,461.94 L868.83,462.22 L869.16,461.89 L869.49,461.88 L869.82,461.79 L870.15,461.81 L870.48,461.91 L870.81,461.46 L871.14,461.11 L871.47,460.99 L871.80,460.86 L872.13,461.31 L872.46,461.28 L872.79,461.74 L873.12,461.35 L873.45,461.14 L873.78,461.76 L874.11,461.28 L874.44,461.31 L874.77,461.66 L875.10,461.71 L875.43,461.44 L875.76,461.17 L876.09,461.47 L876.42,461.30 L876.75,461.81 L877.08,461.48 L877.41,461.98 L877.74,461.32 L878.07,461.58 L878.40,461.38 L878.73,461.47 L879.06,461.47 L879.39,461.85 L879.72,461.41 L880.05,461.77 L880.38,461.22 L880.71,461.54 L881.04,461.89 L881.37,461.67 L881.70,461.98 L882.03,461.63 L882.36,461.46 L882.69,461.93 L883.02,462.24 L883.35,462.19 L883.68,461.61 L884.01,462.03 L884.34,461.66 L884.67,461.97 L885.00,461.58 L885.33,461.28 L885.66,461.16 L885.99,461.54 L886.32,462.01 L886.65,461.79 L886.98,461.26 L887.31,461.56 L887.64,461.93 L887.97,461.99 L888.30,461.24 L888.63,461.17 L888.96,461.59 L889.29,461.73 L889.62,462.08 L889.95,462.16 L890.28,462.09 L890.61,461.94 L890.94,461.55 L891.27,461.00 L891.60,461.45 L891.93,461.36 L892.26,461.71 L892.59,461.15 L892.92,461.58 L893.25,461.57 L893.58,461.80 L893.91,461.72 L894.24,461.40 L894.57,461.30 L894.90,460.82 L895.23,460.71 L895.56,460.96 L895.89,460.67 L896.22,460.69 L896.55,460.95 L896.88,461.01 L897.21,461.31 L897.54,460.96 L897.87,460.87 L898.20,460.66 L898.53,460.83 L898.86,460.74 L899.19,460.95 L899.52,460.19 L899.85,459.72 L900.18,459.57 L900.51,459.72 L900.84,459.70 L901.17,459.13 L901.50,458.78 L901.83,458.76 L902.16,458.24 L902.49,458.34 L902.82,457.43 L903.15,457.40 L903.48,456.40 L903.81,455.80 L904.14,453.97 L904.47,449.80 L904.80,442.50 L905.13,433.49 L905.46,429.43 L905.50,429.73 L905.79,432.53 L906.12,439.93 L906.45,448.00 L906.78,452.79 L907.11,455.65 L907.44,456.55 L907.77,457.63 L908.10,457.40 L908.43,458.02 L908.76,458.04 L909.09,458.84 L909.42,459.57 L909.75,459.57 L910.08,460.02 L910.41,459.72 L910.74,459.45 L911.07,460.15 L911.40,460.17 L911.73,459.91 L912.06,460.41 L912.39,460.94 L912.72,460.42 L913.05,460.72 L913.38,460.64 L913.71,460.32 L914.04,460.22 L914.37,460.16 L914.70,460.42 L915.03,460.56 L915.36,460.88 L915.69,461.14 L916.02,461.52 L916.35,461.73 L916.68,461.16 L917.01,461.34 L917.34,461.69 L917.67,461.25 L918.00,461.39 L918.33,461.86 L918.66,461.74 L918.99,461.76 L919.32,461.39 L919.65,461.89 L919.98,461.98 L920.31,461.53 L920.64,461.28 L920.97,460.87 L921.30,461.15 L921.63,461.68 L921.96,461.86 L922.29,461.32 L922.62,461.15 L922.95,460.98 L923.28,461.00 L923.61,460.96 L923.94,460.90 L924.27,461.27 L924.60,461.81 L924.93,462.03 L925.26,461.90 L925.59,461.54 L925.92,461.95 L926.25,461.46 L926.58,461.05 L926.91,461.02 L927.24,461.58 L927.57,461.78 L927.90,461.48 L928.23,461.25 L928.56,461.55 L928.89,461.58 L929.22,461.88 L929.55,461.68 L929.88,461.22 L930.21,460.97 L930.54,461.02 L930.87,461.33 L931.20,461.68 L931.53,461.70 L931.86,461.16 L932.19,461.84 L932.52,461.68 L932.85,461.68 L933.18,461.34 L933.51,461.22 L933.84,461.13 L934.17,461.48 L934.50,461.96 L934.83,461.55 L935.16,461.44 L935.49,461.32 L935.82,461.00 L936.15,460.82 L936.48,461.50 L936.81,462.04 L937.14,461.38 L937.47,461.08 L937.80,461.31 L938.13,461.27 L938.46,461.20 L938.79,461.79 L939.12,461.40 L939.45,461.21 L939.78,461.83 L940.11,461.85 L940.44,461.93 L940.77,461.95 L941.10,461.32 L941.43,461.95 L941.76,461.32 L942.09,461.21 L942.42,461.40 L942.75,461.85 L943.08,462.20 L943.41,461.43 L943.74,461.17 L944.07,460.92 L944.40,460.92 L944.73,461.69 L945.06,461.25 L945.39,461.48 L945.72,461.26 L946.05,460.96 L946.38,461.08 L946.71,461.12 L947.04,461.42 L947.37,461.90 L947.70,461.80 L948.03,461.75 L948.36,461.47 L948.69,461.24 L949.02,461.42 L949.35,461.42 L949.68,461.93 L950.01,461.49 L950.34,461.09 L950.67,460.91 L951.00,461.09 L951.33,461.08 L951.66,461.25 L951.99,461.82 L952.32,461.95 L952.65,461.88 L952.98,462.09 L953.31,462.24 L953.64,461.49 L953.97,461.75 L954.30,461.32 L954.63,461.38 L954.96,461.39 L955.29,461.27 L955.62,460.99 L955.95,460.99 L956.28,461.51 L956.61,462.01 L956.94,462.22 L957.27,461.43 L957.60,461.58 L957.93,461.27 L958.26,461.45 L958.59,461.55 L958.92,461.22 L959.25,460.98 L959.58,461.25 L959.91,460.95 L960.24,461.59 L960.57,461.95 L960.90,461.25 L961.23,461.68 L961.56,461.92 L961.89,461.24 L962.22,461.44 L962.55,461.41 L962.88,461.09 L963.21,461.56 L963.54,461.53 L963.87,461.74 L964.20,461.95 L964.53,462.07 L964.86,461.80 L965.19,461.85 L965.52,461.05 L965.85,460.88 L966.18,460.90 L966.51,460.90 L966.84,460.72 L967.17,461.00 L967.50,460.71 L967.83,460.31 L968.16,458.84 L968.49,458.00 L968.70,457.31 L968.82,457.84 L969.15,458.65 L969.48,459.64 L969.81,460.53 L970.14,460.39 L970.47,460.87 L970.80,461.05 L971.13,461.37 L971.46,460.84 L971.79,460.94 L972.12,461.19 L972.45,460.80 L972.78,461.33 L973.11,461.75 L973.44,461.70 L973.77,461.83 L974.10,462.08 L974.43,461.73 L974.76,461.62 L975.09,461.95 L975.42,461.91 L975.75,461.49 L976.08,461.61 L976.41,461.84 L976.74,462.04 L977.07,461.43 L977.40,461.17 L977.73,461.56 L978.06,461.79 L978.39,461.92 L978.72,461.75 L979.05,461.56 L979.38,462.04 L979.71,461.58 L980.04,461.38 L980.37,461.02 L980.70,460.90 L981.03,461.38 L981.36,461.66 L981.69,461.34 L982.02,461.71 L982.35,461.33 L982.68,461.34 L983.01,461.61 L983.34,461.88 L983.67,461.69 L984.00,461.96 L984.33,461.75 L984.66,461.84 L984.99,462.05 L985.32,461.89 L985.65,461.81 L985.98,462.13 L986.31,461.40 L986.64,461.02 L986.97,460.84 L987.30,461.03 L987.63,461.34 L987.96,461.58 L988.29,461.76 L988.62,461.19 L988.95,461.75 L989.28,461.40 L989.61,461.95 L989.94,461.60 L990.27,461.92 L990.60,461.94 L990.93,461.26 L991.26,461.41 L991.59,461.36 L991.92,461.92 L992.25,461.44 L992.58,461.35 L992.91,461.08 L993.24,460.77 L993.57,461.13 L993.90,461.39 L994.23,461.04 L994.56,461.53 L994.89,461.14 L995.22,461.64 L995.55,461.61 L995.88,461.86 L996.21,461.43 L996.54,461.58 L996.87,461.39 L997.20,461.37 L997.53,460.96 L997.86,460.61 L998.19,459.64 L998.52,458.55 L998.85,458.47 L998.90,457.89 L999.18,458.73 L999.51,459.88 L999.84,460.21 L1000.17,460.64 L1000.50,461.21 L1000.83,461.17 L1001.16,461.17 L1001.49,461.19 L1001.82,460.89 L1002.15,461.58 L1002.48,461.70 L1002.81,461.31 L1003.14,461.19 L1003.47,461.51 L1003.80,461.84 L1004.13,461.69 L1004.46,461.36 L1004.79,461.28 L1005.12,461.43 L1005.45,461.85 L1005.78,461.88 L1006.11,461.42 L1006.44,460.99 L1006.77,461.42 L1007.10,461.24 L1007.43,461.77 L1007.76,461.32 L1008.09,461.93 L1008.42,462.04 L1008.75,461.55 L1009.08,461.07 L1009.41,461.63 L1009.74,461.21 L1010.07,461.04 L1010.40,461.19 L1010.73,461.05 L1011.06,460.90 L1011.39,461.28 L1011.72,461.58 L1012.05,461.86 L1012.38,461.27 L1012.71,460.97 L1013.04,461.24 L1013.37,461.64 L1013.70,461.31 L1014.03,461.53 L1014.36,461.16 L1014.69,461.76 L1015.02,462.03 L1015.35,462.23 L1015.68,461.78 L1016.01,461.25 L1016.34,461.72 L1016.67,461.58 L1017.00,461.41 L1017.33,461.41 L1017.66,461.68 L1017.99,461.84 L1018.32,461.62 L1018.65,461.35 L1018.98,461.09 L1019.31,460.86 L1019.64,461.65 L1019.97,462.05 L1020.30,461.35 L1020.63,461.52 L1020.96,461.99 L1021.29,461.82 L1021.62,462.13 L1021.95,461.45 L1022.28,461.69 L1022.61,461.92 L1022.94,461.31 L1023.27,461.09 L1023.60,461.72 L1023.93,461.31 L1024.26,461.49 L1024.59,461.87 L1024.92,461.85 L1025.25,461.90 L1025.58,461.45 L1025.91,461.77 L1026.24,461.21 L1026.57,461.18 L1026.90,461.25 L1027.23,461.49 L1027.56,460.94 L1027.89,460.69 L1028.22,460.85 L1028.55,460.71 L1028.88,461.38 L1029.21,461.24 L1029.54,461.31 L1029.87,461.16 L1030.20,461.51 L1030.53,461.73 L1030.86,461.80 L1031.19,461.00 L1031.52,461.11 L1031.85,461.30 L1032.18,461.52 L1032.51,461.24 L1032.84,460.99 L1033.17,460.53 L1033.50,460.11 L1033.83,459.87 L1034.16,459.96 L1034.49,460.41 L1034.82,460.26 L1035.15,460.26 L1035.48,459.93 L1035.81,460.40 L1036.14,460.50 L1036.47,459.80 L1036.80,459.47 L1037.13,458.92 L1037.46,458.80 L1037.79,458.46 L1038.12,458.61 L1038.45,458.11 L1038.78,458.05 L1039.11,457.15 L1039.44,457.08 L1039.77,456.46 L1040.10,454.77 L1040.43,452.61 L1040.76,449.15 L1041.09,445.17 L1041.42,442.14 L1041.60,441.36 L1041.75,441.67 L1042.08,444.54 L1042.41,448.30 L1042.74,452.50 L1043.07,455.22 L1043.40,456.66 L1043.73,457.51 L1044.06,457.32 L1044.39,458.13 L1044.72,458.31 L1045.05,458.78 L1045.38,459.11 L1045.71,459.16 L1046.04,459.60 L1046.37,460.03 L1046.70,460.46 L1047.03,459.78 L1047.36,460.39 L1047.69,460.62 L1048.02,460.61 L1048.35,460.82 L1048.68,460.55 L1049.01,460.51 L1049.34,460.16 L1049.67,460.90 L1050.00,461.18 L1050.33,461.06 L1050.66,461.12 L1050.99,461.38 L1051.32,460.87 L1051.65,461.04 L1051.98,461.30 L1052.31,461.30 L1052.64,461.71 L1052.97,461.21 L1053.30,461.39 L1053.63,461.60 L1053.96,461.32 L1054.29,461.74 L1054.62,461.43 L1054.95,461.02 L1055.28,460.85 L1055.61,460.99 L1055.94,461.67 L1056.27,461.94 L1056.60,462.07 L1056.93,461.90 L1057.26,461.66 L1057.59,461.69 L1057.92,461.67 L1058.25,462.01 L1058.58,461.63 L1058.91,461.44 L1059.24,461.69 L1059.57,461.89 L1059.90,461.93 L1060.23,461.37 L1060.56,461.57 L1060.89,461.31 L1061.22,461.19 L1061.55,461.11 L1061.88,460.83 L1062.21,460.80 L1062.54,461.34 L1062.87,461.74 L1063.20,461.25 L1063.53,461.85 L1063.86,461.67 L1064.19,461.90 L1064.52,461.27 L1064.85,461.00 L1065.18,461.60 L1065.51,461.18 L1065.84,460.92 L1066.17,461.41 L1066.50,461.04 L1066.83,461.23 L1067.16,461.72 L1067.49,461.27 L1067.82,461.78 L1068.15,462.10 L1068.48,462.32 L1068.81,462.08 L1069.14,462.16 L1069.47,461.54 L1069.80,461.65 L1070.13,462.01 L1070.46,462.17 L1070.79,461.57 L1071.12,461.92 L1071.45,461.67 L1071.78,461.66 L1072.11,461.94 L1072.44,461.95 L1072.77,461.61 L1073.10,461.98 L1073.43,462.23 L1073.76,462.24 L1074.09,461.48 L1074.42,461.07 L1074.75,461.43 L1075.08,461.13 L1075.41,460.97 L1075.74,461.68 L1076.07,461.20 L1076.40,461.20 L1076.73,461.23 L1077.06,461.87 L1077.39,462.20 L1077.72,462.21 L1078.05,461.88 L1078.38,461.38 L1078.71,461.98 L1079.04,461.54 L1079.37,461.73 L1079.70,461.97 L1080.03,461.82 L1080.36,462.12 L1080.69,462.33 L1081.02,461.86 L1081.35,461.96 L1081.68,461.40 L1082.01,461.46 L1082.34,461.73 L1082.67,461.47 L1083.00,461.44 L1083.33,461.81 L1083.66,461.44 L1083.99,461.97 L1084.32,461.46 L1084.65,461.28 L1084.98,461.59 L1085.31,461.35 L1085.64,461.85 L1085.97,461.61 L1086.30,461.27 L1086.63,461.63 L1086.96,461.58 L1087.29,461.74 L1087.62,461.32 L1087.95,461.04 L1088.28,461.15 L1088.61,461.42 L1088.94,461.24 L1089.27,461.16 L1089.60,461.75 L1089.93,461.45 L1090.26,461.41 L1090.59,461.91 L1090.92,462.29 L1091.25,462.25 L1091.58,461.60 L1091.91,461.90 L1092.24,461.38 L1092.57,461.82 L1092.90,461.52 L1093.23,461.32 L1093.56,461.42 L1093.89,461.19 L1094.22,461.60 L1094.55,461.96 L1094.88,461.98 L1095.21,462.13 L1095.54,461.56 L1095.87,461.39 L1096.20,461.87 L1096.53,461.60 L1096.86,461.88 L1097.19,461.85 L1097.52,461.41 L1097.85,461.27 L1098.18,461.89 L1098.51,462.19 L1098.84,462.03 L1099.17,461.37 L1099.50,461.04 L1099.83,461.80 L1100.16,462.04 L1100.49,462.06 L1100.82,461.63 L1101.15,462.06 L1101.48,461.44 L1101.81,461.77 L1102.14,461.92 L1102.47,461.68 L1102.80,462.00 L1103.13,461.54 L1103.46,462.08 L1103.79,462.32 L1104.12,461.85 L1104.45,461.61 L1104.78,461.95 L1105.11,461.67 L1105.44,461.77 L1105.77,461.93 L1106.10,462.26 L1106.43,462.23 L1106.76,461.74 L1107.09,461.57 L1107.42,461.21 L1107.75,461.76 L1108.08,462.07 L1108.41,461.61 L1108.74,461.63 L1109.07,461.51 L1109.40,461.39 L1109.73,461.07 L1110.06,461.48 L1110.39,462.04 L1110.72,461.54 L1111.05,461.87 L1111.38,462.06 L1111.71,461.92 L1112.04,462.16 L1112.37,461.85 L1112.70,461.90 L1113.03,461.37 L1113.36,461.19 L1113.69,461.53 L1114.02,461.96 L1114.35,461.80 L1114.68,462.18 L1115.01,461.94 L1115.34,461.73 L1115.67,462.00 L1116.00,462.27 L1116.33,462.39 L1116.66,462.20 L1116.99,461.67 L1117.32,461.49 L1117.65,461.65 L1117.98,461.21 L1118.31,461.26 L1118.64,461.77 L1118.97,461.48 L1119.30,461.74 L1119.63,461.52 L1119.96,461.25 L1120.29,461.31 L1120.62,461.32 L1120.95,461.29 L1121.28,461.31 L1121.61,461.92 L1121.94,461.89 L1122.27,461.79 L1122.60,461.51 L1122.93,461.39 L1123.26,461.85 L1123.59,461.61 L1123.92,461.30 L1124.25,461.39 L1124.58,461.72 L1124.91,462.15 L1125.24,462.26 L1125.57,461.97 L1125.90,461.51 L1126.23,461.99 L1126.56,461.38 L1126.89,461.62 L1127.22,462.13 L1127.55,461.73 L1127.88,461.74 L1128.21,461.53 L1128.54,461.53 L1128.87,461.22 L1129.20,461.58 L1129.53,461.84 L1129.86,461.40 L1130.19,461.06 L1130.52,461.12 L1130.85,461.27 L1131.18,461.42 L1131.51,461.77 L1131.84,461.76 L1132.17,461.26 L1132.50,461.00 L1132.83,461.29 L1133.16,461.17 L1133.49,461.74 L1133.82,461.97 L1134.15,462.14 L1134.48,462.04 L1134.81,461.58 L1135.14,461.93 L1135.47,461.60 L1135.80,461.32 L1136.13,461.05 L1136.46,461.26 L1136.79,461.94 L1137.12,462.00 L1137.45,462.01 L1137.78,461.74 L1138.11,461.65 L1138.44,462.09 L1138.77,462.39 L1139.10,461.88 L1139.43,461.88 L1139.76,461.78 L1140.09,461.44 L1140.42,461.58 L1140.75,461.23 L1141.08,461.76 L1141.41,461.64 L1141.74,461.82 L1142.07,462.04 L1142.40,461.61 L1142.73,462.10 L1143.06,462.39 L1143.39,462.03 L1143.72,461.44 L1144.05,461.71 L1144.38,461.88 L1144.71,461.51 L1145.04,461.88 L1145.37,461.57 L1145.70,461.40 L1146.03,461.13 L1146.36,461.54 L1146.69,461.87 L1147.02,461.98 L1147.35,461.65 L1147.68,461.47 L1148.01,461.14 L1148.34,461.10 L1148.67,461.15 L1149.00,461.13 L1149.33,460.96 L1149.66,461.23 L1149.99,460.97 L1150.32,461.34 L1150.65,461.01 L1150.98,461.23 L1151.31,461.06 L1151.64,461.03 L1151.97,461.56 L1152.30,461.19 L1152.63,461.72 L1152.96,461.88 L1153.29,461.93 L1153.62,461.84 L1153.95,461.98 L1154.28,461.55 L1154.61,461.53 L1154.94,461.12 L1155.27,460.91 L1155.60,461.21 L1155.93,461.56 L1156.26,462.09 L1156.59,462.23 L1156.92,461.51 L1157.25,462.01 L1157.58,461.74 L1157.91,461.63 L1158.24,461.31 L1158.57,461.09 L1158.90,461.34 L1159.23,461.55 L1159.56,461.97 L1159.89,461.99 L1160.22,461.53 L1160.55,461.70 L1160.88,462.01 L1161.21,461.59 L1161.54,461.43 L1161.87,461.31 L1162.20,461.97 L1162.53,461.47 L1162.86,461.71 L1163.19,461.55 L1163.52,461.84 L1163.85,461.76 L1164.18,461.44 L1164.51,461.92 L1164.84,461.83 L1165.17,461.28 L1165.50,461.20 L1165.83,461.10 L1166.16,461.21 L1166.49,461.11 L1166.82,461.54 L1167.15,461.71 L1167.48,461.58 L1167.81,461.39 L1168.14,461.66 L1168.47,461.54 L1168.80,461.88 L1169.13,462.14 L1169.46,462.12 L1169.79,462.34 L1170.12,461.81 L1170.45,462.09 L1170.78,461.79 L1171.11,462.09 L1171.44,461.99 L1171.77,461.62 L1172.10,461.42 L1172.43,461.90 L1172.76,461.77 L1173.09,461.37 L1173.42,461.60 L1173.75,461.27 L1174.08,461.03 L1174.41,461.11 L1174.74,461.66 L1175.07,461.37 L1175.40,461.88 L1175.73,461.31 L1176.06,461.32 L1176.39,461.00 L1176.72,461.51 L1177.05,461.70 L1177.38,461.96 L1177.71,462.13 L1178.04,462.30 L1178.37,461.90 L1178.70,461.64 L1179.03,461.76 L1179.36,461.69 L1179.69,461.36 L1180.02,461.44 L1180.35,461.43 L1180.68,461.93 L1181.01,461.37 L1181.34,461.73 L1181.67,461.89 L1182.00,462.18 L1182.33,461.98 L1182.66,462.01 L1182.99,461.45 L1183.32,461.92 L1183.65,461.33 L1183.98,461.59 L1184.31,461.22 L1184.64,461.16 L1184.97,461.58 L1185.30,461.49 L1185.63,461.74 L1185.96,461.40 L1186.29,461.11 L1186.62,461.21 L1186.95,461.42 L1187.28,461.82 L1187.61,462.08 L1187.94,461.72 L1188.27,462.11 L1188.60,461.92 L1188.93,461.44 L1189.26,461.52 L1189.59,461.74 L1189.92,461.93 L1190.25,461.38 L1190.58,461.95 L1190.91,461.82 L1191.24,461.20 L1191.57,461.17 L1191.90,461.70 L1192.23,461.18 L1192.56,461.18 L1192.89,461.54 L1193.22,461.17 L1193.55,461.57 L1193.88,461.64 L1194.21,461.35 L1194.54,461.74 L1194.87,461.20 L1195.20,461.04 L1195.53,461.53 L1195.86,461.61 L1196.19,461.26 L1196.52,461.25 L1196.85,461.70 L1197.18,461.24 L1197.51,460.90 L1197.84,461.15 L1198.17,460.98 L1198.50,461.36 L1198.83,461.11 L1199.16,460.92 L1199.49,461.23 L1199.82,461.73 L1200.15,461.55 L1200.48,461.87 L1200.81,462.04 L1201.14,461.87 L1201.47,461.59 L1201.80,461.23 L1202.13,460.73 L1202.46,460.91 L1202.79,460.62 L1203.12,460.84 L1203.45,460.78 L1203.78,460.84 L1204.11,460.85 L1204.44,460.79 L1204.77,461.08 L1205.10,460.79 L1205.43,460.15 L1205.76,460.51 L1206.09,460.47 L1206.42,459.98 L1206.75,459.70 L1207.08,459.55 L1207.41,459.16 L1207.74,459.09 L1208.07,459.19 L1208.40,458.07 L1208.73,457.98 L1209.06,457.16 L1209.39,454.93 L1209.72,450.70 L1210.05,445.84 L1210.38,441.77 L1210.60,440.71 L1210.71,440.62 L1211.04,443.51 L1211.37,448.54 L1211.70,452.78 L1212.03,455.44 L1212.36,457.22 L1212.69,457.79 L1213.02,458.70 L1213.35,458.54 L1213.68,458.72 L1214.01,459.13 L1214.34,459.20 L1214.67,459.95 L1215.00,460.07 L1215.33,459.76 L1215.66,459.81 L1215.99,460.38 L1216.32,460.33 L1216.65,460.33 L1216.98,460.28 L1217.31,460.09 L1217.64,460.77 L1217.97,460.71 L1218.30,460.61 L1218.63,460.45 L1218.96,460.79 L1219.29,461.21 L1219.62,461.64 L1219.95,461.86 L1220.28,461.07 L1220.61,461.16 L1220.94,461.21 L1221.27,461.31 L1221.60,461.24 L1221.93,461.72 L1222.26,461.63 L1222.59,461.44 L1222.92,461.88 L1223.25,461.66 L1223.58,461.04 L1223.91,461.36 L1224.24,461.86 L1224.57,461.81 L1224.90,461.33 L1225.23,461.73 L1225.56,461.14 L1225.89,461.65 L1226.22,461.20 L1226.55,461.69 L1226.88,461.27 L1227.21,461.03 L1227.54,461.02 L1227.87,461.27 L1228.20,461.58 L1228.53,461.56 L1228.86,461.11 L1229.19,461.77 L1229.52,461.99 L1229.85,461.63 L1230.18,461.12 L1230.51,461.24 L1230.84,461.85 L1231.17,462.15 L1231.50,461.52 L1231.83,461.23 L1232.16,461.87 L1232.49,461.55 L1232.82,461.75 L1233.15,462.08 L1233.48,462.15 L1233.81,462.16 L1234.14,461.97 L1234.47,462.08 L1234.80,461.56 L1235.13,461.96 L1235.46,461.48 L1235.79,461.15 L1236.12,461.63 L1236.45,462.09 L1236.78,462.09 L1237.11,461.95 L1237.44,461.35 L1237.77,461.49 L1238.10,461.21 L1238.43,461.43 L1238.76,461.41 L1239.09,461.13 L1239.42,461.39 L1239.75,461.77 L1240.08,461.89 L1240.41,461.37 L1240.74,461.90 L1241.07,462.17 L1241.40,461.73 L1241.73,462.12 L1242.06,461.54 L1242.39,461.45 L1242.72,461.85 L1243.05,461.29 L1243.38,461.32 L1243.71,460.95 L1244.04,460.97 L1244.37,461.12 L1244.70,461.67 L1245.03,461.74 L1245.36,461.24 L1245.69,461.69 L1246.02,461.88 L1246.35,461.52 L1246.68,461.21 L1247.01,461.61 L1247.34,462.01 L1247.67,461.49 L1248.00,461.34 L1248.33,461.27 L1248.66,461.87 L1248.99,461.25 L1249.32,460.90 L1249.65,460.89 L1249.98,461.17 L1250.31,461.80 L1250.64,461.19 L1250.97,461.65 L1251.30,461.60 L1251.63,461.94 L1251.96,462.18 L1252.29,462.05 L1252.62,461.51 L1252.95,461.90 L1253.28,461.20 L1253.61,461.82 L1253.94,461.55 L1254.27,461.27 L1254.60,461.74 L1254.93,461.58 L1255.26,461.39 L1255.59,461.21 L1255.92,461.23 L1256.25,461.06 L1256.58,461.24 L1256.91,461.25 L1257.24,461.07 L1257.57,460.72 L1257.90,460.68 L1258.23,461.29 L1258.56,461.51 L1258.89,461.83 L1259.22,461.21 L1259.55,461.66 L1259.88,461.84 L1260.21,461.39 L1260.54,461.75 L1260.87,461.95 L1261.20,461.90 L1261.53,461.58 L1261.86,461.72 L1262.19,461.05 L1262.52,460.68 L1262.85,460.49 L1263.18,460.93 L1263.51,461.40 L1263.84,460.84 L1264.17,460.48 L1264.50,461.03 L1264.83,461.27 L1265.16,460.60 L1265.49,460.15 L1265.82,460.13 L1266.15,460.07 L1266.48,459.74 L1266.81,459.66 L1267.14,460.26 L1267.47,459.73 L1267.80,459.79 L1268.13,460.02 L1268.46,460.05 L1268.79,459.58 L1269.12,459.07 L1269.45,459.01 L1269.78,458.80 L1270.11,458.66 L1270.44,458.29 L1270.77,458.12 L1271.10,458.30 L1271.43,457.07 L1271.76,456.13 L1272.09,455.44 L1272.42,453.58 L1272.75,451.46 L1273.08,448.14 L1273.41,446.09 L1273.74,443.39 L1274.07,443.00 L1274.10,442.67 L1274.40,443.57 L1274.73,445.66 L1275.06,448.31 L1275.39,451.33 L1275.72,453.17 L1276.05,455.40 L1276.38,456.66 L1276.71,457.08 L1277.04,457.46 L1277.37,457.65 L1277.70,458.66 L1278.03,458.70 L1278.36,458.84 L1278.69,458.78 L1279.02,459.51 L1279.35,459.71 L1279.68,459.53 L1280.01,460.09 L1280.34,460.18 L1280.67,460.53 L1281.00,460.66 L1281.33,460.50 L1281.66,460.38 L1281.99,460.90 L1282.32,460.48 L1282.65,460.22 L1282.98,460.87 L1283.31,461.05 L1283.64,461.41 L1283.97,461.29 L1284.30,461.64 L1284.63,461.26 L1284.96,460.73 L1285.29,461.08 L1285.62,460.85 L1285.95,460.89 L1286.28,460.90 L1286.61,460.88 L1286.94,461.07 L1287.27,461.26 L1287.60,460.83 L1287.93,461.45 L1288.26,461.22 L1288.59,461.51 L1288.92,461.27 L1289.25,460.93 L1289.58,460.97 L1289.91,460.90 L1290.24,460.95 L1290.57,461.34 L1290.90,461.55 L1291.23,461.18 L1291.56,461.51 L1291.89,461.59 L1292.22,461.18 L1292.55,461.40 L1292.88,460.99 L1293.21,461.39 L1293.54,461.20 L1293.87,461.43 L1294.20,461.90 L1294.53,461.91 L1294.86,461.76 L1295.19,461.71 L1295.52,461.36 L1295.85,461.41 L1296.18,461.02 L1296.51,461.27 L1296.84,461.87 L1297.17,461.71 L1297.50,461.87 L1297.83,462.11 L1298.16,461.90 L1298.49,461.36 L1298.82,461.95 L1299.15,461.76 L1299.48,461.59 L1299.81,461.14 L1300.14,461.58 L1300.47,461.93 L1300.80,461.78 L1301.13,461.37 L1301.46,461.68 L1301.79,461.32 L1302.12,461.30 L1302.45,461.19 L1302.78,461.42 L1303.11,461.66 L1303.44,461.69 L1303.77,461.31 L1304.10,461.19 L1304.43,461.12 L1304.76,461.37 L1305.09,461.95 L1305.42,461.94 L1305.75,462.14 L1306.08,461.47 L1306.41,461.07 L1306.74,461.39 L1307.07,461.23 L1307.40,461.26 L1307.73,461.67 L1308.06,461.24 L1308.39,461.81 L1308.72,461.63 L1309.05,461.72 L1309.38,461.22 L1309.71,460.99 L1310.04,461.48 L1310.37,461.10 L1310.70,461.50 L1311.03,461.38 L1311.36,461.31 L1311.69,461.93 L1312.02,462.15 L1312.35,461.70 L1312.68,461.56 L1313.01,461.39 L1313.34,461.14 L1313.67,461.84 L1314.00,461.90 L1314.33,461.98 L1314.66,461.74 L1314.99,461.40 L1315.32,461.66 L1315.65,461.40 L1315.98,461.94 L1316.31,462.24 L1316.64,462.41 L1316.97,461.75 L1317.30,461.50 L1317.63,461.94 L1317.96,461.76 L1318.29,461.77 L1318.62,461.92 L1318.95,461.50 L1319.28,461.54 L1319.61,461.18 L1319.94,460.95 L1320.27,461.77 L1320.60,461.94 L1320.93,461.92 L1321.26,461.50 L1321.59,461.37 L1321.92,461.94 L1322.25,462.29 L1322.58,462.12 L1322.91,462.32 L1323.24,461.88 L1323.57,462.12 L1323.90,462.12 L1324.23,461.61 L1324.56,462.06 L1324.89,461.38 L1325.22,461.29 L1325.55,461.47 L1325.88,462.01 L1326.21,461.69 L1326.54,461.29 L1326.87,461.70 L1327.20,461.85 L1327.53,461.38 L1327.86,461.71 L1328.19,461.58 L1328.52,461.55 L1328.85,462.05 L1329.18,462.19 L1329.51,462.41 L1329.84,462.24 L1330.17,461.84 L1330.50,461.63 L1330.83,461.29 L1331.16,461.05 L1331.49,461.37 L1331.82,461.18 L1332.15,461.51 L1332.48,461.30 L1332.81,461.49 L1333.14,461.98 L1333.47,461.79 L1333.80,462.16 L1334.13,461.74 L1334.46,461.36 L1334.79,461.74"/>
<path fill="#0000ff" stroke="none" d="M674.6,390 L680.5,389 L684.6,395 L684.8,428 L680,433 L675.2,433 Z"/>
</g>
<g fill="#000"><path d="M241.3,372.6L253.5,384.8L241.3,397.0L229.1,384.8Z"/><path d="M593.4,375.7L605.6,387.9L593.4,400.1L581.2,387.9Z"/><path d="M603.4,411.6L615.6,423.8L603.4,436.0L591.2,423.8Z"/><path d="M677.5,353.4L689.7,365.6L677.5,377.8L665.3,365.6Z"/><path d="M683.0,257.0L695.2,269.2L683.0,281.4L670.8,269.2Z"/><path d="M744.7,424.1L756.9,436.3L744.7,448.5L732.5,436.3Z"/><path d="M906.6,391.2L918.8,403.4L906.6,415.6L894.4,403.4Z"/><path d="M970.4,428.5L982.6,440.7L970.4,452.9L958.2,440.7Z"/><path d="M1000.0,426.8L1012.2,439.0L1000.0,451.2L987.8,439.0Z"/><path d="M1043.5,404.2L1055.7,416.4L1043.5,428.6L1031.3,416.4Z"/><path d="M1211.0,403.3L1223.2,415.5L1211.0,427.7L1198.8,415.5Z"/><path d="M1274.5,407.0L1286.7,419.2L1274.5,431.4L1262.3,419.2Z"/><polygon points="151.1,642.2 154.0,649.7 162.0,650.1 155.8,655.2 157.9,663.0 151.1,658.6 144.3,663.0 146.4,655.2 140.2,650.1 148.2,649.7"/><path d="M241.0,536.6L253.2,548.8L241.0,561.0L228.8,548.8Z"/><path d="M598.0,613.8L610.2,626.0L598.0,638.2L585.8,626.0Z"/><path d="M606.0,640.3L618.2,652.5L606.0,664.7L593.8,652.5Z"/><path d="M749.0,642.0L761.2,654.2L749.0,666.4L736.8,654.2Z"/><path d="M907.7,601.2L919.9,613.4L907.7,625.6L895.5,613.4Z"/><path d="M972.4,635.7L984.6,647.9L972.4,660.1L960.2,647.9Z"/><path d="M1000.5,645.9L1012.7,658.1L1000.5,670.3L988.3,658.1Z"/><path d="M1044.7,610.9L1056.9,623.1L1044.7,635.3L1032.5,623.1Z"/><path d="M1212.1,616.0L1224.3,628.2L1212.1,640.4L1199.9,628.2Z"/><path d="M1276.4,621.5L1288.6,633.7L1276.4,645.9L1264.2,633.7Z"/><rect x="269.1" y="655.1" width="18.5" height="18.5"/><rect x="648.1" y="614.1" width="18.5" height="18.5"/><rect x="698.8" y="622.1" width="18.5" height="18.5"/><rect x="1016.7" y="645.8" width="18.5" height="18.5"/><rect x="1108.5" y="655.9" width="18.5" height="18.5"/><rect x="1138.2" y="655.9" width="18.5" height="18.5"/><polygon points="649.8,642.8 652.7,650.3 660.7,650.7 654.5,655.8 656.6,663.6 649.8,659.2 643.0,663.6 645.1,655.8 638.9,650.7 646.9,650.3"/><path d="M629.1,632.4L638.2,650.6L620.1,650.6Z" fill="none" stroke="#999999" stroke-width="2.4" stroke-linejoin="round"/><path d="M728.0,627.4L737.8,645.5L718.2,645.5Z" fill="none" stroke="#999999" stroke-width="2.4" stroke-linejoin="round"/><polygon points="153.6,896.6 156.5,904.1 164.5,904.5 158.3,909.6 160.4,917.4 153.6,913.0 146.8,917.4 148.9,909.6 142.7,904.5 150.7,904.1"/><path d="M243.0,760.4L255.2,772.6L243.0,784.8L230.8,772.6Z"/><path d="M597.4,858.5L609.6,870.7L597.4,882.9L585.2,870.7Z"/><path d="M608.1,886.1L620.3,898.3L608.1,910.5L595.9,898.3Z"/><path d="M750.8,898.8L763.0,911.0L750.8,923.2L738.6,911.0Z"/><path d="M910.3,849.7L922.5,861.9L910.3,874.1L898.1,861.9Z"/><path d="M969.8,896.9L982.0,909.1L969.8,921.3L957.6,909.1Z"/><path d="M1002.6,899.8L1014.8,912.0L1002.6,924.2L990.4,912.0Z"/><path d="M1042.9,872.4L1055.1,884.6L1042.9,896.8L1030.7,884.6Z"/><path d="M1212.1,864.6L1224.3,876.8L1212.1,889.0L1199.9,876.8Z"/><path d="M1278.5,874.3L1290.7,886.5L1278.5,898.7L1266.3,886.5Z"/><rect x="265.9" y="908.4" width="18.5" height="18.5"/><rect x="650.8" y="883.8" width="18.5" height="18.5"/><rect x="698.8" y="903.9" width="18.5" height="18.5"/><rect x="1108.0" y="908.0" width="18.5" height="18.5"/><rect x="1135.5" y="905.2" width="18.5" height="18.5"/><polygon points="649.7,906.6 652.6,914.1 660.6,914.5 654.4,919.6 656.5,927.4 649.7,923.0 642.9,927.4 645.0,919.6 638.8,914.5 646.8,914.1"/><path d="M625.9,904.2L635.4,920.5L616.3,920.5Z" fill="none" stroke="#999999" stroke-width="2.4" stroke-linejoin="round"/><path d="M727.5,880.5L737.4,897.9L717.5,897.9Z" fill="none" stroke="#999999" stroke-width="2.4" stroke-linejoin="round"/></g>
<rect x="107.7" y="30.1" width="1229.4" height="1004.9" fill="none" stroke="#000" stroke-width="7.4" stroke-linejoin="round"/>
<g stroke="#000" stroke-width="7.0" stroke-linecap="round"><line x1="190.20" y1="1016.5" x2="190.20" y2="1034" /><line x1="272.12" y1="1026.8" x2="272.12" y2="1034" /><line x1="354.04" y1="1016.5" x2="354.04" y2="1034" /><line x1="435.96" y1="1026.8" x2="435.96" y2="1034" /><line x1="517.88" y1="1016.5" x2="517.88" y2="1034" /><line x1="599.80" y1="1026.8" x2="599.80" y2="1034" /><line x1="681.72" y1="1016.5" x2="681.72" y2="1034" /><line x1="763.64" y1="1026.8" x2="763.64" y2="1034" /><line x1="845.56" y1="1016.5" x2="845.56" y2="1034" /><line x1="927.48" y1="1026.8" x2="927.48" y2="1034" /><line x1="1009.40" y1="1016.5" x2="1009.40" y2="1034" /><line x1="1091.32" y1="1026.8" x2="1091.32" y2="1034" /><line x1="1173.24" y1="1016.5" x2="1173.24" y2="1034" /><line x1="1255.16" y1="1026.8" x2="1255.16" y2="1034" /><line x1="1337.08" y1="1016.5" x2="1337.08" y2="1034" /></g>
<g style="font-family:'Liberation Serif',serif;font-size:54px" text-anchor="middle" fill="#111"><text x="190.2" y="1098">10</text><text x="354.0" y="1098">20</text><text x="517.9" y="1098">30</text><text x="681.7" y="1098">40</text><text x="845.6" y="1098">50</text><text x="1009.4" y="1098">60</text><text x="1173.2" y="1098">70</text><text x="1337.1" y="1098">80</text></g>
<g style="font-family:'Liberation Serif',serif" fill="#000"><text x="544.88" y="1154.40" font-size="57" font-weight="bold">2</text><text x="575.20" y="1154.40" font-size="57" font-weight="bold">θ</text><text transform="translate(604.64,1154.40) scale(1.099,1)" font-size="57" font-weight="normal">(</text><text transform="translate(623.87,1154.40) scale(0.912,1)" font-size="57" font-weight="bold">d</text><text transform="translate(655.72,1154.40) scale(0.969,1)" font-size="57" font-weight="bold">e</text><text transform="translate(681.38,1154.40) scale(0.957,1)" font-size="57" font-weight="bold">g</text><text transform="translate(712.94,1154.40) scale(0.946,1)" font-size="57" font-weight="bold">r</text><text transform="translate(737.87,1154.40) scale(0.946,1)" font-size="57" font-weight="bold">e</text><text x="761.67" y="1154.40" font-size="57" font-weight="bold">e</text><text transform="translate(784.82,1154.40) scale(1.140,1)" font-size="57" font-weight="normal">)</text></g>
<text transform="translate(73,548) rotate(-90)" text-anchor="middle" style="font-family:'Liberation Serif',serif;font-size:60px;font-weight:bold">Intensity<tspan font-weight="normal">(</tspan>a.u.<tspan font-weight="normal">)</tspan></text>
<g style="font-family:'Liberation Serif',serif;font-size:53px;font-weight:bold">
<text x="120" y="511.7"><tspan font-weight="normal">(</tspan>c<tspan font-weight="normal">)</tspan> 1TiH<tspan dy="20.3" style="font-size:46px">2</tspan><tspan dy="-20.3">/1.15Al/1TiN</tspan></text>
<text x="120" y="996.8"><tspan font-weight="normal">(</tspan>a<tspan font-weight="normal">)</tspan> 2Ti/1AlN</text>
</g>
<g style="font-family:'Liberation Serif',serif" fill="#000"><text transform="translate(115.92,739.20) scale(1.044,1)" font-size="41" font-weight="normal">(</text><text x="130.33" y="739.20" font-size="53" font-weight="bold">b</text><text transform="translate(159.13,739.20) scale(1.044,1)" font-size="41" font-weight="normal">)</text><text x="184.78" y="739.20" font-size="53" font-weight="bold">2</text><text x="213.00" y="739.20" font-size="53" font-weight="bold">T</text><text transform="translate(250.56,739.20) scale(0.800,1)" font-size="53" font-weight="bold">i</text><text transform="translate(266.54,739.20) scale(0.842,1)" font-size="53" font-weight="bold">H</text><text transform="translate(303.87,755.80) scale(0.948,1)" font-size="46" font-weight="bold">2</text><text transform="translate(328.18,739.20) scale(0.905,1)" font-size="53" font-weight="bold">/</text><text transform="translate(342.06,739.20) scale(0.800,1)" font-size="53" font-weight="bold">1</text><text transform="translate(370.54,739.20) scale(0.867,1)" font-size="53" font-weight="bold">A</text><text transform="translate(408.79,739.20) scale(0.800,1)" font-size="53" font-weight="bold">l</text><text transform="translate(423.19,739.20) scale(0.902,1)" font-size="53" font-weight="bold">N</text></g>
<g fill="#000">
<path d="M1070.0,67.3L1087.1,84.4L1070.0,101.5L1052.9,84.4Z"/>
<rect x="1058.0" y="161.0" width="26.0" height="26.0"/>
<polygon points="1069.0,232.2 1074.1,245.7 1088.5,246.4 1077.2,255.4 1081.0,269.3 1069.0,261.3 1057.0,269.3 1060.8,255.4 1049.5,246.4 1063.9,245.7"/>
</g>
<path d="M1071,313.6L1087.6,343.7L1054.6,343.7Z" fill="none" stroke="#6e6e6e" stroke-width="2.8" stroke-linejoin="round"/>
<g style="font-family:'Liberation Serif',serif" fill="#000"><text transform="translate(1107.86,100.70) scale(0.952,1)" font-size="55" font-weight="bold">T</text><text transform="translate(1144.18,100.70) scale(0.800,1)" font-size="55" font-weight="bold">i</text><text transform="translate(1156.86,117.50) scale(0.933,1)" font-size="47" font-weight="bold">2</text><text transform="translate(1180.63,100.70) scale(0.854,1)" font-size="55" font-weight="bold">A</text><text transform="translate(1219.70,100.70) scale(0.815,1)" font-size="55" font-weight="bold">l</text><text transform="translate(1234.49,100.70) scale(0.872,1)" font-size="55" font-weight="bold">N</text><text transform="translate(1102.77,186.70) scale(0.946,1)" font-size="55" font-weight="bold">T</text><text transform="translate(1137.98,186.70) scale(0.800,1)" font-size="55" font-weight="bold">i</text><text transform="translate(1151.92,203.30) scale(0.884,1)" font-size="47" font-weight="bold">4</text><text transform="translate(1176.53,186.70) scale(0.851,1)" font-size="55" font-weight="bold">A</text><text transform="translate(1213.87,186.70) scale(0.800,1)" font-size="55" font-weight="bold">l</text><text transform="translate(1229.33,186.70) scale(0.833,1)" font-size="55" font-weight="bold">N</text><text x="1264.31" y="203.30" font-size="47" font-weight="bold">3</text><text transform="translate(1105.75,266.30) scale(0.969,1)" font-size="55" font-weight="bold">T</text><text transform="translate(1142.82,266.30) scale(0.807,1)" font-size="55" font-weight="bold">i</text><text x="1154.26" y="283.50" font-size="47" font-weight="bold">3</text><text transform="translate(1180.53,266.30) scale(0.851,1)" font-size="55" font-weight="bold">A</text><text transform="translate(1218.62,266.30) scale(0.800,1)" font-size="55" font-weight="bold">l</text><text x="1230.77" y="283.50" font-size="47" font-weight="bold">2</text><text transform="translate(1256.11,266.30) scale(0.851,1)" font-size="55" font-weight="bold">N</text><text transform="translate(1291.32,283.50) scale(1.056,1)" font-size="47" font-weight="bold">2</text><text transform="translate(1107.75,345.30) scale(0.966,1)" font-size="55" font-weight="bold">T</text><text transform="translate(1144.38,345.30) scale(0.800,1)" font-size="55" font-weight="bold">i</text><text transform="translate(1160.52,345.30) scale(0.846,1)" font-size="55" font-weight="bold">N</text></g>
</g>
</svg>
</body></html>
